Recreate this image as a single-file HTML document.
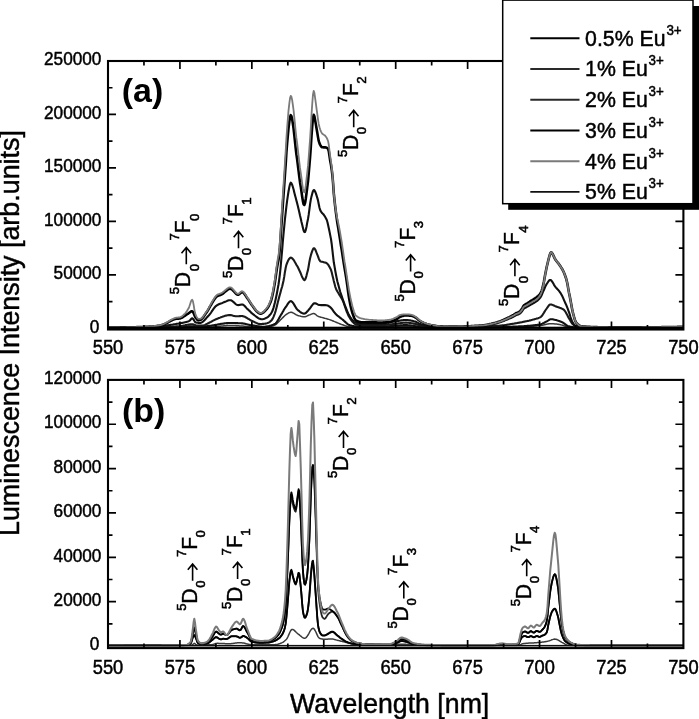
<!DOCTYPE html>
<html><head><meta charset="utf-8"><style>html,body{margin:0;padding:0;background:#fff;overflow:hidden}svg{display:block;will-change:transform}</style></head>
<body><svg width="699" height="719" viewBox="0 0 699 719">
<rect width="699" height="719" fill="#fff"/>
<g>
<path d="M108.0,328.1 108.7,328.1 109.4,328.1 110.2,328.1 110.9,328.1 111.6,328.1 112.3,328.1 113.0,328.1 113.8,328.1 114.5,328.1 115.2,328.1 115.9,328.1 116.6,328.1 117.4,328.1 118.1,328.1 118.8,328.1 119.5,328.1 120.2,328.1 120.9,328.1 121.7,328.1 122.4,328.1 123.1,328.1 123.8,328.1 124.5,328.1 125.3,328.1 126.0,328.1 126.7,328.1 127.4,328.1 128.1,328.1 128.9,328.1 129.6,328.1 130.3,328.1 131.0,328.1 131.7,328.1 132.5,328.1 133.2,328.1 133.9,328.1 134.6,328.1 135.3,328.0 136.1,328.0 136.8,328.0 137.5,328.0 138.2,328.0 138.9,328.0 139.6,328.0 140.4,328.0 141.1,328.0 141.8,328.0 142.5,328.0 143.2,328.0 144.0,328.0 144.7,328.0 145.4,328.0 146.1,328.0 146.8,328.0 147.6,328.0 148.3,328.0 149.0,328.0 149.7,328.0 150.4,328.0 151.2,328.0 151.9,328.0 152.6,328.0 153.3,328.0 154.0,328.0 154.8,328.0 155.5,328.0 156.2,328.0 156.9,328.0 157.6,327.9 158.3,327.9 159.1,327.9 159.8,327.9 160.5,327.9 161.2,327.9 161.9,327.9 162.7,327.9 163.4,327.9 164.1,327.9 164.8,327.9 165.5,327.9 166.3,327.9 167.0,327.9 167.7,327.9 168.4,327.9 169.1,327.9 169.9,327.9 170.6,327.9 171.3,327.8 172.0,327.8 172.7,327.8 173.5,327.8 174.2,327.8 174.9,327.8 175.6,327.8 176.3,327.8 177.0,327.8 177.8,327.8 178.5,327.8 179.2,327.8 179.9,327.8 180.6,327.8 181.4,327.7 182.1,327.7 182.8,327.6 183.5,327.6 184.2,327.5 185.0,327.5 185.7,327.4 186.4,327.3 187.1,327.3 187.8,327.2 188.6,327.2 189.3,327.1 190.0,327.1 190.7,327.0 191.4,327.0 192.2,327.0 192.9,327.0 193.6,327.0 194.3,327.0 195.0,327.0 195.7,327.0 196.5,327.0 197.2,327.0 197.9,327.0 198.6,327.0 199.3,327.0 200.1,327.0 200.8,327.0 201.5,327.0 202.2,327.0 202.9,327.0 203.7,327.0 204.4,327.0 205.1,327.0 205.8,327.0 206.5,327.0 207.3,327.0 208.0,327.0 208.7,327.0 209.4,327.0 210.1,327.0 210.9,327.0 211.6,326.9 212.3,326.9 213.0,326.9 213.7,326.8 214.4,326.8 215.2,326.7 215.9,326.6 216.6,326.6 217.3,326.5 218.0,326.4 218.8,326.3 219.5,326.3 220.2,326.2 220.9,326.1 221.6,326.0 222.4,326.0 223.1,325.9 223.8,325.8 224.5,325.8 225.2,325.7 226.0,325.7 226.7,325.6 227.4,325.6 228.1,325.6 228.8,325.5 229.6,325.5 230.3,325.5 231.0,325.5 231.7,325.5 232.4,325.5 233.1,325.6 233.9,325.6 234.6,325.6 235.3,325.6 236.0,325.7 236.7,325.7 237.5,325.8 238.2,325.8 238.9,325.8 239.6,325.9 240.3,325.9 241.1,326.0 241.8,326.0 242.5,326.1 243.2,326.1 243.9,326.2 244.7,326.3 245.4,326.3 246.1,326.4 246.8,326.4 247.5,326.5 248.3,326.5 249.0,326.5 249.7,326.6 250.4,326.6 251.1,326.7 251.8,326.7 252.6,326.7 253.3,326.8 254.0,326.8 254.7,326.8 255.4,326.9 256.2,326.9 256.9,326.9 257.6,327.0 258.3,327.0 259.0,327.0 259.8,327.1 260.5,327.1 261.2,327.1 261.9,327.2 262.6,327.2 263.4,327.2 264.1,327.2 264.8,327.2 265.5,327.2 266.2,327.2 267.0,327.2 267.7,327.2 268.4,327.1 269.1,326.9 269.8,326.8 270.6,326.6 271.3,326.4 272.0,326.2 272.7,325.9 273.4,325.7 274.1,325.4 274.9,325.1 275.6,324.7 276.3,324.2 277.0,323.5 277.7,322.8 278.5,322.0 279.2,321.2 279.9,320.5 280.6,319.7 281.3,319.1 282.1,318.3 282.8,317.6 283.5,316.9 284.2,316.2 284.9,315.5 285.7,314.9 286.4,314.4 287.1,313.9 287.8,313.5 288.5,313.0 289.3,312.6 290.0,312.4 290.7,312.3 291.4,312.3 292.1,312.5 292.8,312.8 293.6,313.2 294.3,313.6 295.0,314.0 295.7,314.5 296.4,314.9 297.2,315.2 297.9,315.5 298.6,315.7 299.3,315.9 300.0,316.1 300.8,316.3 301.5,316.4 302.2,316.6 302.9,316.7 303.6,316.7 304.4,316.7 305.1,316.7 305.8,316.5 306.5,316.2 307.2,315.9 308.0,315.5 308.7,315.2 309.4,314.9 310.1,314.7 310.8,314.4 311.5,314.1 312.3,313.8 313.0,313.6 313.7,313.5 314.4,313.7 315.1,314.1 315.9,314.7 316.6,315.3 317.3,315.8 318.0,316.2 318.7,316.5 319.5,316.8 320.2,317.0 320.9,317.2 321.6,317.4 322.3,317.6 323.1,317.8 323.8,318.0 324.5,318.2 325.2,318.4 325.9,318.6 326.7,318.8 327.4,319.0 328.1,319.2 328.8,319.4 329.5,319.6 330.2,319.9 331.0,320.1 331.7,320.4 332.4,320.7 333.1,321.0 333.8,321.3 334.6,321.6 335.3,321.9 336.0,322.2 336.7,322.5 337.4,322.8 338.2,323.1 338.9,323.4 339.6,323.7 340.3,324.0 341.0,324.3 341.8,324.6 342.5,324.8 343.2,325.0 343.9,325.3 344.6,325.5 345.4,325.8 346.1,326.0 346.8,326.2 347.5,326.4 348.2,326.6 348.9,326.7 349.7,326.8 350.4,326.9 351.1,326.9 351.8,327.0 352.5,327.0 353.3,327.0 354.0,327.0 354.7,327.1 355.4,327.1 356.1,327.1 356.9,327.1 357.6,327.1 358.3,327.2 359.0,327.2 359.7,327.2 360.5,327.2 361.2,327.2 361.9,327.3 362.6,327.3 363.3,327.3 364.1,327.3 364.8,327.3 365.5,327.3 366.2,327.3 366.9,327.3 367.6,327.4 368.4,327.4 369.1,327.4 369.8,327.4 370.5,327.4 371.2,327.4 372.0,327.4 372.7,327.4 373.4,327.4 374.1,327.4 374.8,327.4 375.6,327.4 376.3,327.4 377.0,327.4 377.7,327.4 378.4,327.4 379.2,327.4 379.9,327.4 380.6,327.4 381.3,327.4 382.0,327.4 382.8,327.4 383.5,327.4 384.2,327.4 384.9,327.4 385.6,327.4 386.3,327.4 387.1,327.3 387.8,327.3 388.5,327.3 389.2,327.2 389.9,327.2 390.7,327.2 391.4,327.1 392.1,327.1 392.8,327.1 393.5,327.0 394.3,327.0 395.0,326.9 395.7,326.9 396.4,326.9 397.1,326.8 397.9,326.8 398.6,326.8 399.3,326.7 400.0,326.7 400.7,326.7 401.5,326.7 402.2,326.6 402.9,326.6 403.6,326.6 404.3,326.6 405.1,326.6 405.8,326.6 406.5,326.6 407.2,326.6 407.9,326.6 408.6,326.7 409.4,326.7 410.1,326.7 410.8,326.8 411.5,326.9 412.2,326.9 413.0,327.0 413.7,327.0 414.4,327.1 415.1,327.2 415.8,327.2 416.6,327.3 417.3,327.4 418.0,327.4 418.7,327.5 419.4,327.6 420.2,327.6 420.9,327.7 421.6,327.7 422.3,327.7 423.0,327.7 423.8,327.8 424.5,327.8 425.2,327.8 425.9,327.8 426.6,327.8 427.3,327.8 428.1,327.8 428.8,327.8 429.5,327.8 430.2,327.8 430.9,327.8 431.7,327.8 432.4,327.8 433.1,327.8 433.8,327.8 434.5,327.8 435.3,327.8 436.0,327.8 436.7,327.8 437.4,327.8 438.1,327.8 438.9,327.8 439.6,327.8 440.3,327.8 441.0,327.8 441.7,327.8 442.5,327.8 443.2,327.8 443.9,327.8 444.6,327.8 445.3,327.7 446.0,327.7 446.8,327.7 447.5,327.7 448.2,327.7 448.9,327.7 449.6,327.7 450.4,327.7 451.1,327.7 451.8,327.7 452.5,327.7 453.2,327.7 454.0,327.7 454.7,327.7 455.4,327.7 456.1,327.7 456.8,327.7 457.6,327.7 458.3,327.7 459.0,327.7 459.7,327.7 460.4,327.7 461.2,327.7 461.9,327.7 462.6,327.7 463.3,327.7 464.0,327.7 464.7,327.7 465.5,327.7 466.2,327.7 466.9,327.7 467.6,327.7 468.3,327.7 469.1,327.7 469.8,327.7 470.5,327.7 471.2,327.7 471.9,327.7 472.7,327.7 473.4,327.7 474.1,327.7 474.8,327.7 475.5,327.7 476.3,327.7 477.0,327.7 477.7,327.7 478.4,327.7 479.1,327.6 479.9,327.6 480.6,327.6 481.3,327.6 482.0,327.6 482.7,327.6 483.4,327.6 484.2,327.6 484.9,327.6 485.6,327.6 486.3,327.6 487.0,327.6 487.8,327.6 488.5,327.6 489.2,327.6 489.9,327.6 490.6,327.6 491.4,327.6 492.1,327.6 492.8,327.6 493.5,327.6 494.2,327.6 495.0,327.6 495.7,327.6 496.4,327.6 497.1,327.5 497.8,327.5 498.6,327.5 499.3,327.5 500.0,327.5 500.7,327.5 501.4,327.5 502.1,327.5 502.9,327.5 503.6,327.5 504.3,327.5 505.0,327.5 505.7,327.5 506.5,327.5 507.2,327.5 507.9,327.5 508.6,327.5 509.3,327.5 510.1,327.5 510.8,327.4 511.5,327.4 512.2,327.4 512.9,327.4 513.7,327.4 514.4,327.4 515.1,327.4 515.8,327.3 516.5,327.3 517.3,327.3 518.0,327.3 518.7,327.2 519.4,327.2 520.1,327.2 520.8,327.1 521.6,327.1 522.3,327.0 523.0,327.0 523.7,327.0 524.4,326.9 525.2,326.9 525.9,326.8 526.6,326.8 527.3,326.7 528.0,326.7 528.8,326.6 529.5,326.5 530.2,326.5 530.9,326.4 531.6,326.4 532.4,326.3 533.1,326.2 533.8,326.2 534.5,326.1 535.2,326.0 536.0,326.0 536.7,325.9 537.4,325.8 538.1,325.8 538.8,325.7 539.5,325.6 540.3,325.5 541.0,325.4 541.7,325.3 542.4,325.2 543.1,325.0 543.9,324.9 544.6,324.7 545.3,324.5 546.0,324.4 546.7,324.2 547.5,324.1 548.2,324.0 548.9,323.8 549.6,323.8 550.3,323.7 551.1,323.7 551.8,323.7 552.5,323.7 553.2,323.8 553.9,323.8 554.7,323.9 555.4,324.0 556.1,324.1 556.8,324.1 557.5,324.2 558.3,324.3 559.0,324.5 559.7,324.6 560.4,324.7 561.1,324.9 561.8,325.1 562.6,325.3 563.3,325.5 564.0,325.8 564.7,326.1 565.4,326.3 566.2,326.5 566.9,326.7 567.6,326.9 568.3,327.0 569.0,327.1 569.8,327.2 570.5,327.3 571.2,327.4 571.9,327.5 572.6,327.5 573.4,327.6 574.1,327.7 574.8,327.8 575.5,327.8 576.2,327.9 577.0,327.9 577.7,327.9 578.4,328.0 579.1,328.0 579.8,328.0 580.5,328.0 581.3,328.0 582.0,328.0 582.7,328.0 583.4,328.0 584.1,328.0 584.9,328.0 585.6,328.0 586.3,328.0 587.0,328.0 587.7,328.0 588.5,328.0 589.2,328.0 589.9,328.0 590.6,328.0 591.3,328.0 592.1,328.0 592.8,328.0 593.5,328.0 594.2,328.0 594.9,328.0 595.7,328.0 596.4,328.0 597.1,328.0 597.8,328.0 598.5,328.0 599.2,328.0 600.0,328.0 600.7,328.0 601.4,328.0 602.1,328.0 602.8,328.0 603.6,328.0 604.3,328.0 605.0,328.0 605.7,328.0 606.4,328.0 607.2,328.0 607.9,328.0 608.6,328.0 609.3,328.0 610.0,328.0 610.8,328.0 611.5,328.0 612.2,328.0 612.9,328.0 613.6,328.0 614.4,328.0 615.1,328.0 615.8,328.0 616.5,328.0 617.2,328.0 617.9,328.0 618.7,328.0 619.4,328.0 620.1,328.0 620.8,328.0 621.5,328.0 622.3,328.0 623.0,328.0 623.7,328.0 624.4,328.0 625.1,328.0 625.9,328.0 626.6,328.0 627.3,328.0 628.0,328.0 628.7,328.0 629.5,328.0 630.2,328.0 630.9,328.0 631.6,328.0 632.3,328.0 633.1,328.0 633.8,328.0 634.5,328.0 635.2,328.0 635.9,328.0 636.6,328.0 637.4,328.0 638.1,328.0 638.8,328.0 639.5,328.0 640.2,328.0 641.0,328.0 641.7,328.0 642.4,328.0 643.1,328.0 643.8,328.0 644.6,328.0 645.3,328.0 646.0,328.0 646.7,328.0 647.4,328.0 648.2,328.0 648.9,328.0 649.6,328.0 650.3,328.0 651.0,328.0 651.8,328.0 652.5,328.0 653.2,328.0 653.9,328.0 654.6,328.0 655.3,328.0 656.1,328.0 656.8,328.0 657.5,328.0 658.2,328.0 658.9,328.0 659.7,328.0 660.4,328.0 661.1,328.0 661.8,328.0 662.5,328.0 663.3,328.0 664.0,328.0 664.7,328.0 665.4,328.0 666.1,328.0 666.9,328.0 667.6,328.0 668.3,328.0 669.0,328.0 669.7,328.0 670.5,328.0 671.2,328.0 671.9,328.0 672.6,328.0 673.3,328.0 674.0,328.0 674.8,328.0 675.5,328.0 676.2,328.0 676.9,328.0 677.6,328.0 678.4,328.0 679.1,328.0 679.8,328.0 680.5,328.0 681.2,328.0 682.0,328.0 682.7,328.0 683.4,328.0" stroke="#3a3a3a" stroke-width="1.5" fill="none" stroke-linejoin="round"/>
<path d="M108.0,328.1 108.7,328.1 109.4,328.1 110.2,328.1 110.9,328.1 111.6,328.1 112.3,328.1 113.0,328.1 113.8,328.1 114.5,328.1 115.2,328.1 115.9,328.1 116.6,328.1 117.4,328.1 118.1,328.1 118.8,328.1 119.5,328.1 120.2,328.1 120.9,328.1 121.7,328.1 122.4,328.1 123.1,328.1 123.8,328.1 124.5,328.1 125.3,328.1 126.0,328.1 126.7,328.1 127.4,328.0 128.1,328.0 128.9,328.0 129.6,328.0 130.3,328.0 131.0,328.0 131.7,328.0 132.5,328.0 133.2,328.0 133.9,328.0 134.6,328.0 135.3,328.0 136.1,328.0 136.8,328.0 137.5,328.0 138.2,328.0 138.9,328.0 139.6,328.0 140.4,328.0 141.1,328.0 141.8,328.0 142.5,328.0 143.2,328.0 144.0,327.9 144.7,327.9 145.4,327.9 146.1,327.9 146.8,327.9 147.6,327.9 148.3,327.9 149.0,327.9 149.7,327.9 150.4,327.9 151.2,327.9 151.9,327.9 152.6,327.9 153.3,327.9 154.0,327.9 154.8,327.8 155.5,327.8 156.2,327.8 156.9,327.8 157.6,327.8 158.3,327.8 159.1,327.8 159.8,327.8 160.5,327.8 161.2,327.8 161.9,327.8 162.7,327.7 163.4,327.7 164.1,327.7 164.8,327.7 165.5,327.7 166.3,327.7 167.0,327.7 167.7,327.7 168.4,327.7 169.1,327.6 169.9,327.6 170.6,327.6 171.3,327.6 172.0,327.6 172.7,327.6 173.5,327.6 174.2,327.6 174.9,327.5 175.6,327.5 176.3,327.5 177.0,327.5 177.8,327.5 178.5,327.5 179.2,327.5 179.9,327.4 180.6,327.4 181.4,327.4 182.1,327.3 182.8,327.2 183.5,327.1 184.2,327.0 185.0,326.9 185.7,326.8 186.4,326.7 187.1,326.6 187.8,326.5 188.6,326.4 189.3,326.3 190.0,326.3 190.7,326.2 191.4,326.2 192.2,326.2 192.9,326.2 193.6,326.3 194.3,326.5 195.0,326.7 195.7,326.8 196.5,327.0 197.2,327.0 197.9,327.0 198.6,327.0 199.3,327.0 200.1,326.9 200.8,326.9 201.5,326.8 202.2,326.7 202.9,326.6 203.7,326.6 204.4,326.5 205.1,326.4 205.8,326.3 206.5,326.2 207.3,326.1 208.0,326.0 208.7,325.9 209.4,325.9 210.1,325.8 210.9,325.7 211.6,325.6 212.3,325.5 213.0,325.3 213.7,325.2 214.4,325.1 215.2,325.0 215.9,324.8 216.6,324.7 217.3,324.6 218.0,324.4 218.8,324.3 219.5,324.2 220.2,324.0 220.9,323.9 221.6,323.8 222.4,323.7 223.1,323.6 223.8,323.5 224.5,323.4 225.2,323.3 226.0,323.2 226.7,323.1 227.4,323.1 228.1,323.0 228.8,323.0 229.6,323.0 230.3,323.0 231.0,323.0 231.7,323.0 232.4,323.0 233.1,323.0 233.9,323.0 234.6,323.0 235.3,323.0 236.0,323.1 236.7,323.1 237.5,323.1 238.2,323.2 238.9,323.2 239.6,323.3 240.3,323.3 241.1,323.3 241.8,323.4 242.5,323.4 243.2,323.5 243.9,323.6 244.7,323.8 245.4,323.9 246.1,324.1 246.8,324.2 247.5,324.4 248.3,324.6 249.0,324.7 249.7,324.9 250.4,325.1 251.1,325.2 251.8,325.3 252.6,325.4 253.3,325.5 254.0,325.6 254.7,325.8 255.4,325.9 256.2,326.0 256.9,326.1 257.6,326.2 258.3,326.3 259.0,326.4 259.8,326.5 260.5,326.6 261.2,326.6 261.9,326.7 262.6,326.7 263.4,326.7 264.1,326.7 264.8,326.7 265.5,326.6 266.2,326.5 267.0,326.4 267.7,326.3 268.4,326.2 269.1,326.0 269.8,325.8 270.6,325.6 271.3,325.4 272.0,325.1 272.7,324.9 273.4,324.6 274.1,324.3 274.9,324.0 275.6,323.5 276.3,322.8 277.0,321.7 277.7,320.6 278.5,319.3 279.2,318.0 279.9,316.7 280.6,315.5 281.3,314.3 282.1,313.1 282.8,311.8 283.5,310.6 284.2,309.3 284.9,308.2 285.7,307.1 286.4,306.1 287.1,305.0 287.8,303.9 288.5,302.9 289.3,302.0 290.0,301.4 290.7,301.1 291.4,301.3 292.1,301.8 292.8,302.6 293.6,303.7 294.3,304.9 295.0,306.1 295.7,307.3 296.4,308.5 297.2,309.4 297.9,310.1 298.6,310.7 299.3,311.2 300.0,311.8 300.8,312.3 301.5,312.8 302.2,313.1 302.9,313.4 303.6,313.6 304.4,313.6 305.1,313.4 305.8,313.0 306.5,312.3 307.2,311.5 308.0,310.7 308.7,309.8 309.4,309.1 310.1,308.2 310.8,307.2 311.5,306.1 312.3,305.1 313.0,304.2 313.7,303.5 314.4,303.2 315.1,303.2 315.9,303.5 316.6,303.8 317.3,304.2 318.0,304.6 318.7,304.9 319.5,305.0 320.2,305.0 320.9,305.1 321.6,305.1 322.3,305.1 323.1,305.1 323.8,305.1 324.5,305.1 325.2,305.1 325.9,305.2 326.7,305.2 327.4,305.4 328.1,305.7 328.8,306.1 329.5,306.7 330.2,307.2 331.0,307.9 331.7,308.7 332.4,309.6 333.1,310.6 333.8,311.7 334.6,312.6 335.3,313.5 336.0,314.2 336.7,314.9 337.4,315.6 338.2,316.2 338.9,316.7 339.6,317.3 340.3,317.9 341.0,318.4 341.8,319.0 342.5,319.5 343.2,320.1 343.9,320.8 344.6,321.4 345.4,322.1 346.1,322.8 346.8,323.4 347.5,324.0 348.2,324.5 348.9,324.9 349.7,325.1 350.4,325.4 351.1,325.6 351.8,325.8 352.5,326.0 353.3,326.1 354.0,326.3 354.7,326.3 355.4,326.4 356.1,326.4 356.9,326.4 357.6,326.4 358.3,326.4 359.0,326.4 359.7,326.4 360.5,326.4 361.2,326.4 361.9,326.4 362.6,326.4 363.3,326.4 364.1,326.4 364.8,326.4 365.5,326.4 366.2,326.5 366.9,326.5 367.6,326.5 368.4,326.5 369.1,326.5 369.8,326.5 370.5,326.5 371.2,326.5 372.0,326.5 372.7,326.5 373.4,326.5 374.1,326.5 374.8,326.5 375.6,326.5 376.3,326.5 377.0,326.5 377.7,326.5 378.4,326.5 379.2,326.5 379.9,326.5 380.6,326.5 381.3,326.5 382.0,326.5 382.8,326.5 383.5,326.5 384.2,326.4 384.9,326.4 385.6,326.4 386.3,326.3 387.1,326.3 387.8,326.3 388.5,326.2 389.2,326.2 389.9,326.1 390.7,326.1 391.4,326.0 392.1,326.0 392.8,325.9 393.5,325.9 394.3,325.8 395.0,325.8 395.7,325.7 396.4,325.7 397.1,325.6 397.9,325.6 398.6,325.5 399.3,325.5 400.0,325.4 400.7,325.3 401.5,325.3 402.2,325.2 402.9,325.2 403.6,325.1 404.3,325.1 405.1,325.1 405.8,325.1 406.5,325.1 407.2,325.1 407.9,325.2 408.6,325.2 409.4,325.3 410.1,325.4 410.8,325.5 411.5,325.6 412.2,325.7 413.0,325.8 413.7,325.9 414.4,326.0 415.1,326.1 415.8,326.2 416.6,326.2 417.3,326.3 418.0,326.4 418.7,326.5 419.4,326.6 420.2,326.7 420.9,326.8 421.6,326.9 422.3,327.0 423.0,327.1 423.8,327.2 424.5,327.3 425.2,327.4 425.9,327.4 426.6,327.5 427.3,327.6 428.1,327.6 428.8,327.6 429.5,327.7 430.2,327.7 430.9,327.7 431.7,327.7 432.4,327.7 433.1,327.7 433.8,327.7 434.5,327.7 435.3,327.7 436.0,327.7 436.7,327.7 437.4,327.7 438.1,327.6 438.9,327.6 439.6,327.6 440.3,327.6 441.0,327.6 441.7,327.6 442.5,327.6 443.2,327.6 443.9,327.6 444.6,327.6 445.3,327.6 446.0,327.6 446.8,327.6 447.5,327.6 448.2,327.6 448.9,327.6 449.6,327.6 450.4,327.6 451.1,327.6 451.8,327.6 452.5,327.6 453.2,327.6 454.0,327.6 454.7,327.6 455.4,327.6 456.1,327.6 456.8,327.5 457.6,327.5 458.3,327.5 459.0,327.5 459.7,327.5 460.4,327.5 461.2,327.5 461.9,327.5 462.6,327.5 463.3,327.5 464.0,327.5 464.7,327.5 465.5,327.5 466.2,327.5 466.9,327.5 467.6,327.4 468.3,327.4 469.1,327.4 469.8,327.4 470.5,327.4 471.2,327.4 471.9,327.4 472.7,327.4 473.4,327.4 474.1,327.4 474.8,327.4 475.5,327.3 476.3,327.3 477.0,327.3 477.7,327.3 478.4,327.3 479.1,327.3 479.9,327.3 480.6,327.3 481.3,327.3 482.0,327.3 482.7,327.2 483.4,327.2 484.2,327.2 484.9,327.2 485.6,327.2 486.3,327.2 487.0,327.2 487.8,327.2 488.5,327.1 489.2,327.1 489.9,327.1 490.6,327.1 491.4,327.1 492.1,327.1 492.8,327.1 493.5,327.1 494.2,327.0 495.0,327.0 495.7,327.0 496.4,327.0 497.1,327.0 497.8,327.0 498.6,327.0 499.3,326.9 500.0,326.9 500.7,326.9 501.4,326.9 502.1,326.9 502.9,326.9 503.6,326.9 504.3,326.8 505.0,326.8 505.7,326.8 506.5,326.8 507.2,326.8 507.9,326.8 508.6,326.7 509.3,326.7 510.1,326.7 510.8,326.7 511.5,326.7 512.2,326.7 512.9,326.6 513.7,326.6 514.4,326.6 515.1,326.6 515.8,326.6 516.5,326.5 517.3,326.5 518.0,326.5 518.7,326.4 519.4,326.4 520.1,326.4 520.8,326.3 521.6,326.3 522.3,326.3 523.0,326.2 523.7,326.2 524.4,326.1 525.2,326.1 525.9,326.0 526.6,326.0 527.3,325.9 528.0,325.9 528.8,325.8 529.5,325.7 530.2,325.7 530.9,325.6 531.6,325.5 532.4,325.5 533.1,325.4 533.8,325.3 534.5,325.2 535.2,325.1 536.0,325.0 536.7,325.0 537.4,324.9 538.1,324.8 538.8,324.7 539.5,324.6 540.3,324.4 541.0,324.2 541.7,323.9 542.4,323.6 543.1,323.2 543.9,322.9 544.6,322.5 545.3,322.1 546.0,321.7 546.7,321.4 547.5,321.0 548.2,320.5 548.9,320.0 549.6,319.6 550.3,319.3 551.1,319.2 551.8,319.2 552.5,319.3 553.2,319.4 553.9,319.6 554.7,319.7 555.4,319.9 556.1,320.1 556.8,320.3 557.5,320.5 558.3,320.7 559.0,320.9 559.7,321.2 560.4,321.5 561.1,321.8 561.8,322.1 562.6,322.4 563.3,322.8 564.0,323.3 564.7,323.9 565.4,324.5 566.2,325.0 566.9,325.5 567.6,325.9 568.3,326.2 569.0,326.3 569.8,326.5 570.5,326.7 571.2,326.8 571.9,327.0 572.6,327.1 573.4,327.2 574.1,327.3 574.8,327.4 575.5,327.5 576.2,327.6 577.0,327.6 577.7,327.7 578.4,327.7 579.1,327.8 579.8,327.8 580.5,327.8 581.3,327.8 582.0,327.8 582.7,327.8 583.4,327.8 584.1,327.8 584.9,327.8 585.6,327.8 586.3,327.8 587.0,327.8 587.7,327.8 588.5,327.8 589.2,327.8 589.9,327.8 590.6,327.8 591.3,327.8 592.1,327.8 592.8,327.8 593.5,327.8 594.2,327.8 594.9,327.8 595.7,327.8 596.4,327.8 597.1,327.8 597.8,327.8 598.5,327.8 599.2,327.8 600.0,327.8 600.7,327.8 601.4,327.8 602.1,327.8 602.8,327.8 603.6,327.8 604.3,327.8 605.0,327.8 605.7,327.8 606.4,327.8 607.2,327.8 607.9,327.8 608.6,327.8 609.3,327.8 610.0,327.8 610.8,327.8 611.5,327.8 612.2,327.8 612.9,327.8 613.6,327.8 614.4,327.8 615.1,327.8 615.8,327.8 616.5,327.8 617.2,327.8 617.9,327.8 618.7,327.8 619.4,327.8 620.1,327.8 620.8,327.8 621.5,327.8 622.3,327.8 623.0,327.8 623.7,327.8 624.4,327.8 625.1,327.8 625.9,327.8 626.6,327.8 627.3,327.8 628.0,327.8 628.7,327.8 629.5,327.8 630.2,327.8 630.9,327.8 631.6,327.8 632.3,327.8 633.1,327.8 633.8,327.8 634.5,327.8 635.2,327.8 635.9,327.8 636.6,327.8 637.4,327.8 638.1,327.8 638.8,327.8 639.5,327.8 640.2,327.8 641.0,327.8 641.7,327.8 642.4,327.8 643.1,327.8 643.8,327.8 644.6,327.8 645.3,327.8 646.0,327.8 646.7,327.8 647.4,327.8 648.2,327.8 648.9,327.8 649.6,327.8 650.3,327.8 651.0,327.8 651.8,327.8 652.5,327.8 653.2,327.8 653.9,327.8 654.6,327.8 655.3,327.8 656.1,327.8 656.8,327.8 657.5,327.8 658.2,327.8 658.9,327.8 659.7,327.8 660.4,327.8 661.1,327.8 661.8,327.8 662.5,327.8 663.3,327.8 664.0,327.8 664.7,327.8 665.4,327.8 666.1,327.8 666.9,327.8 667.6,327.8 668.3,327.8 669.0,327.8 669.7,327.8 670.5,327.8 671.2,327.8 671.9,327.8 672.6,327.8 673.3,327.8 674.0,327.8 674.8,327.8 675.5,327.8 676.2,327.8 676.9,327.8 677.6,327.8 678.4,327.8 679.1,327.8 679.8,327.8 680.5,327.8 681.2,327.8 682.0,327.8 682.7,327.8 683.4,327.8" stroke="#111" stroke-width="2.1" fill="none" stroke-linejoin="round"/>
<path d="M108.0,328.0 108.7,328.0 109.4,328.0 110.2,328.0 110.9,328.0 111.6,328.0 112.3,328.0 113.0,328.0 113.8,328.0 114.5,328.0 115.2,328.0 115.9,328.0 116.6,328.0 117.4,328.0 118.1,328.0 118.8,328.0 119.5,328.0 120.2,328.0 120.9,327.9 121.7,327.9 122.4,327.9 123.1,327.9 123.8,327.9 124.5,327.9 125.3,327.9 126.0,327.9 126.7,327.9 127.4,327.9 128.1,327.9 128.9,327.9 129.6,327.9 130.3,327.9 131.0,327.9 131.7,327.9 132.5,327.9 133.2,327.9 133.9,327.9 134.6,327.9 135.3,327.8 136.1,327.8 136.8,327.8 137.5,327.8 138.2,327.8 138.9,327.8 139.6,327.8 140.4,327.8 141.1,327.8 141.8,327.8 142.5,327.8 143.2,327.8 144.0,327.8 144.7,327.7 145.4,327.7 146.1,327.7 146.8,327.7 147.6,327.7 148.3,327.7 149.0,327.7 149.7,327.7 150.4,327.7 151.2,327.7 151.9,327.6 152.6,327.6 153.3,327.6 154.0,327.6 154.8,327.6 155.5,327.5 156.2,327.5 156.9,327.5 157.6,327.4 158.3,327.4 159.1,327.4 159.8,327.3 160.5,327.3 161.2,327.3 161.9,327.2 162.7,327.2 163.4,327.1 164.1,327.1 164.8,327.1 165.5,327.0 166.3,327.0 167.0,326.9 167.7,326.9 168.4,326.9 169.1,326.8 169.9,326.8 170.6,326.8 171.3,326.7 172.0,326.7 172.7,326.7 173.5,326.6 174.2,326.6 174.9,326.5 175.6,326.5 176.3,326.4 177.0,326.4 177.8,326.3 178.5,326.3 179.2,326.2 179.9,326.2 180.6,326.1 181.4,326.0 182.1,325.9 182.8,325.7 183.5,325.6 184.2,325.5 185.0,325.3 185.7,325.1 186.4,325.0 187.1,324.8 187.8,324.7 188.6,324.6 189.3,324.5 190.0,324.4 190.7,324.3 191.4,324.3 192.2,324.2 192.9,324.3 193.6,324.5 194.3,324.8 195.0,325.1 195.7,325.3 196.5,325.5 197.2,325.6 197.9,325.6 198.6,325.6 199.3,325.6 200.1,325.6 200.8,325.6 201.5,325.6 202.2,325.5 202.9,325.5 203.7,325.4 204.4,325.2 205.1,324.9 205.8,324.5 206.5,324.1 207.3,323.7 208.0,323.3 208.7,323.0 209.4,322.6 210.1,322.2 210.9,321.9 211.6,321.5 212.3,321.1 213.0,320.7 213.7,320.3 214.4,320.0 215.2,319.6 215.9,319.3 216.6,319.0 217.3,318.7 218.0,318.4 218.8,318.1 219.5,317.9 220.2,317.6 220.9,317.3 221.6,317.0 222.4,316.8 223.1,316.5 223.8,316.3 224.5,316.0 225.2,315.8 226.0,315.6 226.7,315.5 227.4,315.3 228.1,315.2 228.8,315.1 229.6,315.1 230.3,315.0 231.0,315.1 231.7,315.2 232.4,315.4 233.1,315.7 233.9,315.9 234.6,316.1 235.3,316.3 236.0,316.3 236.7,316.3 237.5,316.3 238.2,316.2 238.9,316.2 239.6,316.1 240.3,316.1 241.1,316.0 241.8,316.0 242.5,316.1 243.2,316.2 243.9,316.4 244.7,316.7 245.4,317.1 246.1,317.5 246.8,317.9 247.5,318.3 248.3,318.8 249.0,319.2 249.7,319.7 250.4,320.1 251.1,320.5 251.8,320.8 252.6,321.1 253.3,321.5 254.0,321.8 254.7,322.2 255.4,322.5 256.2,322.9 256.9,323.2 257.6,323.5 258.3,323.7 259.0,323.9 259.8,324.0 260.5,324.0 261.2,324.0 261.9,324.0 262.6,323.9 263.4,323.9 264.1,323.8 264.8,323.7 265.5,323.6 266.2,323.5 267.0,323.3 267.7,323.1 268.4,322.7 269.1,322.3 269.8,321.8 270.6,321.2 271.3,320.5 272.0,319.7 272.7,318.7 273.4,317.1 274.1,315.3 274.9,313.3 275.6,311.1 276.3,308.5 277.0,305.7 277.7,302.7 278.5,299.8 279.2,297.1 279.9,294.5 280.6,291.9 281.3,289.3 282.1,286.7 282.8,283.8 283.5,280.7 284.2,276.9 284.9,272.2 285.7,267.8 286.4,264.8 287.1,263.0 287.8,261.3 288.5,259.9 289.3,258.7 290.0,258.0 290.7,257.6 291.4,257.8 292.1,258.2 292.8,259.0 293.6,259.9 294.3,261.0 295.0,262.3 295.7,263.5 296.4,264.8 297.2,266.0 297.9,267.3 298.6,268.7 299.3,270.2 300.0,271.7 300.8,273.5 301.5,275.4 302.2,277.0 302.9,278.3 303.6,279.5 304.4,280.2 305.1,279.7 305.8,278.0 306.5,275.6 307.2,272.8 308.0,269.9 308.7,266.0 309.4,261.7 310.1,258.2 310.8,255.6 311.5,253.1 312.3,250.8 313.0,249.1 313.7,248.2 314.4,248.3 315.1,249.3 315.9,251.0 316.6,252.9 317.3,254.6 318.0,256.4 318.7,258.4 319.5,260.2 320.2,261.2 320.9,261.5 321.6,261.7 322.3,261.8 323.1,262.0 323.8,262.2 324.5,262.4 325.2,262.6 325.9,262.8 326.7,263.2 327.4,263.8 328.1,264.7 328.8,265.7 329.5,266.9 330.2,268.2 331.0,269.9 331.7,272.3 332.4,275.2 333.1,278.0 333.8,281.0 334.6,284.1 335.3,286.8 336.0,288.7 336.7,290.2 337.4,291.5 338.2,292.8 338.9,294.0 339.6,295.2 340.3,296.3 341.0,297.4 341.8,298.6 342.5,300.0 343.2,301.5 343.9,303.4 344.6,305.5 345.4,307.8 346.1,309.9 346.8,311.8 347.5,313.4 348.2,315.0 348.9,316.5 349.7,317.8 350.4,318.9 351.1,319.9 351.8,320.9 352.5,321.8 353.3,322.6 354.0,323.3 354.7,323.9 355.4,324.2 356.1,324.4 356.9,324.6 357.6,324.7 358.3,324.8 359.0,325.0 359.7,325.0 360.5,325.1 361.2,325.1 361.9,325.1 362.6,325.1 363.3,325.1 364.1,325.1 364.8,325.1 365.5,325.1 366.2,325.1 366.9,325.1 367.6,325.1 368.4,325.1 369.1,325.1 369.8,325.1 370.5,325.1 371.2,325.1 372.0,325.1 372.7,325.1 373.4,325.1 374.1,325.1 374.8,325.1 375.6,325.1 376.3,325.1 377.0,325.1 377.7,325.1 378.4,325.1 379.2,325.1 379.9,325.1 380.6,325.1 381.3,325.1 382.0,325.1 382.8,325.1 383.5,325.0 384.2,325.0 384.9,325.0 385.6,324.9 386.3,324.8 387.1,324.8 387.8,324.7 388.5,324.6 389.2,324.6 389.9,324.5 390.7,324.4 391.4,324.3 392.1,324.2 392.8,324.1 393.5,324.0 394.3,324.0 395.0,323.9 395.7,323.8 396.4,323.7 397.1,323.6 397.9,323.5 398.6,323.4 399.3,323.3 400.0,323.2 400.7,323.1 401.5,323.0 402.2,322.9 402.9,322.8 403.6,322.7 404.3,322.7 405.1,322.6 405.8,322.6 406.5,322.6 407.2,322.7 407.9,322.7 408.6,322.8 409.4,322.9 410.1,323.0 410.8,323.1 411.5,323.2 412.2,323.3 413.0,323.5 413.7,323.6 414.4,323.7 415.1,323.9 415.8,324.0 416.6,324.2 417.3,324.4 418.0,324.7 418.7,324.9 419.4,325.2 420.2,325.5 420.9,325.8 421.6,326.1 422.3,326.3 423.0,326.5 423.8,326.6 424.5,326.7 425.2,326.7 425.9,326.8 426.6,326.8 427.3,326.8 428.1,326.9 428.8,326.9 429.5,327.0 430.2,327.0 430.9,327.0 431.7,327.0 432.4,327.1 433.1,327.1 433.8,327.1 434.5,327.1 435.3,327.2 436.0,327.2 436.7,327.2 437.4,327.2 438.1,327.3 438.9,327.3 439.6,327.3 440.3,327.3 441.0,327.3 441.7,327.3 442.5,327.4 443.2,327.4 443.9,327.4 444.6,327.4 445.3,327.4 446.0,327.4 446.8,327.4 447.5,327.4 448.2,327.4 448.9,327.4 449.6,327.4 450.4,327.4 451.1,327.4 451.8,327.4 452.5,327.4 453.2,327.4 454.0,327.4 454.7,327.4 455.4,327.4 456.1,327.4 456.8,327.4 457.6,327.4 458.3,327.4 459.0,327.4 459.7,327.4 460.4,327.4 461.2,327.4 461.9,327.4 462.6,327.4 463.3,327.3 464.0,327.3 464.7,327.3 465.5,327.3 466.2,327.3 466.9,327.3 467.6,327.2 468.3,327.2 469.1,327.2 469.8,327.2 470.5,327.2 471.2,327.1 471.9,327.1 472.7,327.1 473.4,327.1 474.1,327.0 474.8,327.0 475.5,327.0 476.3,327.0 477.0,326.9 477.7,326.9 478.4,326.9 479.1,326.8 479.9,326.8 480.6,326.8 481.3,326.7 482.0,326.7 482.7,326.7 483.4,326.6 484.2,326.6 484.9,326.6 485.6,326.5 486.3,326.5 487.0,326.4 487.8,326.4 488.5,326.4 489.2,326.3 489.9,326.3 490.6,326.2 491.4,326.2 492.1,326.1 492.8,326.1 493.5,326.1 494.2,326.0 495.0,326.0 495.7,325.9 496.4,325.9 497.1,325.8 497.8,325.8 498.6,325.7 499.3,325.7 500.0,325.6 500.7,325.6 501.4,325.5 502.1,325.4 502.9,325.4 503.6,325.3 504.3,325.2 505.0,325.1 505.7,325.0 506.5,324.9 507.2,324.8 507.9,324.6 508.6,324.5 509.3,324.4 510.1,324.3 510.8,324.1 511.5,324.0 512.2,323.9 512.9,323.8 513.7,323.7 514.4,323.5 515.1,323.4 515.8,323.3 516.5,323.2 517.3,323.0 518.0,322.9 518.7,322.8 519.4,322.6 520.1,322.5 520.8,322.4 521.6,322.2 522.3,322.1 523.0,321.9 523.7,321.8 524.4,321.6 525.2,321.5 525.9,321.3 526.6,321.2 527.3,321.0 528.0,320.9 528.8,320.7 529.5,320.5 530.2,320.4 530.9,320.2 531.6,320.0 532.4,319.8 533.1,319.6 533.8,319.4 534.5,319.2 535.2,319.0 536.0,318.8 536.7,318.6 537.4,318.4 538.1,318.2 538.8,317.9 539.5,317.6 540.3,317.2 541.0,316.8 541.7,316.1 542.4,315.1 543.1,314.0 543.9,312.8 544.6,311.6 545.3,310.5 546.0,309.5 546.7,308.5 547.5,307.4 548.2,306.4 548.9,305.4 549.6,304.8 550.3,304.5 551.1,304.5 551.8,304.6 552.5,304.9 553.2,305.2 553.9,305.5 554.7,305.9 555.4,306.2 556.1,306.5 556.8,306.8 557.5,307.1 558.3,307.3 559.0,307.5 559.7,307.8 560.4,308.0 561.1,308.3 561.8,308.6 562.6,309.0 563.3,309.4 564.0,309.9 564.7,310.7 565.4,311.8 566.2,313.1 566.9,314.4 567.6,315.8 568.3,317.2 569.0,318.4 569.8,319.6 570.5,320.9 571.2,322.1 571.9,323.2 572.6,324.0 573.4,324.8 574.1,325.5 574.8,326.2 575.5,326.7 576.2,327.1 577.0,327.2 577.7,327.2 578.4,327.2 579.1,327.2 579.8,327.2 580.5,327.3 581.3,327.3 582.0,327.3 582.7,327.3 583.4,327.3 584.1,327.3 584.9,327.3 585.6,327.3 586.3,327.3 587.0,327.3 587.7,327.3 588.5,327.3 589.2,327.3 589.9,327.3 590.6,327.3 591.3,327.3 592.1,327.3 592.8,327.3 593.5,327.3 594.2,327.3 594.9,327.3 595.7,327.3 596.4,327.3 597.1,327.3 597.8,327.3 598.5,327.3 599.2,327.3 600.0,327.3 600.7,327.3 601.4,327.3 602.1,327.3 602.8,327.3 603.6,327.4 604.3,327.4 605.0,327.4 605.7,327.4 606.4,327.4 607.2,327.4 607.9,327.4 608.6,327.4 609.3,327.4 610.0,327.4 610.8,327.4 611.5,327.4 612.2,327.4 612.9,327.4 613.6,327.4 614.4,327.4 615.1,327.4 615.8,327.4 616.5,327.4 617.2,327.4 617.9,327.4 618.7,327.4 619.4,327.4 620.1,327.4 620.8,327.4 621.5,327.4 622.3,327.4 623.0,327.4 623.7,327.4 624.4,327.4 625.1,327.4 625.9,327.4 626.6,327.4 627.3,327.4 628.0,327.4 628.7,327.4 629.5,327.4 630.2,327.4 630.9,327.4 631.6,327.4 632.3,327.4 633.1,327.4 633.8,327.4 634.5,327.4 635.2,327.4 635.9,327.4 636.6,327.4 637.4,327.4 638.1,327.4 638.8,327.4 639.5,327.4 640.2,327.4 641.0,327.4 641.7,327.4 642.4,327.4 643.1,327.4 643.8,327.4 644.6,327.4 645.3,327.4 646.0,327.4 646.7,327.4 647.4,327.4 648.2,327.4 648.9,327.4 649.6,327.4 650.3,327.4 651.0,327.4 651.8,327.4 652.5,327.4 653.2,327.4 653.9,327.4 654.6,327.4 655.3,327.4 656.1,327.4 656.8,327.4 657.5,327.4 658.2,327.4 658.9,327.4 659.7,327.4 660.4,327.4 661.1,327.4 661.8,327.4 662.5,327.4 663.3,327.4 664.0,327.4 664.7,327.4 665.4,327.4 666.1,327.4 666.9,327.4 667.6,327.4 668.3,327.4 669.0,327.4 669.7,327.4 670.5,327.4 671.2,327.4 671.9,327.4 672.6,327.4 673.3,327.4 674.0,327.4 674.8,327.4 675.5,327.4 676.2,327.4 676.9,327.4 677.6,327.4 678.4,327.4 679.1,327.4 679.8,327.4 680.5,327.4 681.2,327.4 682.0,327.4 682.7,327.4 683.4,327.4" stroke="#1a1a1a" stroke-width="2.1" fill="none" stroke-linejoin="round"/>
<path d="M108.0,327.8 108.7,327.8 109.4,327.8 110.2,327.8 110.9,327.8 111.6,327.8 112.3,327.8 113.0,327.8 113.8,327.8 114.5,327.8 115.2,327.8 115.9,327.7 116.6,327.7 117.4,327.7 118.1,327.7 118.8,327.7 119.5,327.7 120.2,327.7 120.9,327.7 121.7,327.7 122.4,327.7 123.1,327.7 123.8,327.7 124.5,327.7 125.3,327.7 126.0,327.7 126.7,327.7 127.4,327.7 128.1,327.7 128.9,327.6 129.6,327.6 130.3,327.6 131.0,327.6 131.7,327.6 132.5,327.6 133.2,327.6 133.9,327.6 134.6,327.6 135.3,327.6 136.1,327.5 136.8,327.5 137.5,327.5 138.2,327.5 138.9,327.5 139.6,327.5 140.4,327.5 141.1,327.5 141.8,327.4 142.5,327.4 143.2,327.4 144.0,327.4 144.7,327.4 145.4,327.4 146.1,327.4 146.8,327.3 147.6,327.3 148.3,327.3 149.0,327.3 149.7,327.3 150.4,327.2 151.2,327.2 151.9,327.2 152.6,327.2 153.3,327.1 154.0,327.1 154.8,327.0 155.5,326.9 156.2,326.9 156.9,326.8 157.6,326.7 158.3,326.6 159.1,326.5 159.8,326.4 160.5,326.3 161.2,326.2 161.9,326.1 162.7,326.0 163.4,325.9 164.1,325.8 164.8,325.7 165.5,325.6 166.3,325.5 167.0,325.4 167.7,325.3 168.4,325.2 169.1,325.1 169.9,325.0 170.6,324.9 171.3,324.8 172.0,324.7 172.7,324.6 173.5,324.4 174.2,324.3 174.9,324.2 175.6,324.1 176.3,323.9 177.0,323.8 177.8,323.7 178.5,323.6 179.2,323.5 179.9,323.3 180.6,323.2 181.4,323.0 182.1,322.9 182.8,322.7 183.5,322.6 184.2,322.4 185.0,322.2 185.7,322.1 186.4,321.9 187.1,321.7 187.8,321.5 188.6,321.2 189.3,320.9 190.0,320.4 190.7,319.5 191.4,318.7 192.2,318.3 192.9,318.6 193.6,319.6 194.3,320.8 195.0,321.9 195.7,322.4 196.5,322.6 197.2,322.7 197.9,322.8 198.6,322.9 199.3,322.9 200.1,323.0 200.8,322.9 201.5,322.6 202.2,322.2 202.9,321.7 203.7,321.0 204.4,320.3 205.1,319.5 205.8,318.7 206.5,317.9 207.3,317.0 208.0,316.2 208.7,315.5 209.4,314.7 210.1,313.8 210.9,312.8 211.6,311.7 212.3,310.7 213.0,309.6 213.7,308.6 214.4,307.7 215.2,306.8 215.9,306.1 216.6,305.5 217.3,305.1 218.0,304.7 218.8,304.3 219.5,304.0 220.2,303.7 220.9,303.4 221.6,303.2 222.4,302.9 223.1,302.6 223.8,302.3 224.5,302.0 225.2,301.7 226.0,301.4 226.7,301.1 227.4,300.8 228.1,300.5 228.8,300.3 229.6,300.2 230.3,300.2 231.0,300.3 231.7,300.6 232.4,301.1 233.1,301.7 233.9,302.4 234.6,303.0 235.3,303.7 236.0,304.3 236.7,304.7 237.5,305.0 238.2,305.1 238.9,305.0 239.6,304.9 240.3,304.7 241.1,304.6 241.8,304.5 242.5,304.5 243.2,304.8 243.9,305.3 244.7,306.0 245.4,306.8 246.1,307.6 246.8,308.4 247.5,309.1 248.3,309.7 249.0,310.4 249.7,311.1 250.4,311.8 251.1,312.6 251.8,313.2 252.6,313.8 253.3,314.4 254.0,314.9 254.7,315.5 255.4,316.0 256.2,316.6 256.9,317.1 257.6,317.6 258.3,318.1 259.0,318.5 259.8,318.8 260.5,319.1 261.2,319.3 261.9,319.3 262.6,319.3 263.4,319.1 264.1,318.9 264.8,318.6 265.5,318.3 266.2,317.9 267.0,317.5 267.7,317.1 268.4,316.5 269.1,315.8 269.8,315.0 270.6,314.1 271.3,313.0 272.0,311.8 272.7,310.3 273.4,308.1 274.1,305.6 274.9,302.6 275.6,299.5 276.3,296.2 277.0,292.7 277.7,288.9 278.5,284.5 279.2,279.7 279.9,274.2 280.6,267.4 281.3,259.3 282.1,250.6 282.8,242.0 283.5,234.2 284.2,226.9 284.9,219.6 285.7,212.7 286.4,206.3 287.1,200.9 287.8,196.2 288.5,191.5 289.3,187.3 290.0,184.1 290.7,182.7 291.4,183.1 292.1,184.6 292.8,186.8 293.6,189.5 294.3,192.4 295.0,195.2 295.7,197.8 296.4,200.5 297.2,203.4 297.9,206.3 298.6,209.3 299.3,212.3 300.0,215.5 300.8,218.8 301.5,222.0 302.2,224.8 302.9,227.7 303.6,230.5 304.4,232.1 305.1,231.9 305.8,229.9 306.5,226.7 307.2,222.8 308.0,219.0 308.7,214.7 309.4,209.3 310.1,203.9 310.8,199.6 311.5,196.4 312.3,193.4 313.0,191.0 313.7,190.0 314.4,190.3 315.1,191.5 315.9,193.4 316.6,195.6 317.3,197.9 318.0,200.4 318.7,204.0 319.5,207.7 320.2,210.1 320.9,211.4 321.6,212.4 322.3,213.3 323.1,214.0 323.8,214.8 324.5,215.8 325.2,217.0 325.9,218.2 326.7,219.8 327.4,222.0 328.1,225.0 328.8,228.2 329.5,231.5 330.2,235.1 331.0,239.1 331.7,244.0 332.4,250.1 333.1,256.4 333.8,262.3 334.6,266.9 335.3,271.0 336.0,274.8 336.7,278.3 337.4,281.5 338.2,284.4 338.9,287.1 339.6,289.6 340.3,292.0 341.0,294.2 341.8,296.3 342.5,298.5 343.2,300.6 343.9,302.6 344.6,304.7 345.4,306.6 346.1,308.4 346.8,310.1 347.5,311.8 348.2,313.4 348.9,314.9 349.7,316.2 350.4,317.3 351.1,318.3 351.8,319.3 352.5,320.2 353.3,321.0 354.0,321.7 354.7,322.3 355.4,322.6 356.1,322.8 356.9,323.0 357.6,323.1 358.3,323.2 359.0,323.3 359.7,323.4 360.5,323.5 361.2,323.5 361.9,323.5 362.6,323.5 363.3,323.5 364.1,323.5 364.8,323.5 365.5,323.5 366.2,323.5 366.9,323.5 367.6,323.5 368.4,323.5 369.1,323.5 369.8,323.5 370.5,323.5 371.2,323.5 372.0,323.5 372.7,323.5 373.4,323.4 374.1,323.4 374.8,323.4 375.6,323.4 376.3,323.4 377.0,323.4 377.7,323.4 378.4,323.4 379.2,323.4 379.9,323.4 380.6,323.4 381.3,323.4 382.0,323.4 382.8,323.3 383.5,323.3 384.2,323.2 384.9,323.1 385.6,323.0 386.3,322.9 387.1,322.8 387.8,322.7 388.5,322.6 389.2,322.5 389.9,322.3 390.7,322.2 391.4,322.1 392.1,321.9 392.8,321.8 393.5,321.7 394.3,321.6 395.0,321.5 395.7,321.4 396.4,321.2 397.1,321.1 397.9,321.0 398.6,320.9 399.3,320.7 400.0,320.6 400.7,320.5 401.5,320.4 402.2,320.3 402.9,320.2 403.6,320.1 404.3,320.0 405.1,320.0 405.8,320.0 406.5,320.0 407.2,320.0 407.9,320.1 408.6,320.2 409.4,320.3 410.1,320.4 410.8,320.5 411.5,320.7 412.2,320.8 413.0,321.0 413.7,321.2 414.4,321.4 415.1,321.6 415.8,321.8 416.6,322.2 417.3,322.5 418.0,322.9 418.7,323.3 419.4,323.7 420.2,324.0 420.9,324.3 421.6,324.6 422.3,324.7 423.0,324.9 423.8,325.1 424.5,325.3 425.2,325.4 425.9,325.6 426.6,325.7 427.3,325.8 428.1,325.9 428.8,326.0 429.5,326.1 430.2,326.2 430.9,326.2 431.7,326.3 432.4,326.3 433.1,326.4 433.8,326.4 434.5,326.5 435.3,326.5 436.0,326.6 436.7,326.6 437.4,326.7 438.1,326.7 438.9,326.8 439.6,326.8 440.3,326.9 441.0,326.9 441.7,326.9 442.5,327.0 443.2,327.0 443.9,327.0 444.6,327.1 445.3,327.1 446.0,327.1 446.8,327.1 447.5,327.2 448.2,327.2 448.9,327.2 449.6,327.2 450.4,327.2 451.1,327.2 451.8,327.2 452.5,327.2 453.2,327.2 454.0,327.2 454.7,327.2 455.4,327.2 456.1,327.2 456.8,327.2 457.6,327.2 458.3,327.2 459.0,327.2 459.7,327.2 460.4,327.2 461.2,327.1 461.9,327.1 462.6,327.1 463.3,327.1 464.0,327.1 464.7,327.0 465.5,327.0 466.2,327.0 466.9,327.0 467.6,326.9 468.3,326.9 469.1,326.9 469.8,326.8 470.5,326.8 471.2,326.8 471.9,326.7 472.7,326.7 473.4,326.7 474.1,326.6 474.8,326.6 475.5,326.6 476.3,326.5 477.0,326.5 477.7,326.4 478.4,326.4 479.1,326.3 479.9,326.3 480.6,326.3 481.3,326.2 482.0,326.2 482.7,326.1 483.4,326.0 484.2,326.0 484.9,325.9 485.6,325.8 486.3,325.7 487.0,325.5 487.8,325.4 488.5,325.3 489.2,325.1 489.9,325.0 490.6,324.8 491.4,324.7 492.1,324.5 492.8,324.3 493.5,324.1 494.2,323.9 495.0,323.8 495.7,323.6 496.4,323.4 497.1,323.2 497.8,323.0 498.6,322.8 499.3,322.6 500.0,322.3 500.7,322.1 501.4,321.8 502.1,321.6 502.9,321.3 503.6,321.0 504.3,320.7 505.0,320.4 505.7,320.1 506.5,319.8 507.2,319.5 507.9,319.2 508.6,318.9 509.3,318.6 510.1,318.3 510.8,318.0 511.5,317.7 512.2,317.4 512.9,317.0 513.7,316.6 514.4,316.2 515.1,315.8 515.8,315.4 516.5,315.1 517.3,314.8 518.0,314.5 518.7,314.2 519.4,313.9 520.1,313.4 520.8,312.8 521.6,311.9 522.3,310.9 523.0,309.8 523.7,308.8 524.4,308.2 525.2,307.8 525.9,307.5 526.6,307.1 527.3,306.7 528.0,306.3 528.8,305.9 529.5,305.4 530.2,305.0 530.9,304.6 531.6,304.2 532.4,303.8 533.1,303.4 533.8,303.0 534.5,302.6 535.2,302.2 536.0,301.7 536.7,301.2 537.4,300.6 538.1,300.0 538.8,299.3 539.5,298.5 540.3,297.6 541.0,296.5 541.7,295.0 542.4,293.3 543.1,291.6 543.9,290.0 544.6,288.3 545.3,286.6 546.0,285.2 546.7,283.9 547.5,282.8 548.2,281.7 548.9,280.8 549.6,280.1 550.3,280.0 551.1,280.3 551.8,281.1 552.5,282.1 553.2,283.3 553.9,284.6 554.7,285.8 555.4,286.8 556.1,287.7 556.8,288.5 557.5,289.3 558.3,290.1 559.0,290.9 559.7,291.8 560.4,292.8 561.1,294.0 561.8,295.3 562.6,296.8 563.3,298.4 564.0,300.1 564.7,301.7 565.4,303.3 566.2,304.9 566.9,306.7 567.6,308.4 568.3,310.3 569.0,312.2 569.8,314.6 570.5,317.1 571.2,319.3 571.9,320.8 572.6,322.2 573.4,323.5 574.1,324.5 574.8,325.3 575.5,325.6 576.2,325.8 577.0,325.9 577.7,326.0 578.4,326.1 579.1,326.2 579.8,326.3 580.5,326.4 581.3,326.5 582.0,326.5 582.7,326.6 583.4,326.7 584.1,326.7 584.9,326.8 585.6,326.9 586.3,326.9 587.0,327.0 587.7,327.0 588.5,327.0 589.2,327.1 589.9,327.1 590.6,327.1 591.3,327.1 592.1,327.2 592.8,327.2 593.5,327.2 594.2,327.2 594.9,327.2 595.7,327.2 596.4,327.2 597.1,327.2 597.8,327.2 598.5,327.2 599.2,327.2 600.0,327.2 600.7,327.2 601.4,327.2 602.1,327.2 602.8,327.2 603.6,327.2 604.3,327.2 605.0,327.2 605.7,327.2 606.4,327.2 607.2,327.2 607.9,327.2 608.6,327.2 609.3,327.2 610.0,327.2 610.8,327.2 611.5,327.2 612.2,327.2 612.9,327.2 613.6,327.2 614.4,327.2 615.1,327.2 615.8,327.2 616.5,327.2 617.2,327.2 617.9,327.2 618.7,327.2 619.4,327.2 620.1,327.2 620.8,327.2 621.5,327.2 622.3,327.2 623.0,327.2 623.7,327.2 624.4,327.2 625.1,327.2 625.9,327.2 626.6,327.2 627.3,327.2 628.0,327.2 628.7,327.2 629.5,327.2 630.2,327.2 630.9,327.2 631.6,327.2 632.3,327.2 633.1,327.2 633.8,327.2 634.5,327.2 635.2,327.2 635.9,327.2 636.6,327.2 637.4,327.2 638.1,327.2 638.8,327.2 639.5,327.2 640.2,327.2 641.0,327.2 641.7,327.2 642.4,327.2 643.1,327.2 643.8,327.2 644.6,327.2 645.3,327.2 646.0,327.2 646.7,327.2 647.4,327.2 648.2,327.2 648.9,327.2 649.6,327.2 650.3,327.2 651.0,327.2 651.8,327.2 652.5,327.2 653.2,327.2 653.9,327.2 654.6,327.2 655.3,327.2 656.1,327.2 656.8,327.2 657.5,327.2 658.2,327.2 658.9,327.2 659.7,327.1 660.4,327.1 661.1,327.1 661.8,327.1 662.5,327.1 663.3,327.1 664.0,327.1 664.7,327.1 665.4,327.1 666.1,327.1 666.9,327.1 667.6,327.1 668.3,327.1 669.0,327.1 669.7,327.1 670.5,327.1 671.2,327.1 671.9,327.1 672.6,327.1 673.3,327.1 674.0,327.1 674.8,327.1 675.5,327.1 676.2,327.1 676.9,327.1 677.6,327.1 678.4,327.1 679.1,327.0 679.8,327.0 680.5,327.0 681.2,327.0 682.0,327.0 682.7,327.0 683.4,327.0" stroke="#111" stroke-width="2.1" fill="none" stroke-linejoin="round"/>
<path d="M108.0,327.5 108.7,327.5 109.4,327.5 110.2,327.5 110.9,327.5 111.6,327.5 112.3,327.5 113.0,327.5 113.8,327.5 114.5,327.5 115.2,327.5 115.9,327.5 116.6,327.5 117.4,327.5 118.1,327.5 118.8,327.5 119.5,327.5 120.2,327.4 120.9,327.4 121.7,327.4 122.4,327.4 123.1,327.4 123.8,327.4 124.5,327.4 125.3,327.4 126.0,327.4 126.7,327.3 127.4,327.3 128.1,327.3 128.9,327.3 129.6,327.3 130.3,327.3 131.0,327.3 131.7,327.3 132.5,327.2 133.2,327.2 133.9,327.2 134.6,327.2 135.3,327.2 136.1,327.2 136.8,327.1 137.5,327.1 138.2,327.1 138.9,327.1 139.6,327.1 140.4,327.0 141.1,327.0 141.8,327.0 142.5,327.0 143.2,326.9 144.0,326.9 144.7,326.9 145.4,326.8 146.1,326.8 146.8,326.7 147.6,326.7 148.3,326.7 149.0,326.6 149.7,326.6 150.4,326.5 151.2,326.5 151.9,326.5 152.6,326.4 153.3,326.4 154.0,326.3 154.8,326.2 155.5,326.2 156.2,326.1 156.9,326.0 157.6,325.9 158.3,325.8 159.1,325.7 159.8,325.6 160.5,325.4 161.2,325.2 161.9,325.0 162.7,324.7 163.4,324.5 164.1,324.2 164.8,323.9 165.5,323.6 166.3,323.2 167.0,322.9 167.7,322.5 168.4,322.1 169.1,321.7 169.9,321.3 170.6,320.9 171.3,320.5 172.0,320.2 172.7,319.9 173.5,319.6 174.2,319.3 174.9,319.1 175.6,318.9 176.3,318.8 177.0,318.7 177.8,318.6 178.5,318.6 179.2,318.5 179.9,318.4 180.6,318.2 181.4,317.9 182.1,317.5 182.8,317.1 183.5,316.6 184.2,316.2 185.0,315.8 185.7,315.3 186.4,314.8 187.1,314.3 187.8,313.8 188.6,313.3 189.3,312.8 190.0,312.2 190.7,311.7 191.4,311.3 192.2,311.2 192.9,311.7 193.6,313.1 194.3,314.9 195.0,316.6 195.7,317.7 196.5,318.8 197.2,319.7 197.9,320.1 198.6,320.1 199.3,320.0 200.1,319.9 200.8,319.7 201.5,319.2 202.2,318.5 202.9,317.6 203.7,316.6 204.4,315.6 205.1,314.5 205.8,313.4 206.5,312.4 207.3,311.4 208.0,310.2 208.7,309.0 209.4,307.7 210.1,306.4 210.9,305.1 211.6,303.8 212.3,302.6 213.0,301.5 213.7,300.4 214.4,299.3 215.2,298.2 215.9,297.3 216.6,296.6 217.3,296.2 218.0,295.8 218.8,295.5 219.5,295.3 220.2,295.0 220.9,294.7 221.6,294.4 222.4,294.0 223.1,293.4 223.8,292.9 224.5,292.2 225.2,291.6 226.0,291.0 226.7,290.4 227.4,289.8 228.1,289.4 228.8,289.0 229.6,288.8 230.3,288.7 231.0,288.9 231.7,289.3 232.4,289.8 233.1,290.6 233.9,291.4 234.6,292.2 235.3,293.0 236.0,293.7 236.7,294.3 237.5,294.7 238.2,294.7 238.9,294.4 239.6,293.9 240.3,293.2 241.1,292.6 241.8,292.2 242.5,292.2 243.2,292.6 243.9,293.3 244.7,294.2 245.4,295.3 246.1,296.4 246.8,297.5 247.5,298.5 248.3,299.5 249.0,300.6 249.7,301.8 250.4,302.9 251.1,304.0 251.8,305.0 252.6,306.0 253.3,307.0 254.0,308.0 254.7,309.0 255.4,309.9 256.2,310.8 256.9,311.5 257.6,312.1 258.3,312.6 259.0,313.1 259.8,313.5 260.5,313.6 261.2,313.6 261.9,313.3 262.6,312.9 263.4,312.4 264.1,311.8 264.8,311.1 265.5,310.3 266.2,309.6 267.0,308.8 267.7,307.8 268.4,306.6 269.1,305.3 269.8,303.7 270.6,302.0 271.3,299.8 272.0,297.2 272.7,294.2 273.4,290.9 274.1,287.0 274.9,282.5 275.6,277.5 276.3,272.6 277.0,267.8 277.7,263.8 278.5,260.0 279.2,255.1 279.9,247.7 280.6,237.8 281.3,226.6 282.1,215.3 282.8,205.1 283.5,195.4 284.2,185.6 284.9,175.5 285.7,164.2 286.4,152.7 287.1,143.7 287.8,135.9 288.5,128.4 289.3,121.9 290.0,117.3 290.7,115.2 291.4,116.0 292.1,118.8 292.8,123.2 293.6,128.8 294.3,135.2 295.0,141.8 295.7,148.4 296.4,154.4 297.2,159.8 297.9,165.5 298.6,171.2 299.3,176.9 300.0,182.2 300.8,187.0 301.5,191.8 302.2,196.7 302.9,201.1 303.6,204.2 304.4,204.9 305.1,202.9 305.8,198.7 306.5,193.3 307.2,187.7 308.0,181.3 308.7,173.6 309.4,165.3 310.1,157.0 310.8,147.1 311.5,136.0 312.3,125.5 313.0,117.7 313.7,114.7 314.4,116.2 315.1,120.0 315.9,124.6 316.6,128.8 317.3,132.8 318.0,137.1 318.7,140.9 319.5,143.4 320.2,144.9 320.9,146.1 321.6,147.0 322.3,147.3 323.1,147.3 323.8,147.4 324.5,147.4 325.2,147.4 325.9,147.5 326.7,147.8 327.4,148.3 328.1,148.9 328.8,151.4 329.5,156.1 330.2,160.8 331.0,165.1 331.7,169.7 332.4,175.3 333.1,183.5 333.8,193.4 334.6,201.3 335.3,207.5 336.0,213.2 336.7,218.3 337.4,223.2 338.2,227.7 338.9,232.2 339.6,236.6 340.3,241.1 341.0,245.8 341.8,250.4 342.5,255.0 343.2,259.5 343.9,264.0 344.6,268.4 345.4,272.9 346.1,277.4 346.8,282.1 347.5,287.1 348.2,292.2 348.9,297.1 349.7,301.6 350.4,305.3 351.1,308.2 351.8,310.8 352.5,313.3 353.3,315.5 354.0,317.5 354.7,319.0 355.4,320.1 356.1,320.7 356.9,321.0 357.6,321.3 358.3,321.6 359.0,321.8 359.7,322.0 360.5,322.1 361.2,322.2 361.9,322.3 362.6,322.3 363.3,322.3 364.1,322.3 364.8,322.3 365.5,322.3 366.2,322.3 366.9,322.4 367.6,322.4 368.4,322.4 369.1,322.4 369.8,322.4 370.5,322.4 371.2,322.4 372.0,322.4 372.7,322.4 373.4,322.4 374.1,322.4 374.8,322.4 375.6,322.4 376.3,322.4 377.0,322.4 377.7,322.5 378.4,322.5 379.2,322.5 379.9,322.5 380.6,322.5 381.3,322.5 382.0,322.5 382.8,322.5 383.5,322.4 384.2,322.4 384.9,322.4 385.6,322.3 386.3,322.3 387.1,322.2 387.8,322.1 388.5,322.1 389.2,322.0 389.9,321.8 390.7,321.6 391.4,321.4 392.1,321.1 392.8,320.8 393.5,320.5 394.3,320.2 395.0,319.8 395.7,319.5 396.4,319.2 397.1,318.8 397.9,318.3 398.6,317.8 399.3,317.3 400.0,316.9 400.7,316.6 401.5,316.4 402.2,316.1 402.9,315.9 403.6,315.7 404.3,315.5 405.1,315.4 405.8,315.4 406.5,315.4 407.2,315.4 407.9,315.5 408.6,315.5 409.4,315.6 410.1,315.7 410.8,315.7 411.5,315.8 412.2,316.0 413.0,316.2 413.7,316.6 414.4,316.9 415.1,317.3 415.8,317.7 416.6,318.2 417.3,318.8 418.0,319.4 418.7,320.0 419.4,320.6 420.2,321.1 420.9,321.5 421.6,321.9 422.3,322.2 423.0,322.5 423.8,322.9 424.5,323.2 425.2,323.5 425.9,323.7 426.6,324.0 427.3,324.2 428.1,324.4 428.8,324.6 429.5,324.7 430.2,324.9 430.9,325.1 431.7,325.2 432.4,325.4 433.1,325.5 433.8,325.6 434.5,325.8 435.3,325.9 436.0,326.0 436.7,326.1 437.4,326.2 438.1,326.2 438.9,326.3 439.6,326.3 440.3,326.4 441.0,326.4 441.7,326.4 442.5,326.4 443.2,326.5 443.9,326.5 444.6,326.5 445.3,326.5 446.0,326.5 446.8,326.6 447.5,326.6 448.2,326.6 448.9,326.6 449.6,326.6 450.4,326.6 451.1,326.6 451.8,326.6 452.5,326.6 453.2,326.6 454.0,326.6 454.7,326.6 455.4,326.6 456.1,326.6 456.8,326.6 457.6,326.6 458.3,326.6 459.0,326.6 459.7,326.6 460.4,326.5 461.2,326.5 461.9,326.5 462.6,326.5 463.3,326.5 464.0,326.4 464.7,326.4 465.5,326.4 466.2,326.4 466.9,326.3 467.6,326.3 468.3,326.3 469.1,326.2 469.8,326.2 470.5,326.2 471.2,326.1 471.9,326.1 472.7,326.0 473.4,326.0 474.1,326.0 474.8,325.9 475.5,325.9 476.3,325.8 477.0,325.8 477.7,325.7 478.4,325.7 479.1,325.6 479.9,325.6 480.6,325.5 481.3,325.5 482.0,325.4 482.7,325.3 483.4,325.3 484.2,325.2 484.9,325.1 485.6,325.0 486.3,324.9 487.0,324.7 487.8,324.6 488.5,324.5 489.2,324.3 489.9,324.1 490.6,324.0 491.4,323.8 492.1,323.6 492.8,323.4 493.5,323.3 494.2,323.1 495.0,322.9 495.7,322.7 496.4,322.5 497.1,322.3 497.8,322.0 498.6,321.8 499.3,321.6 500.0,321.4 500.7,321.1 501.4,320.8 502.1,320.5 502.9,320.2 503.6,319.8 504.3,319.5 505.0,319.1 505.7,318.8 506.5,318.5 507.2,318.1 507.9,317.8 508.6,317.4 509.3,317.1 510.1,316.7 510.8,316.4 511.5,316.0 512.2,315.6 512.9,315.2 513.7,314.8 514.4,314.3 515.1,313.8 515.8,313.4 516.5,313.0 517.3,312.7 518.0,312.4 518.7,312.1 519.4,311.7 520.1,311.2 520.8,310.4 521.6,309.3 522.3,308.1 523.0,306.8 523.7,305.7 524.4,305.0 525.2,304.5 525.9,304.1 526.6,303.7 527.3,303.3 528.0,302.8 528.8,302.3 529.5,301.9 530.2,301.4 530.9,300.9 531.6,300.5 532.4,300.0 533.1,299.6 533.8,299.1 534.5,298.7 535.2,298.2 536.0,297.7 536.7,297.2 537.4,296.6 538.1,296.0 538.8,295.3 539.5,294.6 540.3,293.6 541.0,292.4 541.7,290.6 542.4,288.3 543.1,285.4 543.9,281.8 544.6,277.8 545.3,273.9 546.0,270.4 546.7,267.1 547.5,263.7 548.2,260.7 548.9,258.0 549.6,255.5 550.3,253.3 551.1,252.3 551.8,252.7 552.5,253.7 553.2,255.1 553.9,256.7 554.7,258.3 555.4,259.6 556.1,260.5 556.8,261.5 557.5,262.3 558.3,263.2 559.0,264.2 559.7,265.2 560.4,266.3 561.1,267.4 561.8,268.5 562.6,269.8 563.3,271.2 564.0,272.7 564.7,274.5 565.4,276.5 566.2,278.8 566.9,281.5 567.6,284.8 568.3,288.9 569.0,292.8 569.8,296.5 570.5,300.2 571.2,304.0 571.9,307.9 572.6,311.6 573.4,314.5 574.1,317.2 574.8,319.6 575.5,321.4 576.2,322.6 577.0,323.5 577.7,324.2 578.4,324.9 579.1,325.4 579.8,325.8 580.5,326.1 581.3,326.2 582.0,326.3 582.7,326.4 583.4,326.5 584.1,326.5 584.9,326.6 585.6,326.7 586.3,326.7 587.0,326.8 587.7,326.8 588.5,326.9 589.2,326.9 589.9,326.9 590.6,327.0 591.3,327.0 592.1,327.0 592.8,327.1 593.5,327.1 594.2,327.1 594.9,327.1 595.7,327.1 596.4,327.1 597.1,327.1 597.8,327.2 598.5,327.2 599.2,327.2 600.0,327.2 600.7,327.2 601.4,327.2 602.1,327.2 602.8,327.2 603.6,327.2 604.3,327.2 605.0,327.3 605.7,327.3 606.4,327.3 607.2,327.3 607.9,327.3 608.6,327.3 609.3,327.3 610.0,327.3 610.8,327.3 611.5,327.3 612.2,327.3 612.9,327.3 613.6,327.3 614.4,327.3 615.1,327.3 615.8,327.4 616.5,327.4 617.2,327.4 617.9,327.4 618.7,327.4 619.4,327.4 620.1,327.4 620.8,327.4 621.5,327.4 622.3,327.4 623.0,327.4 623.7,327.4 624.4,327.4 625.1,327.4 625.9,327.4 626.6,327.4 627.3,327.4 628.0,327.4 628.7,327.4 629.5,327.4 630.2,327.4 630.9,327.4 631.6,327.4 632.3,327.4 633.1,327.4 633.8,327.4 634.5,327.4 635.2,327.4 635.9,327.4 636.6,327.3 637.4,327.3 638.1,327.3 638.8,327.3 639.5,327.3 640.2,327.3 641.0,327.3 641.7,327.3 642.4,327.3 643.1,327.3 643.8,327.3 644.6,327.3 645.3,327.3 646.0,327.3 646.7,327.3 647.4,327.3 648.2,327.3 648.9,327.3 649.6,327.3 650.3,327.2 651.0,327.2 651.8,327.2 652.5,327.2 653.2,327.2 653.9,327.2 654.6,327.2 655.3,327.2 656.1,327.2 656.8,327.2 657.5,327.2 658.2,327.2 658.9,327.2 659.7,327.2 660.4,327.2 661.1,327.2 661.8,327.1 662.5,327.1 663.3,327.1 664.0,327.1 664.7,327.1 665.4,327.1 666.1,327.1 666.9,327.1 667.6,327.1 668.3,327.1 669.0,327.1 669.7,327.1 670.5,327.0 671.2,327.0 671.9,327.0 672.6,327.0 673.3,327.0 674.0,327.0 674.8,327.0 675.5,327.0 676.2,327.0 676.9,327.0 677.6,326.9 678.4,326.9 679.1,326.9 679.8,326.9 680.5,326.9 681.2,326.9 682.0,326.9 682.7,326.9 683.4,326.9" stroke="#000" stroke-width="2.6" fill="none" stroke-linejoin="round"/>
<path d="M108.0,327.4 108.7,327.4 109.4,327.4 110.2,327.4 110.9,327.4 111.6,327.4 112.3,327.4 113.0,327.4 113.8,327.4 114.5,327.4 115.2,327.4 115.9,327.4 116.6,327.4 117.4,327.4 118.1,327.4 118.8,327.4 119.5,327.4 120.2,327.4 120.9,327.3 121.7,327.3 122.4,327.3 123.1,327.3 123.8,327.3 124.5,327.3 125.3,327.3 126.0,327.3 126.7,327.2 127.4,327.2 128.1,327.2 128.9,327.2 129.6,327.2 130.3,327.2 131.0,327.2 131.7,327.1 132.5,327.1 133.2,327.1 133.9,327.1 134.6,327.1 135.3,327.1 136.1,327.0 136.8,327.0 137.5,327.0 138.2,327.0 138.9,327.0 139.6,326.9 140.4,326.9 141.1,326.9 141.8,326.8 142.5,326.8 143.2,326.8 144.0,326.7 144.7,326.7 145.4,326.7 146.1,326.6 146.8,326.6 147.6,326.5 148.3,326.5 149.0,326.4 149.7,326.4 150.4,326.3 151.2,326.3 151.9,326.2 152.6,326.2 153.3,326.1 154.0,326.1 154.8,326.0 155.5,325.9 156.2,325.9 156.9,325.8 157.6,325.7 158.3,325.6 159.1,325.4 159.8,325.3 160.5,325.1 161.2,324.9 161.9,324.6 162.7,324.3 163.4,324.1 164.1,323.8 164.8,323.4 165.5,323.0 166.3,322.6 167.0,322.3 167.7,321.9 168.4,321.4 169.1,321.0 169.9,320.5 170.6,320.1 171.3,319.7 172.0,319.3 172.7,319.0 173.5,318.7 174.2,318.3 174.9,318.1 175.6,317.9 176.3,317.7 177.0,317.7 177.8,317.6 178.5,317.5 179.2,317.4 179.9,317.3 180.6,317.0 181.4,316.7 182.1,316.2 182.8,315.6 183.5,315.0 184.2,314.3 185.0,313.6 185.7,312.7 186.4,311.7 187.1,310.7 187.8,309.5 188.6,308.3 189.3,306.6 190.0,304.4 190.7,302.2 191.4,300.5 192.2,299.8 192.9,301.1 193.6,304.6 194.3,309.0 195.0,312.8 195.7,315.0 196.5,316.6 197.2,317.9 197.9,318.6 198.6,318.8 199.3,318.9 200.1,318.9 200.8,318.7 201.5,318.3 202.2,317.6 202.9,316.8 203.7,315.8 204.4,314.8 205.1,313.7 205.8,312.6 206.5,311.6 207.3,310.6 208.0,309.4 208.7,308.1 209.4,306.7 210.1,305.4 210.9,304.0 211.6,302.7 212.3,301.4 213.0,300.3 213.7,299.2 214.4,298.0 215.2,296.9 215.9,296.0 216.6,295.3 217.3,294.8 218.0,294.4 218.8,294.1 219.5,293.9 220.2,293.6 220.9,293.3 221.6,293.0 222.4,292.6 223.1,292.1 223.8,291.5 224.5,290.9 225.2,290.3 226.0,289.6 226.7,289.0 227.4,288.5 228.1,288.0 228.8,287.7 229.6,287.4 230.3,287.3 231.0,287.5 231.7,287.9 232.4,288.6 233.1,289.3 233.9,290.2 234.6,291.1 235.3,291.9 236.0,292.7 236.7,293.3 237.5,293.7 238.2,293.8 238.9,293.5 239.6,292.9 240.3,292.2 241.1,291.6 241.8,291.2 242.5,291.3 243.2,291.7 243.9,292.4 244.7,293.4 245.4,294.5 246.1,295.6 246.8,296.8 247.5,297.8 248.3,298.9 249.0,300.0 249.7,301.2 250.4,302.4 251.1,303.5 251.8,304.5 252.6,305.6 253.3,306.6 254.0,307.6 254.7,308.6 255.4,309.5 256.2,310.3 256.9,311.0 257.6,311.6 258.3,312.1 259.0,312.6 259.8,313.0 260.5,313.1 261.2,313.0 261.9,312.7 262.6,312.3 263.4,311.8 264.1,311.1 264.8,310.3 265.5,309.5 266.2,308.7 267.0,307.8 267.7,306.8 268.4,305.5 269.1,304.1 269.8,302.4 270.6,300.5 271.3,298.2 272.0,295.4 272.7,292.2 273.4,288.6 274.1,284.5 274.9,279.6 275.6,274.3 276.3,268.9 277.0,263.8 277.7,259.4 278.5,255.3 279.2,250.0 279.9,242.0 280.6,231.2 281.3,219.1 282.1,206.8 282.8,195.7 283.5,185.1 284.2,174.4 284.9,163.3 285.7,150.9 286.4,138.2 287.1,128.2 287.8,119.4 288.5,110.9 289.3,103.6 290.0,98.3 290.7,95.9 291.4,96.7 292.1,99.7 292.8,104.5 293.6,110.5 294.3,117.3 295.0,124.4 295.7,131.5 296.4,137.9 297.2,143.7 297.9,149.8 298.6,156.0 299.3,162.1 300.0,167.9 300.8,173.1 301.5,178.2 302.2,183.6 302.9,188.4 303.6,191.6 304.4,192.4 305.1,190.1 305.8,185.4 306.5,179.3 307.2,173.0 308.0,165.9 308.7,157.2 309.4,147.9 310.1,138.6 310.8,127.5 311.5,114.9 312.3,103.1 313.0,94.4 313.7,90.9 314.4,92.9 315.1,97.8 315.9,103.7 316.6,109.1 317.3,114.1 318.0,119.3 318.7,124.0 319.5,127.3 320.2,129.5 320.9,131.3 321.6,132.7 322.3,133.7 323.1,134.3 323.8,134.8 324.5,135.2 325.2,135.8 325.9,136.7 326.7,137.8 327.4,139.3 328.1,141.2 328.8,144.9 329.5,150.5 330.2,156.1 331.0,161.3 331.7,166.8 332.4,173.3 333.1,182.6 333.8,193.3 334.6,201.2 335.3,206.7 336.0,211.5 336.7,215.6 337.4,219.3 338.2,222.8 338.9,226.2 339.6,229.7 340.3,233.6 341.0,237.9 341.8,242.5 342.5,247.3 343.2,252.2 343.9,257.1 344.6,262.0 345.4,266.7 346.1,271.4 346.8,275.9 347.5,280.6 348.2,285.2 348.9,289.7 349.7,293.9 350.4,297.5 351.1,300.6 351.8,303.6 352.5,306.5 353.3,309.2 354.0,311.6 354.7,313.5 355.4,315.0 356.1,315.8 356.9,316.4 357.6,316.8 358.3,317.3 359.0,317.6 359.7,317.9 360.5,318.2 361.2,318.4 361.9,318.6 362.6,318.7 363.3,318.9 364.1,319.0 364.8,319.2 365.5,319.3 366.2,319.4 366.9,319.5 367.6,319.6 368.4,319.7 369.1,319.8 369.8,319.8 370.5,319.9 371.2,319.9 372.0,320.0 372.7,320.0 373.4,320.1 374.1,320.1 374.8,320.2 375.6,320.2 376.3,320.2 377.0,320.3 377.7,320.3 378.4,320.3 379.2,320.4 379.9,320.4 380.6,320.4 381.3,320.4 382.0,320.4 382.8,320.4 383.5,320.3 384.2,320.3 384.9,320.3 385.6,320.2 386.3,320.2 387.1,320.1 387.8,320.0 388.5,320.0 389.2,319.9 389.9,319.7 390.7,319.5 391.4,319.3 392.1,319.0 392.8,318.8 393.5,318.5 394.3,318.1 395.0,317.8 395.7,317.5 396.4,317.1 397.1,316.8 397.9,316.3 398.6,315.8 399.3,315.3 400.0,315.0 400.7,314.9 401.5,314.7 402.2,314.6 402.9,314.5 403.6,314.4 404.3,314.3 405.1,314.3 405.8,314.3 406.5,314.3 407.2,314.3 407.9,314.4 408.6,314.4 409.4,314.5 410.1,314.6 410.8,314.7 411.5,314.8 412.2,315.0 413.0,315.3 413.7,315.6 414.4,316.0 415.1,316.5 415.8,316.9 416.6,317.5 417.3,318.1 418.0,318.7 418.7,319.4 419.4,320.0 420.2,320.6 420.9,321.0 421.6,321.4 422.3,321.8 423.0,322.1 423.8,322.5 424.5,322.8 425.2,323.1 425.9,323.4 426.6,323.7 427.3,323.9 428.1,324.2 428.8,324.3 429.5,324.5 430.2,324.7 430.9,324.9 431.7,325.0 432.4,325.2 433.1,325.3 433.8,325.5 434.5,325.6 435.3,325.7 436.0,325.9 436.7,326.0 437.4,326.1 438.1,326.1 438.9,326.2 439.6,326.2 440.3,326.3 441.0,326.3 441.7,326.3 442.5,326.4 443.2,326.4 443.9,326.4 444.6,326.4 445.3,326.5 446.0,326.5 446.8,326.5 447.5,326.5 448.2,326.5 448.9,326.6 449.6,326.6 450.4,326.6 451.1,326.6 451.8,326.6 452.5,326.6 453.2,326.6 454.0,326.6 454.7,326.6 455.4,326.6 456.1,326.6 456.8,326.6 457.6,326.6 458.3,326.5 459.0,326.5 459.7,326.5 460.4,326.5 461.2,326.5 461.9,326.5 462.6,326.5 463.3,326.4 464.0,326.4 464.7,326.4 465.5,326.4 466.2,326.3 466.9,326.3 467.6,326.3 468.3,326.3 469.1,326.2 469.8,326.2 470.5,326.2 471.2,326.1 471.9,326.1 472.7,326.0 473.4,326.0 474.1,326.0 474.8,325.9 475.5,325.9 476.3,325.8 477.0,325.8 477.7,325.8 478.4,325.7 479.1,325.7 479.9,325.6 480.6,325.6 481.3,325.5 482.0,325.5 482.7,325.4 483.4,325.3 484.2,325.3 484.9,325.2 485.6,325.1 486.3,325.0 487.0,324.8 487.8,324.7 488.5,324.6 489.2,324.4 489.9,324.3 490.6,324.1 491.4,324.0 492.1,323.8 492.8,323.6 493.5,323.5 494.2,323.3 495.0,323.1 495.7,322.9 496.4,322.7 497.1,322.5 497.8,322.3 498.6,322.1 499.3,321.9 500.0,321.7 500.7,321.4 501.4,321.2 502.1,320.9 502.9,320.6 503.6,320.3 504.3,319.9 505.0,319.6 505.7,319.3 506.5,319.0 507.2,318.6 507.9,318.3 508.6,318.0 509.3,317.7 510.1,317.3 510.8,317.0 511.5,316.7 512.2,316.3 512.9,315.9 513.7,315.5 514.4,315.1 515.1,314.6 515.8,314.2 516.5,313.9 517.3,313.6 518.0,313.3 518.7,313.0 519.4,312.6 520.1,312.2 520.8,311.4 521.6,310.4 522.3,309.3 523.0,308.1 523.7,307.0 524.4,306.4 525.2,305.9 525.9,305.6 526.6,305.2 527.3,304.8 528.0,304.4 528.8,303.9 529.5,303.5 530.2,303.1 530.9,302.7 531.6,302.2 532.4,301.8 533.1,301.4 533.8,301.0 534.5,300.6 535.2,300.2 536.0,299.7 536.7,299.1 537.4,298.5 538.1,297.8 538.8,297.0 539.5,296.1 540.3,295.1 541.0,293.7 541.7,291.7 542.4,289.3 543.1,286.2 543.9,282.3 544.6,278.1 545.3,274.0 546.0,270.4 546.7,267.0 547.5,263.7 548.2,260.6 548.9,258.0 549.6,255.5 550.3,253.3 551.1,252.3 551.8,252.7 552.5,253.7 553.2,255.1 553.9,256.7 554.7,258.3 555.4,259.6 556.1,260.5 556.8,261.5 557.5,262.3 558.3,263.2 559.0,264.2 559.7,265.2 560.4,266.3 561.1,267.4 561.8,268.5 562.6,269.8 563.3,271.2 564.0,272.7 564.7,274.5 565.4,276.5 566.2,278.8 566.9,281.5 567.6,284.8 568.3,288.9 569.0,292.8 569.8,296.5 570.5,300.2 571.2,304.0 571.9,307.9 572.6,311.6 573.4,314.5 574.1,317.2 574.8,319.5 575.5,321.4 576.2,322.6 577.0,323.5 577.7,324.2 578.4,324.9 579.1,325.4 579.8,325.8 580.5,326.1 581.3,326.2 582.0,326.3 582.7,326.4 583.4,326.4 584.1,326.5 584.9,326.6 585.6,326.6 586.3,326.7 587.0,326.8 587.7,326.8 588.5,326.8 589.2,326.9 589.9,326.9 590.6,327.0 591.3,327.0 592.1,327.0 592.8,327.0 593.5,327.1 594.2,327.1 594.9,327.1 595.7,327.1 596.4,327.1 597.1,327.1 597.8,327.1 598.5,327.1 599.2,327.2 600.0,327.2 600.7,327.2 601.4,327.2 602.1,327.2 602.8,327.2 603.6,327.2 604.3,327.2 605.0,327.2 605.7,327.2 606.4,327.2 607.2,327.2 607.9,327.3 608.6,327.3 609.3,327.3 610.0,327.3 610.8,327.3 611.5,327.3 612.2,327.3 612.9,327.3 613.6,327.3 614.4,327.3 615.1,327.3 615.8,327.3 616.5,327.3 617.2,327.3 617.9,327.3 618.7,327.3 619.4,327.3 620.1,327.3 620.8,327.3 621.5,327.3 622.3,327.3 623.0,327.3 623.7,327.3 624.4,327.3 625.1,327.3 625.9,327.3 626.6,327.3 627.3,327.3 628.0,327.3 628.7,327.3 629.5,327.3 630.2,327.3 630.9,327.3 631.6,327.3 632.3,327.3 633.1,327.3 633.8,327.3 634.5,327.3 635.2,327.3 635.9,327.3 636.6,327.3 637.4,327.3 638.1,327.3 638.8,327.3 639.5,327.3 640.2,327.3 641.0,327.3 641.7,327.3 642.4,327.2 643.1,327.2 643.8,327.2 644.6,327.2 645.3,327.2 646.0,327.2 646.7,327.2 647.4,327.2 648.2,327.2 648.9,327.2 649.6,327.2 650.3,327.2 651.0,327.2 651.8,327.2 652.5,327.1 653.2,327.1 653.9,327.1 654.6,327.1 655.3,327.1 656.1,327.1 656.8,327.1 657.5,327.1 658.2,327.1 658.9,327.1 659.7,327.1 660.4,327.1 661.1,327.1 661.8,327.0 662.5,327.0 663.3,327.0 664.0,327.0 664.7,327.0 665.4,327.0 666.1,327.0 666.9,327.0 667.6,327.0 668.3,327.0 669.0,326.9 669.7,326.9 670.5,326.9 671.2,326.9 671.9,326.9 672.6,326.9 673.3,326.9 674.0,326.9 674.8,326.8 675.5,326.8 676.2,326.8 676.9,326.8 677.6,326.8 678.4,326.8 679.1,326.8 679.8,326.8 680.5,326.7 681.2,326.7 682.0,326.7 682.7,326.7 683.4,326.7" stroke="#7a7a7a" stroke-width="1.8" fill="none" stroke-linejoin="round"/>
</g>
<g>
<path d="M108.0,645.7 108.7,645.7 109.4,645.7 110.2,645.7 110.9,645.7 111.6,645.7 112.3,645.7 113.0,645.7 113.8,645.7 114.5,645.7 115.2,645.7 115.9,645.7 116.6,645.7 117.4,645.7 118.1,645.7 118.8,645.7 119.5,645.7 120.2,645.7 120.9,645.7 121.7,645.7 122.4,645.7 123.1,645.7 123.8,645.7 124.5,645.7 125.3,645.7 126.0,645.7 126.7,645.7 127.4,645.7 128.1,645.7 128.9,645.7 129.6,645.7 130.3,645.7 131.0,645.7 131.7,645.7 132.5,645.7 133.2,645.7 133.9,645.7 134.6,645.7 135.3,645.7 136.1,645.7 136.8,645.7 137.5,645.7 138.2,645.7 138.9,645.7 139.6,645.7 140.4,645.7 141.1,645.7 141.8,645.6 142.5,645.6 143.2,645.6 144.0,645.6 144.7,645.6 145.4,645.6 146.1,645.6 146.8,645.6 147.6,645.6 148.3,645.6 149.0,645.6 149.7,645.6 150.4,645.6 151.2,645.6 151.9,645.6 152.6,645.6 153.3,645.6 154.0,645.6 154.8,645.6 155.5,645.6 156.2,645.6 156.9,645.6 157.6,645.6 158.3,645.6 159.1,645.6 159.8,645.6 160.5,645.6 161.2,645.6 161.9,645.6 162.7,645.6 163.4,645.6 164.1,645.6 164.8,645.6 165.5,645.6 166.3,645.6 167.0,645.6 167.7,645.6 168.4,645.6 169.1,645.6 169.9,645.6 170.6,645.6 171.3,645.6 172.0,645.6 172.7,645.6 173.5,645.6 174.2,645.6 174.9,645.6 175.6,645.6 176.3,645.6 177.0,645.6 177.8,645.6 178.5,645.6 179.2,645.6 179.9,645.6 180.6,645.6 181.4,645.5 182.1,645.5 182.8,645.5 183.5,645.5 184.2,645.5 185.0,645.5 185.7,645.4 186.4,645.4 187.1,645.4 187.8,645.3 188.6,645.3 189.3,645.2 190.0,645.1 190.7,645.1 191.4,645.0 192.2,644.9 192.9,644.5 193.6,643.8 194.3,643.3 195.0,643.7 195.7,644.4 196.5,644.9 197.2,644.9 197.9,644.9 198.6,644.9 199.3,644.9 200.1,644.9 200.8,644.9 201.5,644.9 202.2,644.9 202.9,644.9 203.7,644.8 204.4,644.8 205.1,644.8 205.8,644.8 206.5,644.8 207.3,644.8 208.0,644.8 208.7,644.8 209.4,644.7 210.1,644.7 210.9,644.7 211.6,644.7 212.3,644.6 213.0,644.4 213.7,644.2 214.4,644.0 215.2,643.7 215.9,643.5 216.6,643.4 217.3,643.3 218.0,643.3 218.8,643.4 219.5,643.4 220.2,643.4 220.9,643.4 221.6,643.5 222.4,643.5 223.1,643.6 223.8,643.6 224.5,643.6 225.2,643.7 226.0,643.7 226.7,643.7 227.4,643.8 228.1,643.8 228.8,643.8 229.6,643.8 230.3,643.7 231.0,643.7 231.7,643.6 232.4,643.5 233.1,643.4 233.9,643.3 234.6,643.2 235.3,643.1 236.0,643.0 236.7,642.9 237.5,642.8 238.2,642.8 238.9,642.7 239.6,642.7 240.3,642.7 241.1,642.7 241.8,642.8 242.5,642.9 243.2,643.0 243.9,643.1 244.7,643.3 245.4,643.5 246.1,643.7 246.8,643.9 247.5,644.0 248.3,644.2 249.0,644.4 249.7,644.5 250.4,644.6 251.1,644.6 251.8,644.7 252.6,644.7 253.3,644.7 254.0,644.7 254.7,644.7 255.4,644.7 256.2,644.7 256.9,644.7 257.6,644.7 258.3,644.7 259.0,644.7 259.8,644.7 260.5,644.7 261.2,644.7 261.9,644.7 262.6,644.7 263.4,644.7 264.1,644.7 264.8,644.7 265.5,644.7 266.2,644.7 267.0,644.7 267.7,644.7 268.4,644.7 269.1,644.7 269.8,644.7 270.6,644.7 271.3,644.7 272.0,644.7 272.7,644.7 273.4,644.7 274.1,644.7 274.9,644.7 275.6,644.6 276.3,644.6 277.0,644.4 277.7,644.3 278.5,644.1 279.2,643.8 279.9,643.6 280.6,643.3 281.3,643.1 282.1,642.7 282.8,642.3 283.5,641.8 284.2,641.3 284.9,640.7 285.7,640.0 286.4,639.3 287.1,638.4 287.8,637.0 288.5,635.4 289.3,633.6 290.0,632.0 290.7,630.7 291.4,629.7 292.1,629.4 292.8,629.5 293.6,629.9 294.3,630.4 295.0,631.1 295.7,631.8 296.4,632.5 297.2,633.2 297.9,633.8 298.6,634.3 299.3,634.9 300.0,635.5 300.8,636.2 301.5,636.7 302.2,637.3 302.9,637.7 303.6,638.0 304.4,638.2 305.1,638.2 305.8,637.8 306.5,637.1 307.2,636.2 308.0,635.0 308.7,633.8 309.4,632.5 310.1,631.2 310.8,630.1 311.5,629.2 312.3,628.6 313.0,628.3 313.7,628.5 314.4,629.3 315.1,630.5 315.9,632.0 316.6,633.6 317.3,635.2 318.0,636.6 318.7,637.7 319.5,638.2 320.2,638.5 320.9,638.7 321.6,638.9 322.3,639.0 323.1,639.2 323.8,639.3 324.5,639.3 325.2,639.3 325.9,639.3 326.7,639.3 327.4,639.2 328.1,639.1 328.8,639.0 329.5,639.0 330.2,638.9 331.0,638.9 331.7,638.9 332.4,639.0 333.1,639.1 333.8,639.3 334.6,639.5 335.3,639.7 336.0,639.9 336.7,640.1 337.4,640.3 338.2,640.5 338.9,640.6 339.6,640.8 340.3,641.0 341.0,641.2 341.8,641.3 342.5,641.5 343.2,641.7 343.9,641.9 344.6,642.1 345.4,642.3 346.1,642.4 346.8,642.6 347.5,642.8 348.2,643.0 348.9,643.2 349.7,643.3 350.4,643.5 351.1,643.7 351.8,643.9 352.5,644.1 353.3,644.3 354.0,644.5 354.7,644.6 355.4,644.7 356.1,644.7 356.9,644.8 357.6,644.9 358.3,644.9 359.0,645.0 359.7,645.0 360.5,645.1 361.2,645.1 361.9,645.2 362.6,645.2 363.3,645.3 364.1,645.3 364.8,645.3 365.5,645.3 366.2,645.3 366.9,645.3 367.6,645.3 368.4,645.3 369.1,645.3 369.8,645.3 370.5,645.3 371.2,645.3 372.0,645.3 372.7,645.3 373.4,645.2 374.1,645.2 374.8,645.2 375.6,645.2 376.3,645.1 377.0,645.1 377.7,645.1 378.4,645.0 379.2,645.0 379.9,645.0 380.6,645.0 381.3,644.9 382.0,644.9 382.8,644.8 383.5,644.8 384.2,644.8 384.9,644.7 385.6,644.7 386.3,644.7 387.1,644.6 387.8,644.6 388.5,644.6 389.2,644.5 389.9,644.5 390.7,644.5 391.4,644.5 392.1,644.4 392.8,644.4 393.5,644.4 394.3,644.4 395.0,644.3 395.7,644.3 396.4,644.3 397.1,644.3 397.9,644.3 398.6,644.2 399.3,644.2 400.0,644.2 400.7,644.2 401.5,644.2 402.2,644.2 402.9,644.2 403.6,644.3 404.3,644.3 405.1,644.3 405.8,644.3 406.5,644.4 407.2,644.4 407.9,644.5 408.6,644.5 409.4,644.6 410.1,644.6 410.8,644.7 411.5,644.8 412.2,644.8 413.0,644.9 413.7,645.0 414.4,645.0 415.1,645.1 415.8,645.1 416.6,645.2 417.3,645.2 418.0,645.3 418.7,645.3 419.4,645.4 420.2,645.4 420.9,645.5 421.6,645.5 422.3,645.5 423.0,645.5 423.8,645.6 424.5,645.6 425.2,645.6 425.9,645.6 426.6,645.6 427.3,645.6 428.1,645.6 428.8,645.6 429.5,645.6 430.2,645.6 430.9,645.6 431.7,645.6 432.4,645.6 433.1,645.6 433.8,645.6 434.5,645.6 435.3,645.6 436.0,645.6 436.7,645.6 437.4,645.6 438.1,645.6 438.9,645.6 439.6,645.6 440.3,645.6 441.0,645.6 441.7,645.6 442.5,645.6 443.2,645.6 443.9,645.6 444.6,645.6 445.3,645.6 446.0,645.6 446.8,645.6 447.5,645.6 448.2,645.6 448.9,645.6 449.6,645.6 450.4,645.6 451.1,645.6 451.8,645.5 452.5,645.5 453.2,645.5 454.0,645.5 454.7,645.5 455.4,645.5 456.1,645.5 456.8,645.5 457.6,645.5 458.3,645.5 459.0,645.5 459.7,645.5 460.4,645.5 461.2,645.5 461.9,645.5 462.6,645.5 463.3,645.5 464.0,645.5 464.7,645.5 465.5,645.5 466.2,645.5 466.9,645.5 467.6,645.5 468.3,645.5 469.1,645.5 469.8,645.5 470.5,645.5 471.2,645.5 471.9,645.5 472.7,645.5 473.4,645.5 474.1,645.5 474.8,645.5 475.5,645.5 476.3,645.5 477.0,645.5 477.7,645.5 478.4,645.5 479.1,645.5 479.9,645.5 480.6,645.5 481.3,645.5 482.0,645.5 482.7,645.5 483.4,645.5 484.2,645.5 484.9,645.5 485.6,645.5 486.3,645.5 487.0,645.5 487.8,645.5 488.5,645.5 489.2,645.5 489.9,645.5 490.6,645.5 491.4,645.5 492.1,645.5 492.8,645.5 493.5,645.5 494.2,645.5 495.0,645.5 495.7,645.5 496.4,645.5 497.1,645.5 497.8,645.5 498.6,645.4 499.3,645.4 500.0,645.4 500.7,645.4 501.4,645.4 502.1,645.4 502.9,645.4 503.6,645.4 504.3,645.4 505.0,645.4 505.7,645.4 506.5,645.4 507.2,645.4 507.9,645.4 508.6,645.4 509.3,645.4 510.1,645.4 510.8,645.4 511.5,645.4 512.2,645.4 512.9,645.4 513.7,645.4 514.4,645.4 515.1,645.4 515.8,645.4 516.5,645.4 517.3,645.3 518.0,645.3 518.7,645.3 519.4,645.3 520.1,645.1 520.8,644.6 521.6,644.1 522.3,643.8 523.0,643.7 523.7,643.6 524.4,643.5 525.2,643.4 525.9,643.3 526.6,643.3 527.3,643.2 528.0,643.2 528.8,643.1 529.5,643.1 530.2,643.0 530.9,643.0 531.6,643.0 532.4,642.9 533.1,642.9 533.8,642.9 534.5,642.8 535.2,642.8 536.0,642.7 536.7,642.7 537.4,642.6 538.1,642.6 538.8,642.5 539.5,642.5 540.3,642.4 541.0,642.3 541.7,642.2 542.4,642.1 543.1,642.0 543.9,641.9 544.6,641.8 545.3,641.7 546.0,641.5 546.7,641.4 547.5,641.3 548.2,641.1 548.9,640.9 549.6,640.7 550.3,640.4 551.1,640.1 551.8,639.8 552.5,639.6 553.2,639.4 553.9,639.2 554.7,639.1 555.4,639.2 556.1,639.3 556.8,639.5 557.5,639.8 558.3,640.2 559.0,640.6 559.7,641.0 560.4,641.5 561.1,641.9 561.8,642.3 562.6,642.7 563.3,643.0 564.0,643.5 564.7,643.9 565.4,644.3 566.2,644.7 566.9,645.0 567.6,645.3 568.3,645.3 569.0,645.3 569.8,645.3 570.5,645.4 571.2,645.4 571.9,645.4 572.6,645.4 573.4,645.4 574.1,645.4 574.8,645.4 575.5,645.4 576.2,645.4 577.0,645.4 577.7,645.4 578.4,645.4 579.1,645.4 579.8,645.4 580.5,645.4 581.3,645.4 582.0,645.4 582.7,645.4 583.4,645.4 584.1,645.4 584.9,645.5 585.6,645.5 586.3,645.5 587.0,645.5 587.7,645.5 588.5,645.5 589.2,645.5 589.9,645.5 590.6,645.5 591.3,645.5 592.1,645.5 592.8,645.5 593.5,645.5 594.2,645.5 594.9,645.5 595.7,645.5 596.4,645.5 597.1,645.5 597.8,645.5 598.5,645.5 599.2,645.5 600.0,645.5 600.7,645.5 601.4,645.5 602.1,645.5 602.8,645.5 603.6,645.5 604.3,645.6 605.0,645.6 605.7,645.6 606.4,645.6 607.2,645.6 607.9,645.6 608.6,645.6 609.3,645.6 610.0,645.6 610.8,645.6 611.5,645.6 612.2,645.6 612.9,645.6 613.6,645.6 614.4,645.6 615.1,645.6 615.8,645.6 616.5,645.6 617.2,645.6 617.9,645.6 618.7,645.6 619.4,645.6 620.1,645.6 620.8,645.6 621.5,645.6 622.3,645.6 623.0,645.6 623.7,645.6 624.4,645.6 625.1,645.6 625.9,645.6 626.6,645.6 627.3,645.6 628.0,645.6 628.7,645.6 629.5,645.6 630.2,645.6 630.9,645.6 631.6,645.6 632.3,645.6 633.1,645.6 633.8,645.6 634.5,645.6 635.2,645.6 635.9,645.6 636.6,645.6 637.4,645.6 638.1,645.6 638.8,645.6 639.5,645.6 640.2,645.6 641.0,645.6 641.7,645.6 642.4,645.6 643.1,645.6 643.8,645.6 644.6,645.7 645.3,645.7 646.0,645.7 646.7,645.7 647.4,645.7 648.2,645.7 648.9,645.7 649.6,645.7 650.3,645.7 651.0,645.7 651.8,645.7 652.5,645.7 653.2,645.7 653.9,645.7 654.6,645.7 655.3,645.7 656.1,645.7 656.8,645.7 657.5,645.7 658.2,645.7 658.9,645.7 659.7,645.7 660.4,645.7 661.1,645.7 661.8,645.7 662.5,645.7 663.3,645.7 664.0,645.7 664.7,645.7 665.4,645.7 666.1,645.7 666.9,645.7 667.6,645.7 668.3,645.7 669.0,645.7 669.7,645.7 670.5,645.7 671.2,645.7 671.9,645.7 672.6,645.7 673.3,645.7 674.0,645.7 674.8,645.7 675.5,645.7 676.2,645.7 676.9,645.7 677.6,645.7 678.4,645.7 679.1,645.7 679.8,645.7 680.5,645.7 681.2,645.7 682.0,645.7 682.7,645.7 683.4,645.7" stroke="#3a3a3a" stroke-width="1.5" fill="none" stroke-linejoin="round"/>
<path d="M108.0,645.6 108.7,645.6 109.4,645.6 110.2,645.6 110.9,645.6 111.6,645.6 112.3,645.6 113.0,645.6 113.8,645.6 114.5,645.6 115.2,645.6 115.9,645.6 116.6,645.6 117.4,645.6 118.1,645.6 118.8,645.6 119.5,645.6 120.2,645.6 120.9,645.6 121.7,645.6 122.4,645.6 123.1,645.6 123.8,645.6 124.5,645.5 125.3,645.5 126.0,645.5 126.7,645.5 127.4,645.5 128.1,645.5 128.9,645.5 129.6,645.5 130.3,645.5 131.0,645.5 131.7,645.5 132.5,645.5 133.2,645.5 133.9,645.5 134.6,645.5 135.3,645.5 136.1,645.5 136.8,645.5 137.5,645.5 138.2,645.5 138.9,645.5 139.6,645.5 140.4,645.5 141.1,645.5 141.8,645.5 142.5,645.5 143.2,645.5 144.0,645.5 144.7,645.5 145.4,645.5 146.1,645.5 146.8,645.5 147.6,645.5 148.3,645.5 149.0,645.5 149.7,645.5 150.4,645.5 151.2,645.5 151.9,645.5 152.6,645.5 153.3,645.5 154.0,645.5 154.8,645.5 155.5,645.5 156.2,645.5 156.9,645.5 157.6,645.5 158.3,645.5 159.1,645.5 159.8,645.5 160.5,645.5 161.2,645.5 161.9,645.5 162.7,645.5 163.4,645.5 164.1,645.5 164.8,645.5 165.5,645.5 166.3,645.5 167.0,645.5 167.7,645.5 168.4,645.5 169.1,645.5 169.9,645.5 170.6,645.5 171.3,645.4 172.0,645.4 172.7,645.4 173.5,645.4 174.2,645.4 174.9,645.4 175.6,645.4 176.3,645.4 177.0,645.4 177.8,645.4 178.5,645.4 179.2,645.4 179.9,645.4 180.6,645.3 181.4,645.3 182.1,645.3 182.8,645.3 183.5,645.3 184.2,645.3 185.0,645.2 185.7,645.2 186.4,645.2 187.1,645.0 187.8,644.8 188.6,644.6 189.3,644.2 190.0,643.8 190.7,643.3 191.4,642.0 192.2,639.4 192.9,637.3 193.6,635.9 194.3,635.2 195.0,636.1 195.7,637.7 196.5,639.7 197.2,641.8 197.9,642.9 198.6,643.4 199.3,643.7 200.1,644.0 200.8,644.2 201.5,644.2 202.2,644.2 202.9,644.2 203.7,644.1 204.4,644.0 205.1,643.9 205.8,643.7 206.5,643.6 207.3,643.4 208.0,643.2 208.7,642.8 209.4,642.3 210.1,641.7 210.9,641.1 211.6,640.5 212.3,639.9 213.0,639.4 213.7,638.7 214.4,638.1 215.2,637.5 215.9,637.2 216.6,637.3 217.3,637.6 218.0,638.1 218.8,638.6 219.5,638.9 220.2,639.2 220.9,639.4 221.6,639.3 222.4,639.0 223.1,638.8 223.8,638.9 224.5,638.9 225.2,639.0 226.0,639.1 226.7,639.1 227.4,638.9 228.1,638.5 228.8,638.0 229.6,637.4 230.3,636.9 231.0,636.5 231.7,636.4 232.4,636.4 233.1,636.4 233.9,636.4 234.6,636.4 235.3,636.4 236.0,636.4 236.7,636.5 237.5,636.7 238.2,637.1 238.9,637.5 239.6,637.8 240.3,637.8 241.1,637.4 241.8,636.9 242.5,636.4 243.2,636.1 243.9,636.2 244.7,636.5 245.4,636.9 246.1,637.3 246.8,637.8 247.5,638.3 248.3,638.9 249.0,639.6 249.7,640.4 250.4,641.0 251.1,641.5 251.8,641.8 252.6,642.0 253.3,642.1 254.0,642.3 254.7,642.4 255.4,642.5 256.2,642.6 256.9,642.7 257.6,642.8 258.3,642.8 259.0,642.9 259.8,642.9 260.5,642.9 261.2,642.9 261.9,642.9 262.6,642.9 263.4,642.9 264.1,642.8 264.8,642.8 265.5,642.8 266.2,642.7 267.0,642.7 267.7,642.7 268.4,642.6 269.1,642.5 269.8,642.4 270.6,642.2 271.3,642.0 272.0,641.8 272.7,641.6 273.4,641.4 274.1,641.2 274.9,640.9 275.6,640.5 276.3,640.2 277.0,639.8 277.7,639.3 278.5,638.8 279.2,638.3 279.9,637.6 280.6,636.8 281.3,635.9 282.1,634.8 282.8,633.6 283.5,632.1 284.2,630.3 284.9,627.9 285.7,623.9 286.4,617.7 287.1,610.1 287.8,602.0 288.5,593.0 289.3,582.6 290.0,576.6 290.7,572.3 291.4,571.1 292.1,573.1 292.8,576.6 293.6,579.5 294.3,581.7 295.0,583.7 295.7,584.5 296.4,582.6 297.2,579.0 297.9,575.7 298.6,572.8 299.3,573.8 300.0,579.8 300.8,587.1 301.5,595.1 302.2,604.2 302.9,611.1 303.6,614.8 304.4,617.4 305.1,617.9 305.8,617.0 306.5,615.4 307.2,613.3 308.0,609.3 308.7,603.4 309.4,596.5 310.1,587.3 310.8,577.1 311.5,569.8 312.3,563.8 313.0,563.2 313.7,569.0 314.4,576.7 315.1,586.8 315.9,598.1 316.6,608.3 317.3,618.1 318.0,625.2 318.7,629.1 319.5,631.8 320.2,633.2 320.9,634.3 321.6,635.0 322.3,635.5 323.1,635.6 323.8,635.6 324.5,635.6 325.2,635.5 325.9,635.2 326.7,634.8 327.4,634.4 328.1,634.0 328.8,633.6 329.5,633.1 330.2,632.7 331.0,632.3 331.7,632.1 332.4,632.0 333.1,632.1 333.8,632.5 334.6,633.1 335.3,633.8 336.0,634.5 336.7,635.2 337.4,635.7 338.2,636.3 338.9,636.8 339.6,637.4 340.3,637.9 341.0,638.4 341.8,638.9 342.5,639.4 343.2,639.9 343.9,640.4 344.6,640.9 345.4,641.3 346.1,641.7 346.8,642.1 347.5,642.3 348.2,642.6 348.9,642.8 349.7,643.0 350.4,643.2 351.1,643.4 351.8,643.5 352.5,643.7 353.3,643.8 354.0,643.9 354.7,643.9 355.4,644.0 356.1,644.1 356.9,644.2 357.6,644.2 358.3,644.3 359.0,644.4 359.7,644.4 360.5,644.5 361.2,644.6 361.9,644.7 362.6,644.7 363.3,644.8 364.1,644.8 364.8,644.9 365.5,644.9 366.2,645.0 366.9,645.0 367.6,645.0 368.4,645.0 369.1,645.0 369.8,645.0 370.5,645.0 371.2,645.0 372.0,645.0 372.7,645.0 373.4,645.0 374.1,645.0 374.8,645.0 375.6,644.9 376.3,644.9 377.0,644.9 377.7,644.9 378.4,644.9 379.2,644.9 379.9,644.9 380.6,644.9 381.3,644.9 382.0,644.9 382.8,644.9 383.5,644.9 384.2,644.9 384.9,644.9 385.6,644.9 386.3,644.9 387.1,644.9 387.8,644.9 388.5,644.8 389.2,644.8 389.9,644.8 390.7,644.8 391.4,644.7 392.1,644.5 392.8,644.3 393.5,644.1 394.3,643.8 395.0,643.6 395.7,643.3 396.4,643.0 397.1,642.8 397.9,642.5 398.6,642.1 399.3,641.7 400.0,641.4 400.7,641.2 401.5,641.1 402.2,641.1 402.9,641.2 403.6,641.3 404.3,641.4 405.1,641.6 405.8,641.8 406.5,641.9 407.2,642.1 407.9,642.3 408.6,642.6 409.4,642.9 410.1,643.2 410.8,643.5 411.5,643.8 412.2,644.0 413.0,644.2 413.7,644.3 414.4,644.4 415.1,644.5 415.8,644.6 416.6,644.7 417.3,644.8 418.0,644.8 418.7,644.9 419.4,645.0 420.2,645.0 420.9,645.1 421.6,645.1 422.3,645.2 423.0,645.2 423.8,645.2 424.5,645.2 425.2,645.3 425.9,645.3 426.6,645.3 427.3,645.3 428.1,645.3 428.8,645.3 429.5,645.3 430.2,645.3 430.9,645.3 431.7,645.4 432.4,645.4 433.1,645.4 433.8,645.4 434.5,645.4 435.3,645.4 436.0,645.4 436.7,645.4 437.4,645.4 438.1,645.4 438.9,645.4 439.6,645.4 440.3,645.5 441.0,645.5 441.7,645.5 442.5,645.5 443.2,645.5 443.9,645.5 444.6,645.5 445.3,645.5 446.0,645.5 446.8,645.5 447.5,645.5 448.2,645.5 448.9,645.5 449.6,645.5 450.4,645.5 451.1,645.5 451.8,645.5 452.5,645.5 453.2,645.5 454.0,645.5 454.7,645.5 455.4,645.5 456.1,645.5 456.8,645.5 457.6,645.5 458.3,645.5 459.0,645.5 459.7,645.5 460.4,645.5 461.2,645.5 461.9,645.5 462.6,645.5 463.3,645.5 464.0,645.5 464.7,645.5 465.5,645.5 466.2,645.5 466.9,645.5 467.6,645.5 468.3,645.5 469.1,645.5 469.8,645.5 470.5,645.5 471.2,645.5 471.9,645.5 472.7,645.5 473.4,645.5 474.1,645.5 474.8,645.5 475.5,645.5 476.3,645.5 477.0,645.5 477.7,645.5 478.4,645.5 479.1,645.5 479.9,645.5 480.6,645.5 481.3,645.5 482.0,645.5 482.7,645.5 483.4,645.5 484.2,645.5 484.9,645.5 485.6,645.5 486.3,645.5 487.0,645.5 487.8,645.5 488.5,645.5 489.2,645.5 489.9,645.5 490.6,645.5 491.4,645.5 492.1,645.5 492.8,645.5 493.5,645.5 494.2,645.5 495.0,645.4 495.7,645.3 496.4,645.2 497.1,645.1 497.8,645.0 498.6,644.9 499.3,644.8 500.0,644.7 500.7,644.6 501.4,644.6 502.1,644.6 502.9,644.6 503.6,644.7 504.3,644.8 505.0,644.9 505.7,644.9 506.5,645.0 507.2,645.1 507.9,645.1 508.6,645.1 509.3,645.1 510.1,645.1 510.8,645.1 511.5,645.0 512.2,645.0 512.9,645.0 513.7,645.0 514.4,645.0 515.1,644.9 515.8,644.9 516.5,644.8 517.3,644.8 518.0,644.7 518.7,644.0 519.4,642.4 520.1,640.6 520.8,639.2 521.6,637.8 522.3,636.9 523.0,636.6 523.7,636.4 524.4,636.2 525.2,636.2 525.9,636.3 526.6,636.7 527.3,637.1 528.0,637.2 528.8,637.1 529.5,636.7 530.2,636.3 530.9,636.1 531.6,636.3 532.4,636.7 533.1,637.1 533.8,637.3 534.5,637.1 535.2,636.7 536.0,636.3 536.7,636.1 537.4,636.2 538.1,636.5 538.8,636.8 539.5,636.9 540.3,636.8 541.0,636.4 541.7,636.0 542.4,635.6 543.1,635.4 543.9,635.2 544.6,634.8 545.3,634.3 546.0,633.6 546.7,632.6 547.5,629.7 548.2,625.5 548.9,622.3 549.6,619.3 550.3,616.5 551.1,614.0 551.8,612.2 552.5,611.0 553.2,610.1 553.9,609.4 554.7,609.0 555.4,609.4 556.1,610.8 556.8,612.8 557.5,615.1 558.3,618.0 559.0,621.8 559.7,625.3 560.4,628.8 561.1,631.9 561.8,634.4 562.6,636.5 563.3,638.1 564.0,639.5 564.7,640.6 565.4,641.4 566.2,642.0 566.9,642.5 567.6,642.9 568.3,643.3 569.0,643.6 569.8,643.9 570.5,644.1 571.2,644.3 571.9,644.5 572.6,644.6 573.4,644.8 574.1,645.0 574.8,645.1 575.5,645.2 576.2,645.3 577.0,645.3 577.7,645.3 578.4,645.3 579.1,645.4 579.8,645.4 580.5,645.4 581.3,645.4 582.0,645.4 582.7,645.4 583.4,645.4 584.1,645.5 584.9,645.5 585.6,645.5 586.3,645.5 587.0,645.5 587.7,645.5 588.5,645.5 589.2,645.5 589.9,645.5 590.6,645.5 591.3,645.5 592.1,645.5 592.8,645.5 593.5,645.5 594.2,645.5 594.9,645.5 595.7,645.5 596.4,645.5 597.1,645.5 597.8,645.5 598.5,645.5 599.2,645.5 600.0,645.5 600.7,645.5 601.4,645.5 602.1,645.5 602.8,645.5 603.6,645.5 604.3,645.5 605.0,645.5 605.7,645.5 606.4,645.5 607.2,645.5 607.9,645.5 608.6,645.5 609.3,645.5 610.0,645.5 610.8,645.5 611.5,645.5 612.2,645.5 612.9,645.5 613.6,645.5 614.4,645.5 615.1,645.5 615.8,645.5 616.5,645.5 617.2,645.5 617.9,645.5 618.7,645.5 619.4,645.5 620.1,645.5 620.8,645.5 621.5,645.5 622.3,645.5 623.0,645.5 623.7,645.5 624.4,645.5 625.1,645.5 625.9,645.5 626.6,645.5 627.3,645.5 628.0,645.5 628.7,645.5 629.5,645.5 630.2,645.5 630.9,645.5 631.6,645.5 632.3,645.5 633.1,645.5 633.8,645.5 634.5,645.5 635.2,645.5 635.9,645.5 636.6,645.5 637.4,645.5 638.1,645.5 638.8,645.5 639.5,645.5 640.2,645.5 641.0,645.5 641.7,645.5 642.4,645.5 643.1,645.5 643.8,645.5 644.6,645.5 645.3,645.5 646.0,645.5 646.7,645.5 647.4,645.5 648.2,645.5 648.9,645.5 649.6,645.5 650.3,645.5 651.0,645.5 651.8,645.5 652.5,645.5 653.2,645.5 653.9,645.5 654.6,645.5 655.3,645.5 656.1,645.5 656.8,645.5 657.5,645.5 658.2,645.5 658.9,645.5 659.7,645.5 660.4,645.5 661.1,645.5 661.8,645.5 662.5,645.5 663.3,645.5 664.0,645.5 664.7,645.5 665.4,645.5 666.1,645.5 666.9,645.5 667.6,645.5 668.3,645.5 669.0,645.5 669.7,645.5 670.5,645.5 671.2,645.5 671.9,645.5 672.6,645.5 673.3,645.5 674.0,645.5 674.8,645.5 675.5,645.5 676.2,645.5 676.9,645.5 677.6,645.5 678.4,645.5 679.1,645.5 679.8,645.5 680.5,645.5 681.2,645.5 682.0,645.5 682.7,645.5 683.4,645.5" stroke="#222" stroke-width="1.8" fill="none" stroke-linejoin="round"/>
<path d="M108.0,645.6 108.7,645.6 109.4,645.6 110.2,645.6 110.9,645.6 111.6,645.6 112.3,645.6 113.0,645.6 113.8,645.6 114.5,645.6 115.2,645.6 115.9,645.6 116.6,645.6 117.4,645.6 118.1,645.6 118.8,645.6 119.5,645.6 120.2,645.6 120.9,645.6 121.7,645.6 122.4,645.6 123.1,645.6 123.8,645.6 124.5,645.5 125.3,645.5 126.0,645.5 126.7,645.5 127.4,645.5 128.1,645.5 128.9,645.5 129.6,645.5 130.3,645.5 131.0,645.5 131.7,645.5 132.5,645.5 133.2,645.5 133.9,645.5 134.6,645.5 135.3,645.5 136.1,645.5 136.8,645.5 137.5,645.5 138.2,645.5 138.9,645.5 139.6,645.5 140.4,645.5 141.1,645.5 141.8,645.5 142.5,645.5 143.2,645.5 144.0,645.5 144.7,645.5 145.4,645.5 146.1,645.5 146.8,645.5 147.6,645.5 148.3,645.5 149.0,645.5 149.7,645.5 150.4,645.5 151.2,645.5 151.9,645.5 152.6,645.5 153.3,645.5 154.0,645.5 154.8,645.5 155.5,645.5 156.2,645.5 156.9,645.5 157.6,645.5 158.3,645.5 159.1,645.5 159.8,645.5 160.5,645.5 161.2,645.5 161.9,645.5 162.7,645.5 163.4,645.5 164.1,645.5 164.8,645.5 165.5,645.5 166.3,645.5 167.0,645.5 167.7,645.5 168.4,645.5 169.1,645.5 169.9,645.5 170.6,645.4 171.3,645.4 172.0,645.4 172.7,645.4 173.5,645.4 174.2,645.4 174.9,645.4 175.6,645.4 176.3,645.4 177.0,645.4 177.8,645.4 178.5,645.4 179.2,645.4 179.9,645.3 180.6,645.3 181.4,645.3 182.1,645.3 182.8,645.3 183.5,645.3 184.2,645.2 185.0,645.2 185.7,645.2 186.4,645.1 187.1,645.0 187.8,644.8 188.6,644.6 189.3,644.2 190.0,643.8 190.7,643.3 191.4,642.0 192.2,639.3 192.9,637.1 193.6,635.8 194.3,635.1 195.0,636.0 195.7,637.6 196.5,639.6 197.2,641.8 197.9,642.9 198.6,643.3 199.3,643.7 200.1,644.0 200.8,644.1 201.5,644.2 202.2,644.2 202.9,644.1 203.7,644.1 204.4,644.0 205.1,643.8 205.8,643.7 206.5,643.5 207.3,643.4 208.0,643.1 208.7,642.7 209.4,642.2 210.1,641.6 210.9,641.0 211.6,640.4 212.3,639.8 213.0,639.2 213.7,638.6 214.4,637.9 215.2,637.4 215.9,637.1 216.6,637.1 217.3,637.5 218.0,638.0 218.8,638.5 219.5,638.8 220.2,639.1 220.9,639.3 221.6,639.2 222.4,638.9 223.1,638.7 223.8,638.7 224.5,638.8 225.2,638.9 226.0,638.9 226.7,638.9 227.4,638.7 228.1,638.3 228.8,637.8 229.6,637.2 230.3,636.7 231.0,636.3 231.7,636.2 232.4,636.2 233.1,636.2 233.9,636.2 234.6,636.2 235.3,636.2 236.0,636.2 236.7,636.3 237.5,636.5 238.2,636.9 238.9,637.3 239.6,637.6 240.3,637.6 241.1,637.2 241.8,636.7 242.5,636.1 243.2,635.9 243.9,636.0 244.7,636.3 245.4,636.7 246.1,637.1 246.8,637.6 247.5,638.1 248.3,638.7 249.0,639.5 249.7,640.2 250.4,640.9 251.1,641.4 251.8,641.7 252.6,641.9 253.3,642.1 254.0,642.2 254.7,642.3 255.4,642.4 256.2,642.5 256.9,642.6 257.6,642.7 258.3,642.7 259.0,642.8 259.8,642.8 260.5,642.8 261.2,642.8 261.9,642.8 262.6,642.8 263.4,642.8 264.1,642.7 264.8,642.7 265.5,642.7 266.2,642.6 267.0,642.6 267.7,642.6 268.4,642.5 269.1,642.4 269.8,642.3 270.6,642.1 271.3,641.9 272.0,641.7 272.7,641.5 273.4,641.3 274.1,641.0 274.9,640.7 275.6,640.4 276.3,640.0 277.0,639.6 277.7,639.1 278.5,638.6 279.2,638.1 279.9,637.4 280.6,636.5 281.3,635.5 282.1,634.5 282.8,633.2 283.5,631.7 284.2,629.8 284.9,627.4 285.7,623.2 286.4,616.9 287.1,609.1 287.8,600.8 288.5,591.6 289.3,581.1 290.0,575.1 290.7,570.9 291.4,569.7 292.1,571.9 292.8,575.5 293.6,578.6 294.3,581.0 295.0,583.1 295.7,584.0 296.4,582.2 297.2,578.7 297.9,575.6 298.6,572.8 299.3,573.7 300.0,579.7 300.8,586.8 301.5,594.8 302.2,603.9 302.9,610.8 303.6,614.5 304.4,617.1 305.1,617.5 305.8,616.6 306.5,614.9 307.2,612.7 308.0,608.6 308.7,602.4 309.4,595.3 310.1,585.8 310.8,575.3 311.5,567.6 312.3,561.3 313.0,560.6 313.7,566.6 314.4,574.6 315.1,584.9 315.9,596.7 316.6,607.1 317.3,617.3 318.0,624.6 318.7,628.6 319.5,631.4 320.2,632.8 320.9,633.9 321.6,634.7 322.3,635.2 323.1,635.3 323.8,635.3 324.5,635.3 325.2,635.2 325.9,634.9 326.7,634.5 327.4,634.0 328.1,633.6 328.8,633.2 329.5,632.8 330.2,632.3 331.0,631.9 331.7,631.7 332.4,631.6 333.1,631.7 333.8,632.1 334.6,632.7 335.3,633.4 336.0,634.1 336.7,634.8 337.4,635.4 338.2,636.0 338.9,636.5 339.6,637.1 340.3,637.7 341.0,638.2 341.8,638.7 342.5,639.2 343.2,639.7 343.9,640.2 344.6,640.7 345.4,641.2 346.1,641.6 346.8,641.9 347.5,642.2 348.2,642.5 348.9,642.7 349.7,643.0 350.4,643.2 351.1,643.3 351.8,643.5 352.5,643.6 353.3,643.7 354.0,643.8 354.7,643.9 355.4,644.0 356.1,644.0 356.9,644.1 357.6,644.2 358.3,644.2 359.0,644.3 359.7,644.4 360.5,644.5 361.2,644.5 361.9,644.6 362.6,644.7 363.3,644.8 364.1,644.8 364.8,644.9 365.5,644.9 366.2,644.9 366.9,644.9 367.6,644.9 368.4,644.9 369.1,644.9 369.8,644.9 370.5,644.9 371.2,644.9 372.0,644.9 372.7,644.9 373.4,644.9 374.1,644.9 374.8,644.9 375.6,644.9 376.3,644.9 377.0,644.9 377.7,644.9 378.4,644.9 379.2,644.9 379.9,644.9 380.6,644.9 381.3,644.9 382.0,644.9 382.8,644.9 383.5,644.9 384.2,644.9 384.9,644.9 385.6,644.9 386.3,644.8 387.1,644.8 387.8,644.8 388.5,644.8 389.2,644.8 389.9,644.8 390.7,644.8 391.4,644.6 392.1,644.5 392.8,644.3 393.5,644.0 394.3,643.8 395.0,643.5 395.7,643.2 396.4,642.9 397.1,642.7 397.9,642.4 398.6,642.0 399.3,641.6 400.0,641.3 400.7,641.0 401.5,640.9 402.2,641.0 402.9,641.0 403.6,641.2 404.3,641.3 405.1,641.5 405.8,641.7 406.5,641.8 407.2,642.0 407.9,642.3 408.6,642.5 409.4,642.8 410.1,643.2 410.8,643.5 411.5,643.8 412.2,644.0 413.0,644.2 413.7,644.3 414.4,644.4 415.1,644.5 415.8,644.6 416.6,644.7 417.3,644.7 418.0,644.8 418.7,644.9 419.4,645.0 420.2,645.0 420.9,645.1 421.6,645.1 422.3,645.1 423.0,645.2 423.8,645.2 424.5,645.2 425.2,645.2 425.9,645.2 426.6,645.3 427.3,645.3 428.1,645.3 428.8,645.3 429.5,645.3 430.2,645.3 430.9,645.3 431.7,645.3 432.4,645.4 433.1,645.4 433.8,645.4 434.5,645.4 435.3,645.4 436.0,645.4 436.7,645.4 437.4,645.4 438.1,645.4 438.9,645.4 439.6,645.4 440.3,645.4 441.0,645.4 441.7,645.5 442.5,645.5 443.2,645.5 443.9,645.5 444.6,645.5 445.3,645.5 446.0,645.5 446.8,645.5 447.5,645.5 448.2,645.5 448.9,645.5 449.6,645.5 450.4,645.5 451.1,645.5 451.8,645.5 452.5,645.5 453.2,645.5 454.0,645.5 454.7,645.5 455.4,645.5 456.1,645.5 456.8,645.5 457.6,645.5 458.3,645.5 459.0,645.5 459.7,645.5 460.4,645.5 461.2,645.5 461.9,645.5 462.6,645.5 463.3,645.5 464.0,645.5 464.7,645.5 465.5,645.5 466.2,645.5 466.9,645.5 467.6,645.5 468.3,645.5 469.1,645.5 469.8,645.5 470.5,645.5 471.2,645.5 471.9,645.5 472.7,645.5 473.4,645.5 474.1,645.5 474.8,645.5 475.5,645.5 476.3,645.5 477.0,645.5 477.7,645.5 478.4,645.5 479.1,645.5 479.9,645.5 480.6,645.5 481.3,645.5 482.0,645.5 482.7,645.5 483.4,645.5 484.2,645.5 484.9,645.5 485.6,645.5 486.3,645.5 487.0,645.5 487.8,645.5 488.5,645.5 489.2,645.5 489.9,645.5 490.6,645.5 491.4,645.5 492.1,645.5 492.8,645.5 493.5,645.5 494.2,645.4 495.0,645.4 495.7,645.3 496.4,645.2 497.1,645.1 497.8,645.0 498.6,644.9 499.3,644.8 500.0,644.7 500.7,644.6 501.4,644.6 502.1,644.6 502.9,644.6 503.6,644.7 504.3,644.8 505.0,644.8 505.7,644.9 506.5,645.0 507.2,645.0 507.9,645.1 508.6,645.1 509.3,645.1 510.1,645.1 510.8,645.0 511.5,645.0 512.2,645.0 512.9,645.0 513.7,645.0 514.4,644.9 515.1,644.9 515.8,644.9 516.5,644.8 517.3,644.8 518.0,644.7 518.7,644.0 519.4,642.4 520.1,640.6 520.8,639.1 521.6,637.7 522.3,636.8 523.0,636.5 523.7,636.2 524.4,636.1 525.2,636.0 525.9,636.2 526.6,636.6 527.3,637.0 528.0,637.1 528.8,637.0 529.5,636.6 530.2,636.2 530.9,636.0 531.6,636.2 532.4,636.6 533.1,637.0 533.8,637.2 534.5,637.0 535.2,636.6 536.0,636.2 536.7,636.0 537.4,636.1 538.1,636.4 538.8,636.7 539.5,636.8 540.3,636.7 541.0,636.3 541.7,635.9 542.4,635.5 543.1,635.3 543.9,635.1 544.6,634.7 545.3,634.2 546.0,633.4 546.7,632.4 547.5,629.5 548.2,625.3 548.9,622.0 549.6,619.0 550.3,616.1 551.1,613.7 551.8,611.8 552.5,610.7 553.2,609.7 553.9,609.0 554.7,608.6 555.4,609.0 556.1,610.4 556.8,612.5 557.5,614.8 558.3,617.7 559.0,621.5 559.7,625.1 560.4,628.7 561.1,631.8 561.8,634.3 562.6,636.5 563.3,638.1 564.0,639.4 564.7,640.5 565.4,641.4 566.2,642.0 566.9,642.4 567.6,642.9 568.3,643.2 569.0,643.6 569.8,643.8 570.5,644.1 571.2,644.3 571.9,644.5 572.6,644.6 573.4,644.8 574.1,644.9 574.8,645.1 575.5,645.2 576.2,645.3 577.0,645.3 577.7,645.3 578.4,645.3 579.1,645.3 579.8,645.4 580.5,645.4 581.3,645.4 582.0,645.4 582.7,645.4 583.4,645.4 584.1,645.4 584.9,645.5 585.6,645.5 586.3,645.5 587.0,645.5 587.7,645.5 588.5,645.5 589.2,645.5 589.9,645.5 590.6,645.5 591.3,645.5 592.1,645.5 592.8,645.5 593.5,645.5 594.2,645.5 594.9,645.5 595.7,645.5 596.4,645.5 597.1,645.5 597.8,645.5 598.5,645.5 599.2,645.5 600.0,645.5 600.7,645.5 601.4,645.5 602.1,645.5 602.8,645.5 603.6,645.5 604.3,645.5 605.0,645.5 605.7,645.5 606.4,645.5 607.2,645.5 607.9,645.5 608.6,645.5 609.3,645.5 610.0,645.5 610.8,645.5 611.5,645.5 612.2,645.5 612.9,645.5 613.6,645.5 614.4,645.5 615.1,645.5 615.8,645.5 616.5,645.5 617.2,645.5 617.9,645.5 618.7,645.5 619.4,645.5 620.1,645.5 620.8,645.5 621.5,645.5 622.3,645.5 623.0,645.5 623.7,645.5 624.4,645.5 625.1,645.5 625.9,645.5 626.6,645.5 627.3,645.5 628.0,645.5 628.7,645.5 629.5,645.5 630.2,645.5 630.9,645.5 631.6,645.5 632.3,645.5 633.1,645.5 633.8,645.5 634.5,645.5 635.2,645.5 635.9,645.5 636.6,645.5 637.4,645.5 638.1,645.5 638.8,645.5 639.5,645.5 640.2,645.5 641.0,645.5 641.7,645.5 642.4,645.5 643.1,645.5 643.8,645.5 644.6,645.5 645.3,645.5 646.0,645.5 646.7,645.5 647.4,645.5 648.2,645.5 648.9,645.5 649.6,645.5 650.3,645.5 651.0,645.5 651.8,645.5 652.5,645.5 653.2,645.5 653.9,645.5 654.6,645.5 655.3,645.5 656.1,645.5 656.8,645.5 657.5,645.5 658.2,645.5 658.9,645.5 659.7,645.5 660.4,645.5 661.1,645.5 661.8,645.5 662.5,645.5 663.3,645.5 664.0,645.5 664.7,645.5 665.4,645.5 666.1,645.5 666.9,645.5 667.6,645.5 668.3,645.5 669.0,645.5 669.7,645.5 670.5,645.5 671.2,645.5 671.9,645.5 672.6,645.5 673.3,645.5 674.0,645.5 674.8,645.5 675.5,645.5 676.2,645.5 676.9,645.5 677.6,645.5 678.4,645.5 679.1,645.5 679.8,645.5 680.5,645.5 681.2,645.5 682.0,645.5 682.7,645.5 683.4,645.5" stroke="#000" stroke-width="1.8" fill="none" stroke-linejoin="round"/>
<path d="M108.0,645.5 108.7,645.5 109.4,645.5 110.2,645.5 110.9,645.5 111.6,645.5 112.3,645.5 113.0,645.5 113.8,645.5 114.5,645.5 115.2,645.5 115.9,645.5 116.6,645.5 117.4,645.5 118.1,645.5 118.8,645.5 119.5,645.5 120.2,645.5 120.9,645.5 121.7,645.5 122.4,645.5 123.1,645.5 123.8,645.5 124.5,645.5 125.3,645.5 126.0,645.5 126.7,645.5 127.4,645.5 128.1,645.5 128.9,645.5 129.6,645.5 130.3,645.5 131.0,645.5 131.7,645.5 132.5,645.5 133.2,645.5 133.9,645.5 134.6,645.5 135.3,645.5 136.1,645.5 136.8,645.5 137.5,645.5 138.2,645.5 138.9,645.5 139.6,645.5 140.4,645.5 141.1,645.5 141.8,645.5 142.5,645.5 143.2,645.5 144.0,645.5 144.7,645.5 145.4,645.5 146.1,645.5 146.8,645.5 147.6,645.5 148.3,645.5 149.0,645.5 149.7,645.4 150.4,645.4 151.2,645.4 151.9,645.4 152.6,645.4 153.3,645.4 154.0,645.4 154.8,645.4 155.5,645.4 156.2,645.4 156.9,645.4 157.6,645.4 158.3,645.4 159.1,645.4 159.8,645.4 160.5,645.4 161.2,645.4 161.9,645.4 162.7,645.4 163.4,645.4 164.1,645.4 164.8,645.4 165.5,645.4 166.3,645.4 167.0,645.4 167.7,645.4 168.4,645.4 169.1,645.4 169.9,645.4 170.6,645.4 171.3,645.4 172.0,645.4 172.7,645.4 173.5,645.4 174.2,645.3 174.9,645.3 175.6,645.3 176.3,645.3 177.0,645.3 177.8,645.3 178.5,645.3 179.2,645.3 179.9,645.3 180.6,645.2 181.4,645.2 182.1,645.2 182.8,645.2 183.5,645.2 184.2,645.1 185.0,645.1 185.7,645.1 186.4,645.0 187.1,644.9 187.8,644.6 188.6,644.3 189.3,643.8 190.0,643.2 190.7,642.5 191.4,640.7 192.2,636.8 192.9,633.0 193.6,629.5 194.3,627.5 195.0,629.5 195.7,633.0 196.5,636.5 197.2,640.0 197.9,641.7 198.6,642.3 199.3,642.9 200.1,643.3 200.8,643.6 201.5,643.6 202.2,643.6 202.9,643.5 203.7,643.4 204.4,643.3 205.1,643.1 205.8,642.8 206.5,642.6 207.3,642.3 208.0,641.9 208.7,641.3 209.4,640.5 210.1,639.6 210.9,638.6 211.6,637.6 212.3,636.7 213.0,635.7 213.7,634.5 214.4,633.2 215.2,632.2 215.9,631.6 216.6,631.7 217.3,632.2 218.0,632.9 218.8,633.6 219.5,634.1 220.2,634.5 220.9,634.7 221.6,634.5 222.4,633.9 223.1,633.6 223.8,633.7 224.5,634.2 225.2,634.6 226.0,635.0 226.7,635.1 227.4,634.8 228.1,634.1 228.8,633.2 229.6,632.2 230.3,631.2 231.0,630.5 231.7,630.0 232.4,629.7 233.1,629.4 233.9,629.2 234.6,629.0 235.3,628.8 236.0,628.7 236.7,628.7 237.5,628.9 238.2,629.4 238.9,629.9 239.6,630.3 240.3,630.2 241.1,629.3 241.8,627.9 242.5,626.6 243.2,626.1 243.9,626.5 244.7,627.4 245.4,628.7 246.1,630.2 246.8,631.5 247.5,632.7 248.3,634.1 249.0,635.5 249.7,636.9 250.4,638.2 251.1,639.1 251.8,639.6 252.6,639.9 253.3,640.1 254.0,640.4 254.7,640.6 255.4,640.8 256.2,640.9 256.9,641.1 257.6,641.2 258.3,641.3 259.0,641.4 259.8,641.4 260.5,641.4 261.2,641.4 261.9,641.4 262.6,641.4 263.4,641.4 264.1,641.4 264.8,641.3 265.5,641.3 266.2,641.3 267.0,641.2 267.7,641.2 268.4,641.1 269.1,641.0 269.8,640.8 270.6,640.5 271.3,640.2 272.0,639.9 272.7,639.5 273.4,639.1 274.1,638.7 274.9,638.2 275.6,637.6 276.3,637.0 277.0,636.3 277.7,635.5 278.5,634.6 279.2,633.6 279.9,632.3 280.6,630.7 281.3,629.0 282.1,626.9 282.8,624.5 283.5,621.5 284.2,617.6 284.9,612.7 285.7,604.7 286.4,592.6 287.1,577.8 287.8,561.8 288.5,543.8 289.3,522.9 290.0,509.7 290.7,499.9 291.4,496.9 292.1,499.5 292.8,503.8 293.6,507.2 294.3,509.2 295.0,511.0 295.7,511.7 296.4,508.1 297.2,501.6 297.9,495.8 298.6,490.8 299.3,492.8 300.0,505.1 300.8,520.0 301.5,536.9 302.2,556.1 302.9,570.8 303.6,578.5 304.4,583.9 305.1,584.8 305.8,582.9 306.5,579.5 307.2,575.0 308.0,566.3 308.7,553.3 309.4,538.4 310.1,518.4 310.8,496.3 311.5,480.3 312.3,467.3 313.0,465.3 313.7,472.4 314.4,483.2 315.1,502.5 315.9,527.1 316.6,549.2 317.3,571.2 318.0,587.5 318.7,596.4 319.5,602.8 320.2,607.4 320.9,611.5 321.6,614.8 322.3,617.0 323.1,617.9 323.8,618.5 324.5,618.8 325.2,618.5 325.9,617.6 326.7,616.3 327.4,615.1 328.1,614.2 328.8,613.5 329.5,612.9 330.2,612.4 331.0,611.9 331.7,611.6 332.4,611.5 333.1,611.7 333.8,612.2 334.6,612.8 335.3,613.7 336.0,614.7 336.7,615.7 337.4,616.7 338.2,617.8 338.9,619.2 339.6,620.7 340.3,622.3 341.0,623.9 341.8,625.5 342.5,626.9 343.2,628.5 343.9,630.0 344.6,631.6 345.4,633.1 346.1,634.5 346.8,635.6 347.5,636.6 348.2,637.5 348.9,638.4 349.7,639.2 350.4,639.8 351.1,640.4 351.8,640.9 352.5,641.3 353.3,641.6 354.0,642.0 354.7,642.2 355.4,642.5 356.1,642.7 356.9,643.0 357.6,643.1 358.3,643.3 359.0,643.4 359.7,643.5 360.5,643.6 361.2,643.7 361.9,643.8 362.6,643.9 363.3,644.0 364.1,644.1 364.8,644.1 365.5,644.2 366.2,644.2 366.9,644.2 367.6,644.2 368.4,644.2 369.1,644.2 369.8,644.2 370.5,644.2 371.2,644.2 372.0,644.2 372.7,644.2 373.4,644.2 374.1,644.3 374.8,644.3 375.6,644.3 376.3,644.3 377.0,644.3 377.7,644.3 378.4,644.3 379.2,644.3 379.9,644.3 380.6,644.3 381.3,644.3 382.0,644.3 382.8,644.3 383.5,644.3 384.2,644.3 384.9,644.3 385.6,644.3 386.3,644.3 387.1,644.3 387.8,644.3 388.5,644.3 389.2,644.3 389.9,644.3 390.7,644.2 391.4,644.1 392.1,643.9 392.8,643.6 393.5,643.3 394.3,642.9 395.0,642.5 395.7,642.1 396.4,641.8 397.1,641.4 397.9,641.0 398.6,640.6 399.3,640.1 400.0,639.7 400.7,639.4 401.5,639.3 402.2,639.3 402.9,639.4 403.6,639.5 404.3,639.7 405.1,640.0 405.8,640.2 406.5,640.4 407.2,640.7 407.9,641.0 408.6,641.3 409.4,641.8 410.1,642.2 410.8,642.6 411.5,643.0 412.2,643.3 413.0,643.5 413.7,643.7 414.4,643.8 415.1,644.0 415.8,644.1 416.6,644.2 417.3,644.3 418.0,644.4 418.7,644.5 419.4,644.6 420.2,644.7 420.9,644.7 421.6,644.8 422.3,644.9 423.0,644.9 423.8,644.9 424.5,644.9 425.2,645.0 425.9,645.0 426.6,645.0 427.3,645.0 428.1,645.0 428.8,645.1 429.5,645.1 430.2,645.1 430.9,645.1 431.7,645.1 432.4,645.1 433.1,645.1 433.8,645.1 434.5,645.2 435.3,645.2 436.0,645.2 436.7,645.2 437.4,645.2 438.1,645.2 438.9,645.2 439.6,645.2 440.3,645.2 441.0,645.2 441.7,645.3 442.5,645.3 443.2,645.3 443.9,645.3 444.6,645.3 445.3,645.3 446.0,645.3 446.8,645.3 447.5,645.3 448.2,645.3 448.9,645.3 449.6,645.3 450.4,645.3 451.1,645.3 451.8,645.3 452.5,645.3 453.2,645.3 454.0,645.3 454.7,645.3 455.4,645.3 456.1,645.3 456.8,645.3 457.6,645.3 458.3,645.3 459.0,645.3 459.7,645.3 460.4,645.3 461.2,645.3 461.9,645.3 462.6,645.3 463.3,645.3 464.0,645.3 464.7,645.3 465.5,645.3 466.2,645.3 466.9,645.3 467.6,645.3 468.3,645.3 469.1,645.3 469.8,645.3 470.5,645.3 471.2,645.3 471.9,645.3 472.7,645.3 473.4,645.3 474.1,645.3 474.8,645.3 475.5,645.3 476.3,645.3 477.0,645.3 477.7,645.3 478.4,645.3 479.1,645.3 479.9,645.3 480.6,645.3 481.3,645.3 482.0,645.3 482.7,645.3 483.4,645.3 484.2,645.3 484.9,645.3 485.6,645.3 486.3,645.3 487.0,645.3 487.8,645.3 488.5,645.3 489.2,645.3 489.9,645.3 490.6,645.3 491.4,645.2 492.1,645.2 492.8,645.2 493.5,645.2 494.2,645.2 495.0,645.1 495.7,645.0 496.4,644.9 497.1,644.7 497.8,644.6 498.6,644.4 499.3,644.3 500.0,644.1 500.7,644.0 501.4,644.0 502.1,644.0 502.9,644.0 503.6,644.1 504.3,644.2 505.0,644.3 505.7,644.5 506.5,644.6 507.2,644.6 507.9,644.7 508.6,644.7 509.3,644.7 510.1,644.6 510.8,644.6 511.5,644.6 512.2,644.6 512.9,644.6 513.7,644.5 514.4,644.5 515.1,644.4 515.8,644.4 516.5,644.3 517.3,644.2 518.0,644.2 518.7,643.1 519.4,640.8 520.1,638.2 520.8,636.1 521.6,634.0 522.3,632.7 523.0,632.2 523.7,631.8 524.4,631.6 525.2,631.5 525.9,631.7 526.6,632.2 527.3,632.7 528.0,632.9 528.8,632.7 529.5,632.0 530.2,631.4 530.9,631.1 531.6,631.4 532.4,631.9 533.1,632.5 533.8,632.7 534.5,632.4 535.2,631.8 536.0,631.1 536.7,630.8 537.4,631.0 538.1,631.3 538.8,631.7 539.5,631.9 540.3,631.7 541.0,631.1 541.7,630.4 542.4,629.7 543.1,629.0 543.9,628.0 544.6,626.9 545.3,625.5 546.0,623.7 546.7,621.2 547.5,615.8 548.2,608.2 548.9,602.2 549.6,596.6 550.3,591.2 551.1,586.5 551.8,582.7 552.5,579.9 553.2,577.3 553.9,575.2 554.7,574.2 555.4,574.8 556.1,577.1 556.8,580.5 557.5,584.3 558.3,589.7 559.0,596.8 559.7,604.0 560.4,611.6 561.1,618.3 561.8,623.8 562.6,628.4 563.3,631.6 564.0,634.1 564.7,636.2 565.4,637.8 566.2,638.8 566.9,639.7 567.6,640.5 568.3,641.1 569.0,641.7 569.8,642.2 570.5,642.6 571.2,643.0 571.9,643.3 572.6,643.6 573.4,643.9 574.1,644.2 574.8,644.4 575.5,644.6 576.2,644.7 577.0,644.8 577.7,644.8 578.4,644.9 579.1,644.9 579.8,644.9 580.5,645.0 581.3,645.0 582.0,645.0 582.7,645.1 583.4,645.1 584.1,645.1 584.9,645.1 585.6,645.1 586.3,645.2 587.0,645.2 587.7,645.2 588.5,645.2 589.2,645.2 589.9,645.2 590.6,645.2 591.3,645.3 592.1,645.3 592.8,645.3 593.5,645.3 594.2,645.3 594.9,645.3 595.7,645.3 596.4,645.3 597.1,645.3 597.8,645.3 598.5,645.3 599.2,645.3 600.0,645.3 600.7,645.3 601.4,645.3 602.1,645.3 602.8,645.3 603.6,645.3 604.3,645.3 605.0,645.3 605.7,645.3 606.4,645.3 607.2,645.3 607.9,645.3 608.6,645.3 609.3,645.3 610.0,645.3 610.8,645.3 611.5,645.3 612.2,645.3 612.9,645.3 613.6,645.3 614.4,645.3 615.1,645.3 615.8,645.3 616.5,645.3 617.2,645.3 617.9,645.3 618.7,645.4 619.4,645.4 620.1,645.4 620.8,645.4 621.5,645.4 622.3,645.4 623.0,645.4 623.7,645.4 624.4,645.4 625.1,645.4 625.9,645.4 626.6,645.4 627.3,645.4 628.0,645.4 628.7,645.4 629.5,645.4 630.2,645.4 630.9,645.4 631.6,645.4 632.3,645.4 633.1,645.4 633.8,645.4 634.5,645.4 635.2,645.4 635.9,645.4 636.6,645.4 637.4,645.4 638.1,645.4 638.8,645.4 639.5,645.4 640.2,645.4 641.0,645.4 641.7,645.4 642.4,645.4 643.1,645.4 643.8,645.4 644.6,645.4 645.3,645.4 646.0,645.4 646.7,645.4 647.4,645.4 648.2,645.4 648.9,645.4 649.6,645.4 650.3,645.4 651.0,645.4 651.8,645.4 652.5,645.4 653.2,645.4 653.9,645.4 654.6,645.4 655.3,645.4 656.1,645.4 656.8,645.4 657.5,645.4 658.2,645.4 658.9,645.4 659.7,645.4 660.4,645.4 661.1,645.4 661.8,645.4 662.5,645.4 663.3,645.4 664.0,645.4 664.7,645.4 665.4,645.4 666.1,645.4 666.9,645.4 667.6,645.4 668.3,645.4 669.0,645.4 669.7,645.4 670.5,645.4 671.2,645.4 671.9,645.4 672.6,645.4 673.3,645.4 674.0,645.4 674.8,645.4 675.5,645.4 676.2,645.4 676.9,645.4 677.6,645.4 678.4,645.4 679.1,645.4 679.8,645.4 680.5,645.4 681.2,645.4 682.0,645.4 682.7,645.4 683.4,645.4" stroke="#222" stroke-width="1.8" fill="none" stroke-linejoin="round"/>
<path d="M108.0,645.5 108.7,645.5 109.4,645.5 110.2,645.5 110.9,645.5 111.6,645.5 112.3,645.5 113.0,645.5 113.8,645.5 114.5,645.5 115.2,645.5 115.9,645.5 116.6,645.5 117.4,645.5 118.1,645.5 118.8,645.5 119.5,645.5 120.2,645.5 120.9,645.5 121.7,645.5 122.4,645.5 123.1,645.5 123.8,645.5 124.5,645.5 125.3,645.5 126.0,645.5 126.7,645.5 127.4,645.5 128.1,645.5 128.9,645.5 129.6,645.5 130.3,645.5 131.0,645.5 131.7,645.5 132.5,645.5 133.2,645.5 133.9,645.5 134.6,645.5 135.3,645.5 136.1,645.5 136.8,645.5 137.5,645.5 138.2,645.5 138.9,645.5 139.6,645.5 140.4,645.5 141.1,645.5 141.8,645.5 142.5,645.5 143.2,645.5 144.0,645.5 144.7,645.5 145.4,645.5 146.1,645.5 146.8,645.5 147.6,645.5 148.3,645.5 149.0,645.5 149.7,645.4 150.4,645.4 151.2,645.4 151.9,645.4 152.6,645.4 153.3,645.4 154.0,645.4 154.8,645.4 155.5,645.4 156.2,645.4 156.9,645.4 157.6,645.4 158.3,645.4 159.1,645.4 159.8,645.4 160.5,645.4 161.2,645.4 161.9,645.4 162.7,645.4 163.4,645.4 164.1,645.4 164.8,645.4 165.5,645.4 166.3,645.4 167.0,645.4 167.7,645.4 168.4,645.4 169.1,645.4 169.9,645.4 170.6,645.4 171.3,645.4 172.0,645.4 172.7,645.4 173.5,645.4 174.2,645.3 174.9,645.3 175.6,645.3 176.3,645.3 177.0,645.3 177.8,645.3 178.5,645.3 179.2,645.3 179.9,645.3 180.6,645.2 181.4,645.2 182.1,645.2 182.8,645.2 183.5,645.2 184.2,645.1 185.0,645.1 185.7,645.1 186.4,645.0 187.1,644.9 187.8,644.6 188.6,644.3 189.3,643.8 190.0,643.2 190.7,642.5 191.4,640.7 192.2,636.8 192.9,633.0 193.6,629.5 194.3,627.5 195.0,629.5 195.7,633.0 196.5,636.5 197.2,640.0 197.9,641.7 198.6,642.3 199.3,642.9 200.1,643.3 200.8,643.6 201.5,643.6 202.2,643.6 202.9,643.5 203.7,643.4 204.4,643.3 205.1,643.1 205.8,642.8 206.5,642.6 207.3,642.3 208.0,641.9 208.7,641.3 209.4,640.5 210.1,639.6 210.9,638.6 211.6,637.6 212.3,636.7 213.0,635.7 213.7,634.5 214.4,633.2 215.2,632.2 215.9,631.6 216.6,631.7 217.3,632.2 218.0,632.9 218.8,633.6 219.5,634.1 220.2,634.5 220.9,634.7 221.6,634.5 222.4,633.9 223.1,633.6 223.8,633.7 224.5,634.2 225.2,634.6 226.0,635.0 226.7,635.1 227.4,634.8 228.1,634.1 228.8,633.2 229.6,632.2 230.3,631.2 231.0,630.5 231.7,630.0 232.4,629.7 233.1,629.4 233.9,629.2 234.6,629.0 235.3,628.8 236.0,628.7 236.7,628.7 237.5,628.9 238.2,629.4 238.9,629.9 239.6,630.3 240.3,630.2 241.1,629.3 241.8,627.9 242.5,626.6 243.2,626.1 243.9,626.5 244.7,627.4 245.4,628.7 246.1,630.2 246.8,631.5 247.5,632.7 248.3,634.1 249.0,635.5 249.7,636.9 250.4,638.2 251.1,639.1 251.8,639.6 252.6,639.9 253.3,640.1 254.0,640.4 254.7,640.6 255.4,640.8 256.2,640.9 256.9,641.1 257.6,641.2 258.3,641.3 259.0,641.4 259.8,641.4 260.5,641.4 261.2,641.4 261.9,641.4 262.6,641.4 263.4,641.4 264.1,641.4 264.8,641.3 265.5,641.3 266.2,641.3 267.0,641.2 267.7,641.2 268.4,641.1 269.1,641.0 269.8,640.8 270.6,640.5 271.3,640.2 272.0,639.9 272.7,639.5 273.4,639.1 274.1,638.7 274.9,638.2 275.6,637.6 276.3,637.0 277.0,636.3 277.7,635.5 278.5,634.6 279.2,633.6 279.9,632.3 280.6,630.7 281.3,629.0 282.1,626.9 282.8,624.5 283.5,621.5 284.2,617.7 284.9,612.7 285.7,604.6 286.4,592.3 287.1,577.3 287.8,561.0 288.5,542.5 289.3,520.7 290.0,506.5 290.7,495.6 291.4,492.3 292.1,495.2 292.8,499.9 293.6,503.8 294.3,506.2 295.0,508.3 295.7,509.2 296.4,505.7 297.2,499.4 297.9,493.9 298.6,489.2 299.3,491.2 300.0,503.8 300.8,518.9 301.5,536.0 302.2,555.4 302.9,570.2 303.6,578.1 304.4,583.6 305.1,584.5 305.8,582.6 306.5,579.2 307.2,574.7 308.0,566.0 308.7,553.0 309.4,538.1 310.1,518.1 310.8,496.1 311.5,480.2 312.3,467.3 313.0,465.0 313.7,470.1 314.4,478.4 315.1,496.4 315.9,520.7 316.6,542.7 317.3,565.4 318.0,582.0 318.7,590.7 319.5,596.7 320.2,600.8 320.9,604.3 321.6,607.1 322.3,608.8 323.1,609.3 323.8,609.6 324.5,609.7 325.2,609.7 325.9,609.4 326.7,609.0 327.4,608.7 328.1,608.5 328.8,608.6 329.5,608.9 330.2,609.4 331.0,609.9 331.7,610.4 332.4,611.0 333.1,611.6 333.8,612.2 334.6,613.0 335.3,613.8 336.0,614.7 336.7,615.7 337.4,616.7 338.2,617.9 338.9,619.2 339.6,620.8 340.3,622.3 341.0,623.9 341.8,625.5 342.5,626.9 343.2,628.5 343.9,630.0 344.6,631.6 345.4,633.1 346.1,634.5 346.8,635.6 347.5,636.6 348.2,637.5 348.9,638.4 349.7,639.2 350.4,639.8 351.1,640.4 351.8,640.9 352.5,641.3 353.3,641.6 354.0,642.0 354.7,642.2 355.4,642.5 356.1,642.7 356.9,643.0 357.6,643.1 358.3,643.3 359.0,643.4 359.7,643.5 360.5,643.6 361.2,643.7 361.9,643.8 362.6,643.9 363.3,644.0 364.1,644.1 364.8,644.1 365.5,644.2 366.2,644.2 366.9,644.2 367.6,644.2 368.4,644.2 369.1,644.2 369.8,644.2 370.5,644.2 371.2,644.2 372.0,644.2 372.7,644.2 373.4,644.2 374.1,644.3 374.8,644.3 375.6,644.3 376.3,644.3 377.0,644.3 377.7,644.3 378.4,644.3 379.2,644.3 379.9,644.3 380.6,644.3 381.3,644.3 382.0,644.3 382.8,644.3 383.5,644.3 384.2,644.3 384.9,644.3 385.6,644.3 386.3,644.3 387.1,644.3 387.8,644.3 388.5,644.3 389.2,644.3 389.9,644.3 390.7,644.2 391.4,644.1 392.1,643.9 392.8,643.6 393.5,643.3 394.3,642.9 395.0,642.5 395.7,642.1 396.4,641.8 397.1,641.4 397.9,641.0 398.6,640.6 399.3,640.1 400.0,639.7 400.7,639.4 401.5,639.3 402.2,639.3 402.9,639.4 403.6,639.5 404.3,639.7 405.1,640.0 405.8,640.2 406.5,640.4 407.2,640.7 407.9,641.0 408.6,641.3 409.4,641.8 410.1,642.2 410.8,642.6 411.5,643.0 412.2,643.3 413.0,643.5 413.7,643.7 414.4,643.8 415.1,644.0 415.8,644.1 416.6,644.2 417.3,644.3 418.0,644.4 418.7,644.5 419.4,644.6 420.2,644.7 420.9,644.7 421.6,644.8 422.3,644.9 423.0,644.9 423.8,644.9 424.5,644.9 425.2,645.0 425.9,645.0 426.6,645.0 427.3,645.0 428.1,645.0 428.8,645.1 429.5,645.1 430.2,645.1 430.9,645.1 431.7,645.1 432.4,645.1 433.1,645.1 433.8,645.1 434.5,645.2 435.3,645.2 436.0,645.2 436.7,645.2 437.4,645.2 438.1,645.2 438.9,645.2 439.6,645.2 440.3,645.2 441.0,645.2 441.7,645.3 442.5,645.3 443.2,645.3 443.9,645.3 444.6,645.3 445.3,645.3 446.0,645.3 446.8,645.3 447.5,645.3 448.2,645.3 448.9,645.3 449.6,645.3 450.4,645.3 451.1,645.3 451.8,645.3 452.5,645.3 453.2,645.3 454.0,645.3 454.7,645.3 455.4,645.3 456.1,645.3 456.8,645.3 457.6,645.3 458.3,645.3 459.0,645.3 459.7,645.3 460.4,645.3 461.2,645.3 461.9,645.3 462.6,645.3 463.3,645.3 464.0,645.3 464.7,645.3 465.5,645.3 466.2,645.3 466.9,645.3 467.6,645.3 468.3,645.3 469.1,645.3 469.8,645.3 470.5,645.3 471.2,645.3 471.9,645.3 472.7,645.3 473.4,645.3 474.1,645.3 474.8,645.3 475.5,645.3 476.3,645.3 477.0,645.3 477.7,645.3 478.4,645.3 479.1,645.3 479.9,645.3 480.6,645.3 481.3,645.3 482.0,645.3 482.7,645.3 483.4,645.3 484.2,645.3 484.9,645.3 485.6,645.3 486.3,645.3 487.0,645.3 487.8,645.3 488.5,645.3 489.2,645.3 489.9,645.3 490.6,645.3 491.4,645.2 492.1,645.2 492.8,645.2 493.5,645.2 494.2,645.2 495.0,645.1 495.7,645.0 496.4,644.9 497.1,644.7 497.8,644.6 498.6,644.4 499.3,644.3 500.0,644.1 500.7,644.0 501.4,644.0 502.1,644.0 502.9,644.0 503.6,644.1 504.3,644.2 505.0,644.3 505.7,644.5 506.5,644.6 507.2,644.6 507.9,644.7 508.6,644.7 509.3,644.7 510.1,644.6 510.8,644.6 511.5,644.6 512.2,644.6 512.9,644.6 513.7,644.5 514.4,644.5 515.1,644.4 515.8,644.4 516.5,644.3 517.3,644.2 518.0,644.2 518.7,643.1 519.4,640.8 520.1,638.2 520.8,636.1 521.6,634.0 522.3,632.7 523.0,632.2 523.7,631.8 524.4,631.6 525.2,631.5 525.9,631.7 526.6,632.2 527.3,632.7 528.0,632.9 528.8,632.7 529.5,632.0 530.2,631.4 530.9,631.1 531.6,631.4 532.4,631.9 533.1,632.5 533.8,632.7 534.5,632.4 535.2,631.8 536.0,631.1 536.7,630.8 537.4,631.0 538.1,631.3 538.8,631.7 539.5,631.9 540.3,631.7 541.0,631.1 541.7,630.4 542.4,629.7 543.1,629.0 543.9,628.0 544.6,626.9 545.3,625.5 546.0,623.7 546.7,621.2 547.5,615.8 548.2,608.2 548.9,602.2 549.6,596.6 550.3,591.2 551.1,586.5 551.8,582.7 552.5,579.9 553.2,577.3 553.9,575.2 554.7,574.2 555.4,574.8 556.1,577.1 556.8,580.5 557.5,584.3 558.3,589.7 559.0,596.8 559.7,604.0 560.4,611.6 561.1,618.3 561.8,623.8 562.6,628.4 563.3,631.6 564.0,634.1 564.7,636.2 565.4,637.8 566.2,638.8 566.9,639.7 567.6,640.5 568.3,641.1 569.0,641.7 569.8,642.2 570.5,642.6 571.2,643.0 571.9,643.3 572.6,643.6 573.4,643.9 574.1,644.2 574.8,644.4 575.5,644.6 576.2,644.7 577.0,644.8 577.7,644.8 578.4,644.9 579.1,644.9 579.8,644.9 580.5,645.0 581.3,645.0 582.0,645.0 582.7,645.1 583.4,645.1 584.1,645.1 584.9,645.1 585.6,645.1 586.3,645.2 587.0,645.2 587.7,645.2 588.5,645.2 589.2,645.2 589.9,645.2 590.6,645.2 591.3,645.3 592.1,645.3 592.8,645.3 593.5,645.3 594.2,645.3 594.9,645.3 595.7,645.3 596.4,645.3 597.1,645.3 597.8,645.3 598.5,645.3 599.2,645.3 600.0,645.3 600.7,645.3 601.4,645.3 602.1,645.3 602.8,645.3 603.6,645.3 604.3,645.3 605.0,645.3 605.7,645.3 606.4,645.3 607.2,645.3 607.9,645.3 608.6,645.3 609.3,645.3 610.0,645.3 610.8,645.3 611.5,645.3 612.2,645.3 612.9,645.3 613.6,645.3 614.4,645.3 615.1,645.3 615.8,645.3 616.5,645.3 617.2,645.3 617.9,645.3 618.7,645.4 619.4,645.4 620.1,645.4 620.8,645.4 621.5,645.4 622.3,645.4 623.0,645.4 623.7,645.4 624.4,645.4 625.1,645.4 625.9,645.4 626.6,645.4 627.3,645.4 628.0,645.4 628.7,645.4 629.5,645.4 630.2,645.4 630.9,645.4 631.6,645.4 632.3,645.4 633.1,645.4 633.8,645.4 634.5,645.4 635.2,645.4 635.9,645.4 636.6,645.4 637.4,645.4 638.1,645.4 638.8,645.4 639.5,645.4 640.2,645.4 641.0,645.4 641.7,645.4 642.4,645.4 643.1,645.4 643.8,645.4 644.6,645.4 645.3,645.4 646.0,645.4 646.7,645.4 647.4,645.4 648.2,645.4 648.9,645.4 649.6,645.4 650.3,645.4 651.0,645.4 651.8,645.4 652.5,645.4 653.2,645.4 653.9,645.4 654.6,645.4 655.3,645.4 656.1,645.4 656.8,645.4 657.5,645.4 658.2,645.4 658.9,645.4 659.7,645.4 660.4,645.4 661.1,645.4 661.8,645.4 662.5,645.4 663.3,645.4 664.0,645.4 664.7,645.4 665.4,645.4 666.1,645.4 666.9,645.4 667.6,645.4 668.3,645.4 669.0,645.4 669.7,645.4 670.5,645.4 671.2,645.4 671.9,645.4 672.6,645.4 673.3,645.4 674.0,645.4 674.8,645.4 675.5,645.4 676.2,645.4 676.9,645.4 677.6,645.4 678.4,645.4 679.1,645.4 679.8,645.4 680.5,645.4 681.2,645.4 682.0,645.4 682.7,645.4 683.4,645.4" stroke="#000" stroke-width="1.8" fill="none" stroke-linejoin="round"/>
<path d="M108.0,645.4 108.7,645.4 109.4,645.4 110.2,645.4 110.9,645.4 111.6,645.4 112.3,645.4 113.0,645.4 113.8,645.4 114.5,645.4 115.2,645.4 115.9,645.4 116.6,645.4 117.4,645.4 118.1,645.4 118.8,645.4 119.5,645.4 120.2,645.4 120.9,645.4 121.7,645.4 122.4,645.4 123.1,645.4 123.8,645.4 124.5,645.4 125.3,645.4 126.0,645.4 126.7,645.4 127.4,645.4 128.1,645.4 128.9,645.4 129.6,645.4 130.3,645.4 131.0,645.4 131.7,645.4 132.5,645.4 133.2,645.4 133.9,645.4 134.6,645.4 135.3,645.4 136.1,645.4 136.8,645.4 137.5,645.4 138.2,645.4 138.9,645.4 139.6,645.4 140.4,645.4 141.1,645.4 141.8,645.4 142.5,645.4 143.2,645.4 144.0,645.4 144.7,645.4 145.4,645.4 146.1,645.4 146.8,645.4 147.6,645.4 148.3,645.4 149.0,645.4 149.7,645.4 150.4,645.4 151.2,645.4 151.9,645.4 152.6,645.4 153.3,645.4 154.0,645.4 154.8,645.4 155.5,645.4 156.2,645.4 156.9,645.4 157.6,645.4 158.3,645.4 159.1,645.4 159.8,645.4 160.5,645.4 161.2,645.4 161.9,645.3 162.7,645.3 163.4,645.3 164.1,645.3 164.8,645.3 165.5,645.3 166.3,645.3 167.0,645.3 167.7,645.3 168.4,645.3 169.1,645.3 169.9,645.3 170.6,645.3 171.3,645.3 172.0,645.3 172.7,645.3 173.5,645.3 174.2,645.3 174.9,645.3 175.6,645.3 176.3,645.2 177.0,645.2 177.8,645.2 178.5,645.2 179.2,645.2 179.9,645.2 180.6,645.2 181.4,645.1 182.1,645.1 182.8,645.1 183.5,645.1 184.2,645.1 185.0,645.0 185.7,645.0 186.4,644.9 187.1,644.7 187.8,644.4 188.6,643.9 189.3,643.4 190.0,642.6 190.7,641.8 191.4,639.3 192.2,633.9 192.9,628.3 193.6,622.3 194.3,618.7 195.0,622.4 195.7,628.3 196.5,633.5 197.2,638.3 197.9,640.7 198.6,641.6 199.3,642.3 200.1,642.9 200.8,643.2 201.5,643.3 202.2,643.3 202.9,643.2 203.7,643.0 204.4,642.8 205.1,642.6 205.8,642.3 206.5,641.9 207.3,641.6 208.0,641.0 208.7,640.2 209.4,639.2 210.1,638.0 210.9,636.7 211.6,635.3 212.3,634.1 213.0,632.6 213.7,630.8 214.4,629.0 215.2,627.5 215.9,626.6 216.6,626.7 217.3,627.6 218.0,628.9 218.8,630.1 219.5,631.0 220.2,631.8 220.9,632.2 221.6,632.1 222.4,631.6 223.1,631.4 223.8,631.8 224.5,632.8 225.2,633.9 226.0,634.9 226.7,635.1 227.4,634.7 228.1,633.8 228.8,632.5 229.6,631.1 230.3,629.6 231.0,628.3 231.7,627.2 232.4,626.1 233.1,625.1 233.9,624.0 234.6,623.0 235.3,622.2 236.0,621.7 236.7,621.6 237.5,622.0 238.2,622.8 238.9,623.6 239.6,624.2 240.3,624.1 241.1,622.9 241.8,621.1 242.5,619.5 243.2,618.7 243.9,619.4 244.7,621.1 245.4,623.3 246.1,625.8 246.8,627.9 247.5,629.7 248.3,631.6 249.0,633.6 249.7,635.5 250.4,637.1 251.1,638.3 251.8,638.9 252.6,639.2 253.3,639.5 254.0,639.8 254.7,640.0 255.4,640.2 256.2,640.4 256.9,640.5 257.6,640.7 258.3,640.8 259.0,640.8 259.8,640.9 260.5,640.9 261.2,640.9 261.9,640.9 262.6,640.9 263.4,640.9 264.1,640.8 264.8,640.8 265.5,640.8 266.2,640.8 267.0,640.7 267.7,640.7 268.4,640.6 269.1,640.4 269.8,640.1 270.6,639.8 271.3,639.4 272.0,639.0 272.7,638.5 273.4,638.0 274.1,637.5 274.9,636.8 275.6,636.1 276.3,635.3 277.0,634.3 277.7,633.2 278.5,632.1 279.2,630.7 279.9,629.0 280.6,626.9 281.3,624.4 282.1,621.6 282.8,618.3 283.5,614.0 284.2,608.6 284.9,601.6 285.7,590.3 286.4,573.3 287.1,552.3 287.8,529.4 288.5,503.2 289.3,471.9 290.0,450.4 290.7,433.3 291.4,428.0 292.1,432.5 292.8,440.2 293.6,446.4 294.3,450.7 295.0,454.4 295.7,456.0 296.4,450.0 297.2,439.3 297.9,429.6 298.6,420.9 299.3,424.2 300.0,444.5 300.8,468.6 301.5,494.0 302.2,522.1 302.9,543.5 303.6,555.3 304.4,563.6 305.1,565.0 305.8,562.4 306.5,557.6 307.2,551.4 308.0,539.6 308.7,522.0 309.4,501.9 310.1,474.7 310.8,444.7 311.5,422.7 312.3,404.7 313.0,402.5 313.7,418.3 314.4,439.7 315.1,468.7 315.9,502.0 316.6,531.3 317.3,559.5 318.0,579.5 318.7,590.1 319.5,597.3 320.2,602.2 320.9,606.3 321.6,609.5 322.3,611.6 323.1,612.6 323.8,613.3 324.5,613.6 325.2,613.4 325.9,612.6 326.7,611.6 327.4,610.4 328.1,609.4 328.8,608.5 329.5,607.5 330.2,606.5 331.0,605.6 331.7,605.0 332.4,604.8 333.1,605.0 333.8,605.7 334.6,606.8 335.3,608.1 336.0,609.5 336.7,611.0 337.4,612.3 338.2,613.8 338.9,615.5 339.6,617.3 340.3,619.2 341.0,621.0 341.8,622.8 342.5,624.5 343.2,626.2 343.9,627.9 344.6,629.6 345.4,631.2 346.1,632.7 346.8,634.0 347.5,635.1 348.2,636.2 348.9,637.2 349.7,638.1 350.4,638.9 351.1,639.6 351.8,640.1 352.5,640.6 353.3,641.0 354.0,641.4 354.7,641.8 355.4,642.1 356.1,642.4 356.9,642.7 357.6,642.9 358.3,643.1 359.0,643.2 359.7,643.4 360.5,643.5 361.2,643.6 361.9,643.8 362.6,643.9 363.3,644.0 364.1,644.1 364.8,644.1 365.5,644.2 366.2,644.2 366.9,644.2 367.6,644.2 368.4,644.2 369.1,644.2 369.8,644.2 370.5,644.2 371.2,644.2 372.0,644.2 372.7,644.2 373.4,644.2 374.1,644.2 374.8,644.2 375.6,644.2 376.3,644.2 377.0,644.2 377.7,644.2 378.4,644.2 379.2,644.2 379.9,644.2 380.6,644.2 381.3,644.2 382.0,644.1 382.8,644.1 383.5,644.1 384.2,644.1 384.9,644.1 385.6,644.1 386.3,644.1 387.1,644.1 387.8,644.0 388.5,644.0 389.2,644.0 389.9,644.0 390.7,643.9 391.4,643.7 392.1,643.5 392.8,643.1 393.5,642.7 394.3,642.3 395.0,641.8 395.7,641.3 396.4,640.9 397.1,640.5 397.9,640.0 398.6,639.3 399.3,638.7 400.0,638.1 400.7,637.7 401.5,637.6 402.2,637.6 402.9,637.7 403.6,637.9 404.3,638.2 405.1,638.4 405.8,638.7 406.5,639.0 407.2,639.3 407.9,639.7 408.6,640.2 409.4,640.7 410.1,641.2 410.8,641.8 411.5,642.2 412.2,642.6 413.0,642.9 413.7,643.1 414.4,643.3 415.1,643.4 415.8,643.6 416.6,643.7 417.3,643.9 418.0,644.0 418.7,644.1 419.4,644.2 420.2,644.3 420.9,644.4 421.6,644.5 422.3,644.5 423.0,644.6 423.8,644.6 424.5,644.7 425.2,644.7 425.9,644.7 426.6,644.7 427.3,644.8 428.1,644.8 428.8,644.8 429.5,644.8 430.2,644.8 430.9,644.9 431.7,644.9 432.4,644.9 433.1,644.9 433.8,644.9 434.5,644.9 435.3,644.9 436.0,645.0 436.7,645.0 437.4,645.0 438.1,645.0 438.9,645.0 439.6,645.0 440.3,645.0 441.0,645.0 441.7,645.0 442.5,645.1 443.2,645.1 443.9,645.1 444.6,645.1 445.3,645.1 446.0,645.1 446.8,645.1 447.5,645.1 448.2,645.1 448.9,645.1 449.6,645.1 450.4,645.1 451.1,645.1 451.8,645.1 452.5,645.1 453.2,645.1 454.0,645.1 454.7,645.1 455.4,645.1 456.1,645.1 456.8,645.1 457.6,645.1 458.3,645.1 459.0,645.1 459.7,645.1 460.4,645.1 461.2,645.1 461.9,645.1 462.6,645.1 463.3,645.1 464.0,645.1 464.7,645.1 465.5,645.1 466.2,645.1 466.9,645.1 467.6,645.1 468.3,645.1 469.1,645.1 469.8,645.1 470.5,645.1 471.2,645.1 471.9,645.1 472.7,645.1 473.4,645.1 474.1,645.1 474.8,645.1 475.5,645.1 476.3,645.1 477.0,645.1 477.7,645.1 478.4,645.1 479.1,645.1 479.9,645.1 480.6,645.1 481.3,645.1 482.0,645.1 482.7,645.1 483.4,645.1 484.2,645.1 484.9,645.1 485.6,645.0 486.3,645.0 487.0,645.0 487.8,645.0 488.5,645.0 489.2,645.0 489.9,645.0 490.6,645.0 491.4,645.0 492.1,645.0 492.8,645.0 493.5,645.0 494.2,645.0 495.0,644.9 495.7,644.7 496.4,644.5 497.1,644.3 497.8,644.1 498.6,643.9 499.3,643.7 500.0,643.5 500.7,643.4 501.4,643.4 502.1,643.3 502.9,643.4 503.6,643.5 504.3,643.7 505.0,643.8 505.7,644.0 506.5,644.1 507.2,644.2 507.9,644.2 508.6,644.2 509.3,644.2 510.1,644.2 510.8,644.2 511.5,644.2 512.2,644.1 512.9,644.1 513.7,644.0 514.4,644.0 515.1,643.9 515.8,643.9 516.5,643.8 517.3,643.7 518.0,643.6 518.7,642.2 519.4,639.1 520.1,635.6 520.8,632.7 521.6,630.0 522.3,628.3 523.0,627.5 523.7,627.0 524.4,626.6 525.2,626.5 525.9,626.8 526.6,627.4 527.3,628.0 528.0,628.3 528.8,627.8 529.5,626.9 530.2,626.0 530.9,625.6 531.6,625.9 532.4,626.6 533.1,627.3 533.8,627.6 534.5,627.1 535.2,626.2 536.0,625.2 536.7,624.7 537.4,624.9 538.1,625.4 538.8,625.8 539.5,626.0 540.3,625.7 541.0,624.8 541.7,623.7 542.4,622.7 543.1,622.0 543.9,621.2 544.6,620.0 545.3,618.6 546.0,616.6 546.7,613.8 547.5,606.6 548.2,595.9 548.9,587.0 549.6,578.5 550.3,570.2 551.1,562.4 551.8,555.3 552.5,548.7 553.2,541.7 553.9,535.8 554.7,532.8 555.4,534.2 556.1,539.6 556.8,547.3 557.5,555.6 558.3,565.0 559.0,576.4 559.7,587.8 560.4,599.9 561.1,610.3 561.8,618.6 562.6,625.4 563.3,629.7 564.0,632.7 564.7,635.1 565.4,636.8 566.2,638.0 566.9,639.0 567.6,639.9 568.3,640.6 569.0,641.3 569.8,641.8 570.5,642.3 571.2,642.7 571.9,643.0 572.6,643.4 573.4,643.7 574.1,644.0 574.8,644.2 575.5,644.4 576.2,644.6 577.0,644.7 577.7,644.7 578.4,644.8 579.1,644.8 579.8,644.8 580.5,644.9 581.3,644.9 582.0,644.9 582.7,645.0 583.4,645.0 584.1,645.0 584.9,645.0 585.6,645.1 586.3,645.1 587.0,645.1 587.7,645.1 588.5,645.1 589.2,645.1 589.9,645.2 590.6,645.2 591.3,645.2 592.1,645.2 592.8,645.2 593.5,645.2 594.2,645.2 594.9,645.2 595.7,645.2 596.4,645.2 597.1,645.2 597.8,645.2 598.5,645.2 599.2,645.2 600.0,645.2 600.7,645.2 601.4,645.2 602.1,645.2 602.8,645.2 603.6,645.2 604.3,645.2 605.0,645.2 605.7,645.2 606.4,645.2 607.2,645.3 607.9,645.3 608.6,645.3 609.3,645.3 610.0,645.3 610.8,645.3 611.5,645.3 612.2,645.3 612.9,645.3 613.6,645.3 614.4,645.3 615.1,645.3 615.8,645.3 616.5,645.3 617.2,645.3 617.9,645.3 618.7,645.3 619.4,645.3 620.1,645.3 620.8,645.3 621.5,645.3 622.3,645.3 623.0,645.3 623.7,645.3 624.4,645.3 625.1,645.3 625.9,645.3 626.6,645.3 627.3,645.3 628.0,645.3 628.7,645.3 629.5,645.3 630.2,645.3 630.9,645.3 631.6,645.3 632.3,645.3 633.1,645.3 633.8,645.3 634.5,645.3 635.2,645.3 635.9,645.3 636.6,645.3 637.4,645.3 638.1,645.3 638.8,645.3 639.5,645.3 640.2,645.3 641.0,645.3 641.7,645.3 642.4,645.3 643.1,645.3 643.8,645.3 644.6,645.3 645.3,645.3 646.0,645.3 646.7,645.3 647.4,645.3 648.2,645.3 648.9,645.3 649.6,645.3 650.3,645.3 651.0,645.3 651.8,645.3 652.5,645.3 653.2,645.3 653.9,645.3 654.6,645.3 655.3,645.3 656.1,645.3 656.8,645.3 657.5,645.3 658.2,645.3 658.9,645.3 659.7,645.3 660.4,645.3 661.1,645.3 661.8,645.3 662.5,645.3 663.3,645.3 664.0,645.3 664.7,645.3 665.4,645.3 666.1,645.3 666.9,645.3 667.6,645.3 668.3,645.3 669.0,645.3 669.7,645.3 670.5,645.3 671.2,645.3 671.9,645.3 672.6,645.3 673.3,645.3 674.0,645.3 674.8,645.3 675.5,645.3 676.2,645.3 676.9,645.3 677.6,645.3 678.4,645.3 679.1,645.3 679.8,645.3 680.5,645.3 681.2,645.3 682.0,645.3 682.7,645.3 683.4,645.3" stroke="#7a7a7a" stroke-width="2.0" fill="none" stroke-linejoin="round"/>
</g>
<rect x="108.00" y="326.7" width="575.40" height="2.2" fill="#000"/>
<rect x="108.00" y="644.9" width="575.40" height="1.4" fill="#111"/>
<rect x="108.00" y="646.3" width="575.40" height="1.0" fill="#777"/>
<path d="M143.96,329.50v-4.5M143.96,61.00v4.5M179.93,329.50v-8M179.93,61.00v8M215.89,329.50v-4.5M215.89,61.00v4.5M251.85,329.50v-8M251.85,61.00v8M287.81,329.50v-4.5M287.81,61.00v4.5M323.77,329.50v-8M323.77,61.00v8M359.74,329.50v-4.5M359.74,61.00v4.5M395.70,329.50v-8M395.70,61.00v8M431.66,329.50v-4.5M431.66,61.00v4.5M467.62,329.50v-8M467.62,61.00v8M503.59,329.50v-4.5M503.59,61.00v4.5M539.55,329.50v-8M539.55,61.00v8M575.51,329.50v-4.5M575.51,61.00v4.5M611.48,329.50v-8M611.48,61.00v8M647.44,329.50v-4.5M647.44,61.00v4.5M108.00,274.84h8M683.40,274.84h-8M108.00,221.38h8M683.40,221.38h-8M108.00,167.92h8M683.40,167.92h-8M108.00,114.46h8M683.40,114.46h-8M108.00,301.57h4.5M683.40,301.57h-4.5M108.00,248.11h4.5M683.40,248.11h-4.5M108.00,194.65h4.5M683.40,194.65h-4.5M108.00,141.19h4.5M683.40,141.19h-4.5M108.00,87.73h4.5M683.40,87.73h-4.5" stroke="#000" stroke-width="1.7" fill="none"/>
<rect x="108.0" y="61.0" width="575.40" height="268.50" fill="none" stroke="#000" stroke-width="2.1"/>
<path d="M143.96,648.10v-4.5M143.96,379.90v4.5M179.93,648.10v-8M179.93,379.90v8M215.89,648.10v-4.5M215.89,379.90v4.5M251.85,648.10v-8M251.85,379.90v8M287.81,648.10v-4.5M287.81,379.90v4.5M323.77,648.10v-8M323.77,379.90v8M359.74,648.10v-4.5M359.74,379.90v4.5M395.70,648.10v-8M395.70,379.90v8M431.66,648.10v-4.5M431.66,379.90v4.5M467.62,648.10v-8M467.62,379.90v8M503.59,648.10v-4.5M503.59,379.90v4.5M539.55,648.10v-8M539.55,379.90v8M575.51,648.10v-4.5M575.51,379.90v4.5M611.48,648.10v-8M611.48,379.90v8M647.44,648.10v-4.5M647.44,379.90v4.5M108.00,601.65h8M683.40,601.65h-8M108.00,557.30h8M683.40,557.30h-8M108.00,512.95h8M683.40,512.95h-8M108.00,468.60h8M683.40,468.60h-8M108.00,424.25h8M683.40,424.25h-8M108.00,623.83h4.5M683.40,623.83h-4.5M108.00,579.48h4.5M683.40,579.48h-4.5M108.00,535.12h4.5M683.40,535.12h-4.5M108.00,490.77h4.5M683.40,490.77h-4.5M108.00,446.42h4.5M683.40,446.42h-4.5M108.00,402.07h4.5M683.40,402.07h-4.5" stroke="#000" stroke-width="1.7" fill="none"/>
<rect x="108.0" y="379.9" width="575.40" height="268.20" fill="none" stroke="#000" stroke-width="2.1"/>
<text transform="translate(101.4,279.04) scale(1,1.07)" text-anchor="end" font-size="17.2" font-family="Liberation Sans, sans-serif" stroke="#000" stroke-width="0.45">50000</text>
<text transform="translate(101.4,225.58) scale(1,1.07)" text-anchor="end" font-size="17.2" font-family="Liberation Sans, sans-serif" stroke="#000" stroke-width="0.45">100000</text>
<text transform="translate(101.4,172.12) scale(1,1.07)" text-anchor="end" font-size="17.2" font-family="Liberation Sans, sans-serif" stroke="#000" stroke-width="0.45">150000</text>
<text transform="translate(101.4,118.66) scale(1,1.07)" text-anchor="end" font-size="17.2" font-family="Liberation Sans, sans-serif" stroke="#000" stroke-width="0.45">200000</text>
<text transform="translate(101.4,65.20) scale(1,1.07)" text-anchor="end" font-size="17.2" font-family="Liberation Sans, sans-serif" stroke="#000" stroke-width="0.45">250000</text>
<text transform="translate(99.2,332.50) scale(1,1.07)" text-anchor="end" font-size="17.2" font-family="Liberation Sans, sans-serif" stroke="#000" stroke-width="0.45">0</text>
<text transform="translate(101.4,605.85) scale(1,1.07)" text-anchor="end" font-size="17.2" font-family="Liberation Sans, sans-serif" stroke="#000" stroke-width="0.45">20000</text>
<text transform="translate(101.4,561.50) scale(1,1.07)" text-anchor="end" font-size="17.2" font-family="Liberation Sans, sans-serif" stroke="#000" stroke-width="0.45">40000</text>
<text transform="translate(101.4,517.15) scale(1,1.07)" text-anchor="end" font-size="17.2" font-family="Liberation Sans, sans-serif" stroke="#000" stroke-width="0.45">60000</text>
<text transform="translate(101.4,472.80) scale(1,1.07)" text-anchor="end" font-size="17.2" font-family="Liberation Sans, sans-serif" stroke="#000" stroke-width="0.45">80000</text>
<text transform="translate(101.4,428.45) scale(1,1.07)" text-anchor="end" font-size="17.2" font-family="Liberation Sans, sans-serif" stroke="#000" stroke-width="0.45">100000</text>
<text transform="translate(101.4,384.10) scale(1,1.07)" text-anchor="end" font-size="17.2" font-family="Liberation Sans, sans-serif" stroke="#000" stroke-width="0.45">120000</text>
<text transform="translate(99.2,650.20) scale(1,1.07)" text-anchor="end" font-size="17.2" font-family="Liberation Sans, sans-serif" stroke="#000" stroke-width="0.45">0</text>
<text transform="translate(108.00,353.90) scale(1,1.07)" text-anchor="middle" font-size="18.3" font-family="Liberation Sans, sans-serif" stroke="#000" stroke-width="0.45">550</text>
<text transform="translate(108.00,674.20) scale(1,1.07)" text-anchor="middle" font-size="18.3" font-family="Liberation Sans, sans-serif" stroke="#000" stroke-width="0.45">550</text>
<text transform="translate(179.93,353.90) scale(1,1.07)" text-anchor="middle" font-size="18.3" font-family="Liberation Sans, sans-serif" stroke="#000" stroke-width="0.45">575</text>
<text transform="translate(179.93,674.20) scale(1,1.07)" text-anchor="middle" font-size="18.3" font-family="Liberation Sans, sans-serif" stroke="#000" stroke-width="0.45">575</text>
<text transform="translate(251.85,353.90) scale(1,1.07)" text-anchor="middle" font-size="18.3" font-family="Liberation Sans, sans-serif" stroke="#000" stroke-width="0.45">600</text>
<text transform="translate(251.85,674.20) scale(1,1.07)" text-anchor="middle" font-size="18.3" font-family="Liberation Sans, sans-serif" stroke="#000" stroke-width="0.45">600</text>
<text transform="translate(323.77,353.90) scale(1,1.07)" text-anchor="middle" font-size="18.3" font-family="Liberation Sans, sans-serif" stroke="#000" stroke-width="0.45">625</text>
<text transform="translate(323.77,674.20) scale(1,1.07)" text-anchor="middle" font-size="18.3" font-family="Liberation Sans, sans-serif" stroke="#000" stroke-width="0.45">625</text>
<text transform="translate(395.70,353.90) scale(1,1.07)" text-anchor="middle" font-size="18.3" font-family="Liberation Sans, sans-serif" stroke="#000" stroke-width="0.45">650</text>
<text transform="translate(395.70,674.20) scale(1,1.07)" text-anchor="middle" font-size="18.3" font-family="Liberation Sans, sans-serif" stroke="#000" stroke-width="0.45">650</text>
<text transform="translate(467.62,353.90) scale(1,1.07)" text-anchor="middle" font-size="18.3" font-family="Liberation Sans, sans-serif" stroke="#000" stroke-width="0.45">675</text>
<text transform="translate(467.62,674.20) scale(1,1.07)" text-anchor="middle" font-size="18.3" font-family="Liberation Sans, sans-serif" stroke="#000" stroke-width="0.45">675</text>
<text transform="translate(539.55,353.90) scale(1,1.07)" text-anchor="middle" font-size="18.3" font-family="Liberation Sans, sans-serif" stroke="#000" stroke-width="0.45">700</text>
<text transform="translate(539.55,674.20) scale(1,1.07)" text-anchor="middle" font-size="18.3" font-family="Liberation Sans, sans-serif" stroke="#000" stroke-width="0.45">700</text>
<text transform="translate(611.48,353.90) scale(1,1.07)" text-anchor="middle" font-size="18.3" font-family="Liberation Sans, sans-serif" stroke="#000" stroke-width="0.45">725</text>
<text transform="translate(611.48,674.20) scale(1,1.07)" text-anchor="middle" font-size="18.3" font-family="Liberation Sans, sans-serif" stroke="#000" stroke-width="0.45">725</text>
<text transform="translate(683.40,353.90) scale(1,1.07)" text-anchor="middle" font-size="18.3" font-family="Liberation Sans, sans-serif" stroke="#000" stroke-width="0.45">750</text>
<text transform="translate(683.40,674.20) scale(1,1.07)" text-anchor="middle" font-size="18.3" font-family="Liberation Sans, sans-serif" stroke="#000" stroke-width="0.45">750</text>
<text x="121.8" y="101.9" font-size="33.9" font-weight="bold" font-family="Liberation Sans, sans-serif">(a)</text>
<text x="122.0" y="422.0" font-size="33.9" font-weight="bold" font-family="Liberation Sans, sans-serif">(b)</text>
<text transform="translate(290.0,712.6) scale(1,1.03)" font-size="26.7" font-family="Liberation Sans, sans-serif" stroke="#000" stroke-width="0.45">Wavelength [nm]</text>
<text transform="translate(19.0,536.0) rotate(-90) scale(1,1.03)" font-size="26.85" font-family="Liberation Sans, sans-serif" stroke="#000" stroke-width="0.45">Luminescence Intensity [arb.units]</text>
<g transform="translate(190.30,294.60) rotate(-90)" font-family="Liberation Sans, sans-serif" stroke="#000" stroke-width="0.35"><text x="0.48" y="-11.00" font-size="13.1" stroke-width="0.55">5</text><text x="7.46" y="0.00" font-size="21.2" stroke-width="0.35">D</text><text x="23.39" y="8.60" font-size="13.1" stroke-width="0.55">0</text><path d="M30.3,-4.0H46.8M41.3,-8.8L47.2,-4.0L41.3,0.8" stroke="#000" stroke-width="1.6" fill="none"/><text x="54.03" y="-11.00" font-size="13.1" stroke-width="0.55">7</text><text x="61.46" y="0.00" font-size="21.2" stroke-width="0.35">F</text><text x="73.69" y="8.60" font-size="13.1" stroke-width="0.55">0</text></g>
<g transform="translate(242.50,278.50) rotate(-90)" font-family="Liberation Sans, sans-serif" stroke="#000" stroke-width="0.35"><text x="0.48" y="-11.00" font-size="13.1" stroke-width="0.55">5</text><text x="7.46" y="0.00" font-size="21.2" stroke-width="0.35">D</text><text x="23.39" y="8.60" font-size="13.1" stroke-width="0.55">0</text><path d="M30.3,-4.0H46.8M41.3,-8.8L47.2,-4.0L41.3,0.8" stroke="#000" stroke-width="1.6" fill="none"/><text x="54.03" y="-11.00" font-size="13.1" stroke-width="0.55">7</text><text x="61.46" y="0.00" font-size="21.2" stroke-width="0.35">F</text><text x="73.69" y="8.60" font-size="13.1" stroke-width="0.55">1</text></g>
<g transform="translate(357.70,157.50) rotate(-90)" font-family="Liberation Sans, sans-serif" stroke="#000" stroke-width="0.35"><text x="0.48" y="-11.00" font-size="13.1" stroke-width="0.55">5</text><text x="7.46" y="0.00" font-size="21.2" stroke-width="0.35">D</text><text x="23.39" y="8.60" font-size="13.1" stroke-width="0.55">0</text><path d="M30.3,-4.0H46.8M41.3,-8.8L47.2,-4.0L41.3,0.8" stroke="#000" stroke-width="1.6" fill="none"/><text x="54.03" y="-11.00" font-size="13.1" stroke-width="0.55">7</text><text x="61.46" y="0.00" font-size="21.2" stroke-width="0.35">F</text><text x="73.69" y="8.60" font-size="13.1" stroke-width="0.55">2</text></g>
<g transform="translate(414.60,301.90) rotate(-90)" font-family="Liberation Sans, sans-serif" stroke="#000" stroke-width="0.35"><text x="0.48" y="-11.00" font-size="13.1" stroke-width="0.55">5</text><text x="7.46" y="0.00" font-size="21.2" stroke-width="0.35">D</text><text x="23.39" y="8.60" font-size="13.1" stroke-width="0.55">0</text><path d="M30.3,-4.0H46.8M41.3,-8.8L47.2,-4.0L41.3,0.8" stroke="#000" stroke-width="1.6" fill="none"/><text x="54.03" y="-11.00" font-size="13.1" stroke-width="0.55">7</text><text x="61.46" y="0.00" font-size="21.2" stroke-width="0.35">F</text><text x="73.69" y="8.60" font-size="13.1" stroke-width="0.55">3</text></g>
<g transform="translate(518.90,306.50) rotate(-90)" font-family="Liberation Sans, sans-serif" stroke="#000" stroke-width="0.35"><text x="0.48" y="-11.00" font-size="13.1" stroke-width="0.55">5</text><text x="7.46" y="0.00" font-size="21.2" stroke-width="0.35">D</text><text x="23.39" y="8.60" font-size="13.1" stroke-width="0.55">0</text><path d="M30.3,-4.0H46.8M41.3,-8.8L47.2,-4.0L41.3,0.8" stroke="#000" stroke-width="1.6" fill="none"/><text x="54.03" y="-11.00" font-size="13.1" stroke-width="0.55">7</text><text x="61.46" y="0.00" font-size="21.2" stroke-width="0.35">F</text><text x="73.69" y="8.60" font-size="13.1" stroke-width="0.55">4</text></g>
<g transform="translate(196.60,611.10) rotate(-90)" font-family="Liberation Sans, sans-serif" stroke="#000" stroke-width="0.35"><text x="0.48" y="-11.00" font-size="13.1" stroke-width="0.55">5</text><text x="7.46" y="0.00" font-size="21.2" stroke-width="0.35">D</text><text x="23.39" y="8.60" font-size="13.1" stroke-width="0.55">0</text><path d="M30.3,-4.0H46.8M41.3,-8.8L47.2,-4.0L41.3,0.8" stroke="#000" stroke-width="1.6" fill="none"/><text x="54.03" y="-11.00" font-size="13.1" stroke-width="0.55">7</text><text x="61.46" y="0.00" font-size="21.2" stroke-width="0.35">F</text><text x="73.69" y="8.60" font-size="13.1" stroke-width="0.55">0</text></g>
<g transform="translate(241.60,609.40) rotate(-90)" font-family="Liberation Sans, sans-serif" stroke="#000" stroke-width="0.35"><text x="0.48" y="-11.00" font-size="13.1" stroke-width="0.55">5</text><text x="7.46" y="0.00" font-size="21.2" stroke-width="0.35">D</text><text x="23.39" y="8.60" font-size="13.1" stroke-width="0.55">0</text><path d="M30.3,-4.0H46.8M41.3,-8.8L47.2,-4.0L41.3,0.8" stroke="#000" stroke-width="1.6" fill="none"/><text x="54.03" y="-11.00" font-size="13.1" stroke-width="0.55">7</text><text x="61.46" y="0.00" font-size="21.2" stroke-width="0.35">F</text><text x="73.69" y="8.60" font-size="13.1" stroke-width="0.55">1</text></g>
<g transform="translate(347.50,478.40) rotate(-90)" font-family="Liberation Sans, sans-serif" stroke="#000" stroke-width="0.35"><text x="0.48" y="-11.00" font-size="13.1" stroke-width="0.55">5</text><text x="7.46" y="0.00" font-size="21.2" stroke-width="0.35">D</text><text x="23.39" y="8.60" font-size="13.1" stroke-width="0.55">0</text><path d="M30.3,-4.0H46.8M41.3,-8.8L47.2,-4.0L41.3,0.8" stroke="#000" stroke-width="1.6" fill="none"/><text x="54.03" y="-11.00" font-size="13.1" stroke-width="0.55">7</text><text x="61.46" y="0.00" font-size="21.2" stroke-width="0.35">F</text><text x="73.69" y="8.60" font-size="13.1" stroke-width="0.55">2</text></g>
<g transform="translate(407.80,628.90) rotate(-90)" font-family="Liberation Sans, sans-serif" stroke="#000" stroke-width="0.35"><text x="0.48" y="-11.00" font-size="13.1" stroke-width="0.55">5</text><text x="7.46" y="0.00" font-size="21.2" stroke-width="0.35">D</text><text x="23.39" y="8.60" font-size="13.1" stroke-width="0.55">0</text><path d="M30.3,-4.0H46.8M41.3,-8.8L47.2,-4.0L41.3,0.8" stroke="#000" stroke-width="1.6" fill="none"/><text x="54.03" y="-11.00" font-size="13.1" stroke-width="0.55">7</text><text x="61.46" y="0.00" font-size="21.2" stroke-width="0.35">F</text><text x="73.69" y="8.60" font-size="13.1" stroke-width="0.55">3</text></g>
<g transform="translate(530.70,606.60) rotate(-90)" font-family="Liberation Sans, sans-serif" stroke="#000" stroke-width="0.35"><text x="0.48" y="-11.00" font-size="13.1" stroke-width="0.55">5</text><text x="7.46" y="0.00" font-size="21.2" stroke-width="0.35">D</text><text x="23.39" y="8.60" font-size="13.1" stroke-width="0.55">0</text><path d="M30.3,-4.0H46.8M41.3,-8.8L47.2,-4.0L41.3,0.8" stroke="#000" stroke-width="1.6" fill="none"/><text x="54.03" y="-11.00" font-size="13.1" stroke-width="0.55">7</text><text x="61.46" y="0.00" font-size="21.2" stroke-width="0.35">F</text><text x="73.69" y="8.60" font-size="13.1" stroke-width="0.55">4</text></g>
<rect x="508.2" y="6" width="192" height="203.8" fill="#000"/>
<rect x="502.7" y="0.1" width="190.3" height="203.6" fill="#fff" stroke="#000" stroke-width="1.5"/>
<path d="M530.3,38.30H579.5" stroke="#000" stroke-width="2.0"/>
<text transform="translate(585.1,45.70) scale(1,1.06)" font-size="21.3" font-family="Liberation Sans, sans-serif" stroke="#000" stroke-width="0.45">0.5% Eu<tspan font-size="13.4" dx="0.8" dy="-10.4">3+</tspan></text>
<path d="M530.3,69.02H579.5" stroke="#2a2a2a" stroke-width="1.8"/>
<text transform="translate(585.1,76.42) scale(1,1.06)" font-size="21.3" font-family="Liberation Sans, sans-serif" stroke="#000" stroke-width="0.45">1% Eu<tspan font-size="13.4" dx="0.8" dy="-10.4">3+</tspan></text>
<path d="M530.3,99.74H579.5" stroke="#2a2a2a" stroke-width="1.8"/>
<text transform="translate(585.1,107.14) scale(1,1.06)" font-size="21.3" font-family="Liberation Sans, sans-serif" stroke="#000" stroke-width="0.45">2% Eu<tspan font-size="13.4" dx="0.8" dy="-10.4">3+</tspan></text>
<path d="M530.3,130.46H579.5" stroke="#000" stroke-width="2.0"/>
<text transform="translate(585.1,137.86) scale(1,1.06)" font-size="21.3" font-family="Liberation Sans, sans-serif" stroke="#000" stroke-width="0.45">3% Eu<tspan font-size="13.4" dx="0.8" dy="-10.4">3+</tspan></text>
<path d="M530.3,161.18H579.5" stroke="#7a7a7a" stroke-width="2.0"/>
<text transform="translate(585.1,168.58) scale(1,1.06)" font-size="21.3" font-family="Liberation Sans, sans-serif" stroke="#000" stroke-width="0.45">4% Eu<tspan font-size="13.4" dx="0.8" dy="-10.4">3+</tspan></text>
<path d="M530.3,191.90H579.5" stroke="#111" stroke-width="1.8"/>
<text transform="translate(585.1,199.30) scale(1,1.06)" font-size="21.3" font-family="Liberation Sans, sans-serif" stroke="#000" stroke-width="0.45">5% Eu<tspan font-size="13.4" dx="0.8" dy="-10.4">3+</tspan></text>
</svg></body></html>
